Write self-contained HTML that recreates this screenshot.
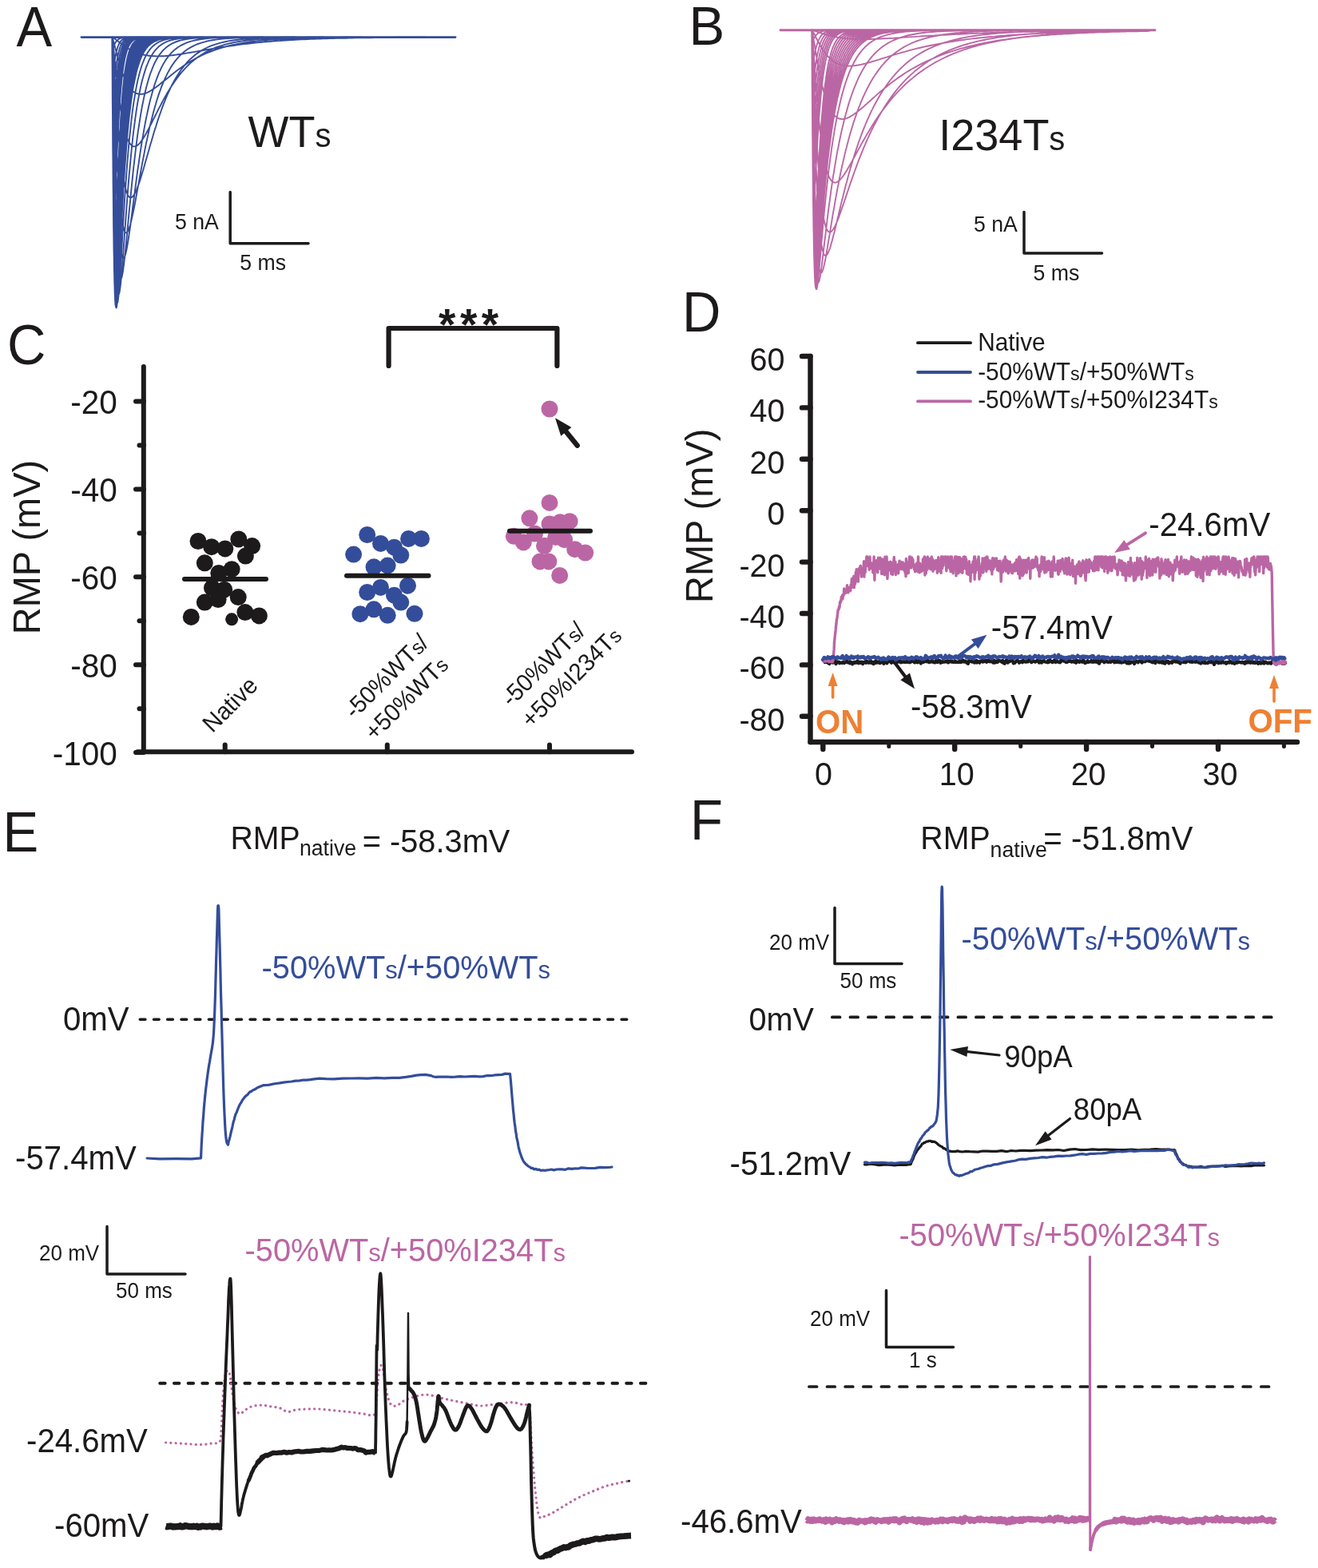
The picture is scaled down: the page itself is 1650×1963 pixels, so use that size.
<!DOCTYPE html>
<html lang="en"><head><meta charset="utf-8"><title>Figure</title>
<style>
html,body{margin:0;padding:0;background:#fff;}
body{width:1650px;height:1963px;overflow:hidden;}
svg{display:block;font-family:"Liberation Sans", Arial, Helvetica, sans-serif;}
text{white-space:pre;}
</style></head><body>
<svg width="1650" height="1963" viewBox="0 0 1650 1963">
<rect width="1650" height="1963" fill="#ffffff"/>
<text font-size="67" fill="#1c1a1a" text-anchor="start" font-weight="normal" transform="translate(20.4 58.3) scale(1 1.04)" >A</text>
<text font-size="67" fill="#1c1a1a" text-anchor="start" font-weight="normal" transform="translate(862.6 55.5) scale(1 1.02)" >B</text>
<text font-size="67" fill="#1c1a1a" text-anchor="start" font-weight="normal" transform="translate(9 455.5) scale(1 1.04)" >C</text>
<text font-size="67" fill="#1c1a1a" text-anchor="start" font-weight="normal" transform="translate(854 414.7) scale(1 1.04)" >D</text>
<text font-size="67" fill="#1c1a1a" text-anchor="start" font-weight="normal" transform="translate(3.5 1066) scale(1 1.04)" >E</text>
<text font-size="67" fill="#1c1a1a" text-anchor="start" font-weight="normal" transform="translate(864 1051) scale(1 1.04)" >F</text>
<line x1="102" y1="46.6" x2="570" y2="46.6" stroke="#344d9a" stroke-width="2.9" stroke-linecap="round" />
<path d="M140.3 46.4 L140.4 46.4 L140.6 46.5 L140.7 46.5 L140.8 46.6 L141 46.7 L141.1 46.7 L141.2 46.8 L141.4 46.9 L141.5 47 L141.6 47 L141.8 47.1 L141.9 47.2 L142 47.3 L142.1 47.4 L142.3 47.5 L142.4 47.6 L142.5 47.7 L142.7 47.7 L142.8 47.8 L142.9 47.9 L143.1 48 L143.2 48.1 L143.3 48.2 L143.5 48.3 L143.6 48.4 L143.7 48.5 L143.9 48.6 L144 48.7 L144.1 48.8 L144.3 48.9 L144.4 49 L144.5 49.1 L144.7 49.2 L144.8 49.3 L144.9 49.4 L145.1 49.5 L145.2 49.6 L145.3 49.7 L145.5 49.8 L145.6 49.9 L145.7 50.1 L145.8 50.2 L146 50.3 L146.1 50.4 L146.2 50.5 L146.4 50.6 L146.5 50.7 L146.6 50.8 L146.8 50.9 L146.9 51 L147 51.1 L147.2 51.2 L147.3 51.3 L147.4 51.4 L147.6 51.5 L147.7 51.6 L147.8 51.7 L148 51.8 L148.1 51.9 L148.2 52.1 L148.4 52.2 L148.5 52.3 L148.6 52.4 L148.8 52.5 L148.9 52.6 L149 52.7 L149.2 52.8 L149.3 52.9 L149.4 53 L149.5 53.1 L149.7 53.2 L149.8 53.3 L149.9 53.4 L150.1 53.5 L150.2 53.6 L150.3 53.7 L150.5 53.8 L150.6 53.9 L150.7 54 L150.9 54.1 L151 54.2 L151.1 54.3 L151.3 54.4 L151.4 54.5 L151.5 54.6 L151.7 54.7 L151.8 54.8 L151.9 54.9 L152.1 55 L152.7 55.5 L153.3 56 L153.9 56.4 L154.5 56.8 L155.1 57.3 L155.7 57.7 L156.3 58.1 L157 58.5 L157.6 58.9 L158.2 59.3 L158.8 59.7 L159.4 60.1 L160 60.5 L160.6 60.9 L161.2 61.2 L161.8 61.6 L162.5 61.9 L163.1 62.2 L163.7 62.6 L164.3 62.9 L164.9 63.2 L165.5 63.5 L166.1 63.8 L166.7 64.1 L167.3 64.4 L168 64.6 L168.6 64.9 L169.2 65.2 L169.8 65.4 L170.4 65.7 L171 65.9 L171.6 66.1 L172.2 66.4 L172.8 66.6 L173.5 66.8 L174.1 67 L174.7 67.2 L175.3 67.4 L175.9 67.5 L176.5 67.7 L177.1 67.9 L177.7 68 L178.3 68.2 L179 68.3 L179.6 68.5 L180.2 68.6 L180.8 68.8 L181.4 68.9 L182 69 L182.6 69.1 L183.2 69.2 L183.9 69.3 L184.5 69.4 L185.1 69.5 L185.7 69.6 L186.3 69.7 L186.9 69.8 L187.5 69.8 L188.1 69.9 L188.7 70 L189.4 70 L190 70.1 L190.6 70.1 L191.2 70.2 L191.8 70.2 L192.4 70.3 L193 70.3 L193.6 70.3 L194.2 70.3 L194.9 70.4 L195.5 70.4 L196.1 70.4 L196.7 70.4 L197.3 70.4 L197.9 70.4 L198.5 70.4 L199.1 70.4 L199.7 70.4 L200.4 70.4 L201 70.4 L201.6 70.3 L202.2 70.3 L202.8 70.3 L203.4 70.3 L204 70.2 L204.6 70.2 L205.2 70.2 L205.9 70.1 L206.5 70.1 L207.1 70.1 L207.7 70 L208.3 70 L208.9 69.9 L209.5 69.9 L210.1 69.8 L210.8 69.8 L211.4 69.7 L212 69.6 L212.6 69.6 L213.2 69.5 L213.8 69.4 L214.4 69.4 L215 69.3 L215.6 69.2 L216.3 69.2 L216.9 69.1 L217.5 69 L218.1 68.9 L218.7 68.9 L222.7 68.3 L226.6 67.7 L230.6 67.1 L234.6 66.4 L238.5 65.8 L242.5 65.1 L246.4 64.4 L250.4 63.7 L254.4 63 L258.3 62.3 L262.3 61.6 L266.3 60.9 L270.2 60.2 L274.2 59.6 L278.2 59 L282.1 58.4 L286.1 57.8 L290.1 57.2 L294 56.7 L298 56.1 L301.9 55.6 L305.9 55.1 L309.9 54.7 L313.8 54.2 L317.8 53.8 L321.8 53.4 L325.7 53 L329.7 52.6 L333.7 52.3 L337.6 52 L341.6 51.6 L345.5 51.3 L349.5 51.1 L353.5 50.8 L357.4 50.5 L361.4 50.3 L365.4 50.1 L369.3 49.8 L373.3 49.6 L377.3 49.4 L381.2 49.3 L385.2 49.1 L389.2 48.9 L393.1 48.8 L397.1 48.6 L401 48.5 L405 48.4 L409 48.2 L412.9 48.1 L416.9 48 L420.9 47.9 L424.8 47.8 L428.8 47.7 L432.8 47.7 L436.7 47.6 L440.7 47.5 L444.7 47.4 L448.6 47.4 L452.6 47.3 L456.5 47.3 L460.5 47.2 L464.5 47.2 L468.4 47.1 L472.4 47.1 L476.4 47 L480.3 47 L484.3 46.9 L488.3 46.9 L492.2 46.9 L496.2 46.8 L500.1 46.8 L504.1 46.8 L508.1 46.8 L512 46.7 L516 46.7 L520 46.7 L523.9 46.7 L527.9 46.7 L531.9 46.4 M140.3 46.4 L140.4 46.6 L140.6 46.9 L140.7 47.2 L140.8 47.5 L141 47.9 L141.1 48.3 L141.2 48.7 L141.4 49.1 L141.5 49.5 L141.6 50 L141.8 50.4 L141.9 50.9 L142 51.3 L142.1 51.8 L142.3 52.3 L142.4 52.8 L142.5 53.3 L142.7 53.8 L142.8 54.3 L142.9 54.8 L143.1 55.3 L143.2 55.8 L143.3 56.3 L143.5 56.8 L143.6 57.3 L143.7 57.8 L143.9 58.3 L144 58.8 L144.1 59.3 L144.3 59.8 L144.4 60.4 L144.5 60.9 L144.7 61.4 L144.8 61.9 L144.9 62.4 L145.1 62.9 L145.2 63.5 L145.3 64 L145.5 64.5 L145.6 65 L145.7 65.5 L145.8 66 L146 66.5 L146.1 67 L146.2 67.5 L146.4 68 L146.5 68.5 L146.6 69 L146.8 69.5 L146.9 70 L147 70.5 L147.2 71 L147.3 71.5 L147.4 72 L147.6 72.5 L147.7 72.9 L147.8 73.4 L148 73.9 L148.1 74.4 L148.2 74.9 L148.4 75.3 L148.5 75.8 L148.6 76.3 L148.8 76.7 L148.9 77.2 L149 77.7 L149.2 78.1 L149.3 78.6 L149.4 79 L149.5 79.5 L149.7 79.9 L149.8 80.4 L149.9 80.8 L150.1 81.2 L150.2 81.7 L150.3 82.1 L150.5 82.5 L150.6 83 L150.7 83.4 L150.9 83.8 L151 84.2 L151.1 84.6 L151.3 85.1 L151.4 85.5 L151.5 85.9 L151.7 86.3 L151.8 86.7 L151.9 87.1 L152.1 87.5 L152.7 89.3 L153.3 91 L153.9 92.7 L154.5 94.3 L155.1 95.8 L155.7 97.3 L156.3 98.7 L157 100.1 L157.6 101.4 L158.2 102.6 L158.8 103.8 L159.4 104.9 L160 106 L160.6 107 L161.2 108 L161.8 108.9 L162.5 109.7 L163.1 110.5 L163.7 111.3 L164.3 112 L164.9 112.7 L165.5 113.3 L166.1 113.9 L166.7 114.4 L167.3 114.9 L168 115.3 L168.6 115.7 L169.2 116.1 L169.8 116.4 L170.4 116.7 L171 117 L171.6 117.2 L172.2 117.4 L172.8 117.5 L173.5 117.7 L174.1 117.8 L174.7 117.8 L175.3 117.9 L175.9 117.9 L176.5 117.9 L177.1 117.9 L177.7 117.8 L178.3 117.7 L179 117.6 L179.6 117.5 L180.2 117.3 L180.8 117.2 L181.4 117 L182 116.8 L182.6 116.6 L183.2 116.3 L183.9 116.1 L184.5 115.8 L185.1 115.5 L185.7 115.2 L186.3 114.9 L186.9 114.6 L187.5 114.3 L188.1 113.9 L188.7 113.5 L189.4 113.2 L190 112.8 L190.6 112.4 L191.2 112 L191.8 111.6 L192.4 111.2 L193 110.8 L193.6 110.3 L194.2 109.9 L194.9 109.5 L195.5 109 L196.1 108.6 L196.7 108.1 L197.3 107.6 L197.9 107.2 L198.5 106.7 L199.1 106.2 L199.7 105.8 L200.4 105.3 L201 104.8 L201.6 104.3 L202.2 103.8 L202.8 103.3 L203.4 102.8 L204 102.3 L204.6 101.8 L205.2 101.3 L205.9 100.8 L206.5 100.4 L207.1 99.9 L207.7 99.4 L208.3 98.9 L208.9 98.4 L209.5 97.9 L210.1 97.4 L210.8 96.9 L211.4 96.4 L212 95.9 L212.6 95.4 L213.2 94.9 L213.8 94.4 L214.4 93.9 L215 93.4 L215.6 93 L216.3 92.5 L216.9 92 L217.5 91.5 L218.1 91 L218.7 90.6 L222.7 87.6 L226.6 84.7 L230.6 81.9 L234.6 79.3 L238.5 76.8 L242.5 74.5 L246.4 72.3 L250.4 70.3 L254.4 68.4 L258.3 66.6 L262.3 65 L266.3 63.5 L270.2 62.1 L274.2 60.8 L278.2 59.6 L282.1 58.5 L286.1 57.5 L290.1 56.5 L294 55.7 L298 54.9 L301.9 54.2 L305.9 53.5 L309.9 52.9 L313.8 52.3 L317.8 51.8 L321.8 51.4 L325.7 50.9 L329.7 50.5 L333.7 50.2 L337.6 49.9 L341.6 49.6 L345.5 49.3 L349.5 49 L353.5 48.8 L357.4 48.6 L361.4 48.4 L365.4 48.2 L369.3 48.1 L373.3 47.9 L377.3 47.8 L381.2 47.7 L385.2 47.6 L389.2 47.5 L393.1 47.4 L397.1 47.3 L401 47.2 L405 47.1 L409 47.1 L412.9 47 L416.9 47 L420.9 46.9 L424.8 46.9 L428.8 46.8 L432.8 46.8 L436.7 46.8 L440.7 46.7 L444.7 46.7 L448.6 46.7 L452.6 46.4 M140.3 46.4 L140.4 46.9 L140.6 47.6 L140.7 48.4 L140.8 49.3 L141 50.3 L141.1 51.3 L141.2 52.4 L141.4 53.4 L141.5 54.6 L141.6 55.7 L141.8 56.9 L141.9 58 L142 59.2 L142.1 60.4 L142.3 61.6 L142.4 62.9 L142.5 64.1 L142.7 65.3 L142.8 66.6 L142.9 67.9 L143.1 69.1 L143.2 70.4 L143.3 71.6 L143.5 72.9 L143.6 74.2 L143.7 75.4 L143.9 76.7 L144 77.9 L144.1 79.2 L144.3 80.5 L144.4 81.7 L144.5 83 L144.7 84.2 L144.8 85.5 L144.9 86.7 L145.1 87.9 L145.2 89.2 L145.3 90.4 L145.5 91.6 L145.6 92.8 L145.7 94 L145.8 95.2 L146 96.4 L146.1 97.6 L146.2 98.8 L146.4 99.9 L146.5 101.1 L146.6 102.3 L146.8 103.4 L146.9 104.6 L147 105.7 L147.2 106.8 L147.3 107.9 L147.4 109 L147.6 110.1 L147.7 111.2 L147.8 112.3 L148 113.4 L148.1 114.5 L148.2 115.5 L148.4 116.6 L148.5 117.6 L148.6 118.6 L148.8 119.7 L148.9 120.7 L149 121.7 L149.2 122.7 L149.3 123.7 L149.4 124.6 L149.5 125.6 L149.7 126.6 L149.8 127.5 L149.9 128.5 L150.1 129.4 L150.2 130.3 L150.3 131.2 L150.5 132.1 L150.6 133 L150.7 133.9 L150.9 134.8 L151 135.7 L151.1 136.5 L151.3 137.4 L151.4 138.2 L151.5 139 L151.7 139.9 L151.8 140.7 L151.9 141.5 L152.1 142.3 L152.7 145.8 L153.3 149.2 L153.9 152.4 L154.5 155.3 L155.1 158.2 L155.7 160.8 L156.3 163.2 L157 165.5 L157.6 167.7 L158.2 169.6 L158.8 171.4 L159.4 173.1 L160 174.6 L160.6 176 L161.2 177.3 L161.8 178.4 L162.5 179.4 L163.1 180.2 L163.7 181 L164.3 181.6 L164.9 182.2 L165.5 182.6 L166.1 182.9 L166.7 183.2 L167.3 183.3 L168 183.4 L168.6 183.4 L169.2 183.3 L169.8 183.1 L170.4 182.9 L171 182.6 L171.6 182.2 L172.2 181.8 L172.8 181.3 L173.5 180.7 L174.1 180.1 L174.7 179.5 L175.3 178.8 L175.9 178 L176.5 177.2 L177.1 176.4 L177.7 175.6 L178.3 174.7 L179 173.7 L179.6 172.8 L180.2 171.8 L180.8 170.8 L181.4 169.7 L182 168.7 L182.6 167.6 L183.2 166.5 L183.9 165.4 L184.5 164.3 L185.1 163.1 L185.7 162 L186.3 160.8 L186.9 159.6 L187.5 158.4 L188.1 157.2 L188.7 156 L189.4 154.8 L190 153.6 L190.6 152.4 L191.2 151.2 L191.8 149.9 L192.4 148.7 L193 147.5 L193.6 146.3 L194.2 145 L194.9 143.8 L195.5 142.6 L196.1 141.4 L196.7 140.2 L197.3 139 L197.9 137.7 L198.5 136.5 L199.1 135.4 L199.7 134.2 L200.4 133 L201 131.8 L201.6 130.7 L202.2 129.5 L202.8 128.3 L203.4 127.2 L204 126.1 L204.6 124.9 L205.2 123.8 L205.9 122.7 L206.5 121.6 L207.1 120.5 L207.7 119.5 L208.3 118.4 L208.9 117.3 L209.5 116.3 L210.1 115.3 L210.8 114.2 L211.4 113.2 L212 112.2 L212.6 111.2 L213.2 110.2 L213.8 109.3 L214.4 108.3 L215 107.4 L215.6 106.4 L216.3 105.5 L216.9 104.6 L217.5 103.7 L218.1 102.8 L218.7 101.9 L222.7 96.4 L226.6 91.4 L230.6 86.9 L234.6 82.7 L238.5 78.9 L242.5 75.5 L246.4 72.4 L250.4 69.7 L254.4 67.2 L258.3 64.9 L262.3 62.9 L266.3 61.1 L270.2 59.5 L274.2 58.1 L278.2 56.8 L282.1 55.7 L286.1 54.6 L290.1 53.7 L294 52.9 L298 52.2 L301.9 51.6 L305.9 51 L309.9 50.5 L313.8 50 L317.8 49.6 L321.8 49.3 L325.7 48.9 L329.7 48.7 L333.7 48.4 L337.6 48.2 L341.6 48 L345.5 47.8 L349.5 47.6 L353.5 47.5 L357.4 47.4 L361.4 47.3 L365.4 47.2 L369.3 47.1 L373.3 47 L377.3 46.9 L381.2 46.9 L385.2 46.8 L389.2 46.8 L393.1 46.7 L397.1 46.7 L401 46.7 L405 46.4 M140.3 46.4 L140.4 47.3 L140.6 48.6 L140.7 50.1 L140.8 51.8 L141 53.5 L141.1 55.4 L141.2 57.3 L141.4 59.2 L141.5 61.3 L141.6 63.3 L141.8 65.4 L141.9 67.5 L142 69.6 L142.1 71.8 L142.3 74 L142.4 76.1 L142.5 78.3 L142.7 80.5 L142.8 82.7 L142.9 84.9 L143.1 87.1 L143.2 89.4 L143.3 91.6 L143.5 93.8 L143.6 96 L143.7 98.2 L143.9 100.3 L144 102.5 L144.1 104.7 L144.3 106.8 L144.4 109 L144.5 111.1 L144.7 113.3 L144.8 115.4 L144.9 117.5 L145.1 119.6 L145.2 121.6 L145.3 123.7 L145.5 125.7 L145.6 127.8 L145.7 129.8 L145.8 131.8 L146 133.8 L146.1 135.7 L146.2 137.7 L146.4 139.6 L146.5 141.5 L146.6 143.4 L146.8 145.3 L146.9 147.1 L147 149 L147.2 150.8 L147.3 152.6 L147.4 154.4 L147.6 156.2 L147.7 157.9 L147.8 159.6 L148 161.4 L148.1 163 L148.2 164.7 L148.4 166.4 L148.5 168 L148.6 169.6 L148.8 171.2 L148.9 172.8 L149 174.3 L149.2 175.9 L149.3 177.4 L149.4 178.9 L149.5 180.4 L149.7 181.8 L149.8 183.3 L149.9 184.7 L150.1 186.1 L150.2 187.5 L150.3 188.9 L150.5 190.2 L150.6 191.5 L150.7 192.8 L150.9 194.1 L151 195.4 L151.1 196.7 L151.3 197.9 L151.4 199.1 L151.5 200.3 L151.7 201.5 L151.8 202.7 L151.9 203.8 L152.1 204.9 L152.7 209.9 L153.3 214.5 L153.9 218.8 L154.5 222.7 L155.1 226.2 L155.7 229.5 L156.3 232.4 L157 235 L157.6 237.4 L158.2 239.4 L158.8 241.2 L159.4 242.8 L160 244.1 L160.6 245.2 L161.2 246 L161.8 246.6 L162.5 247.1 L163.1 247.3 L163.7 247.4 L164.3 247.3 L164.9 247 L165.5 246.6 L166.1 246.1 L166.7 245.4 L167.3 244.6 L168 243.7 L168.6 242.6 L169.2 241.5 L169.8 240.2 L170.4 238.9 L171 237.5 L171.6 236 L172.2 234.4 L172.8 232.7 L173.5 231 L174.1 229.3 L174.7 227.5 L175.3 225.6 L175.9 223.7 L176.5 221.8 L177.1 219.8 L177.7 217.8 L178.3 215.7 L179 213.7 L179.6 211.6 L180.2 209.5 L180.8 207.4 L181.4 205.2 L182 203.1 L182.6 201 L183.2 198.8 L183.9 196.6 L184.5 194.5 L185.1 192.3 L185.7 190.2 L186.3 188 L186.9 185.9 L187.5 183.7 L188.1 181.6 L188.7 179.5 L189.4 177.4 L190 175.3 L190.6 173.2 L191.2 171.2 L191.8 169.1 L192.4 167.1 L193 165.1 L193.6 163.1 L194.2 161.1 L194.9 159.1 L195.5 157.2 L196.1 155.3 L196.7 153.4 L197.3 151.5 L197.9 149.6 L198.5 147.8 L199.1 146 L199.7 144.2 L200.4 142.4 L201 140.7 L201.6 139 L202.2 137.3 L202.8 135.6 L203.4 133.9 L204 132.3 L204.6 130.7 L205.2 129.1 L205.9 127.6 L206.5 126 L207.1 124.5 L207.7 123 L208.3 121.6 L208.9 120.1 L209.5 118.7 L210.1 117.3 L210.8 115.9 L211.4 114.6 L212 113.3 L212.6 112 L213.2 110.7 L213.8 109.4 L214.4 108.2 L215 106.9 L215.6 105.7 L216.3 104.6 L216.9 103.4 L217.5 102.3 L218.1 101.1 L218.7 100 L222.7 93.4 L226.6 87.5 L230.6 82.3 L234.6 77.7 L238.5 73.7 L242.5 70.2 L246.4 67.1 L250.4 64.4 L254.4 62 L258.3 60 L262.3 58.2 L266.3 56.6 L270.2 55.3 L274.2 54.1 L278.2 53.1 L282.1 52.2 L286.1 51.4 L290.1 50.7 L294 50.2 L298 49.7 L301.9 49.2 L305.9 48.8 L309.9 48.5 L313.8 48.2 L317.8 48 L321.8 47.8 L325.7 47.6 L329.7 47.4 L333.7 47.3 L337.6 47.2 L341.6 47.1 L345.5 47 L349.5 46.9 L353.5 46.8 L357.4 46.8 L361.4 46.7 L365.4 46.7 L369.3 46.4 M140.3 46.4 L140.4 48 L140.6 50.3 L140.7 53 L140.8 55.9 L141 58.9 L141.1 62.1 L141.2 65.4 L141.4 68.7 L141.5 72.2 L141.6 75.6 L141.8 79.1 L141.9 82.7 L142 86.2 L142.1 89.8 L142.3 93.4 L142.4 97 L142.5 100.6 L142.7 104.2 L142.8 107.7 L142.9 111.3 L143.1 114.8 L143.2 118.3 L143.3 121.8 L143.5 125.3 L143.6 128.8 L143.7 132.2 L143.9 135.6 L144 138.9 L144.1 142.3 L144.3 145.5 L144.4 148.8 L144.5 152 L144.7 155.2 L144.8 158.4 L144.9 161.5 L145.1 164.6 L145.2 167.6 L145.3 170.6 L145.5 173.5 L145.6 176.5 L145.7 179.3 L145.8 182.2 L146 185 L146.1 187.7 L146.2 190.4 L146.4 193.1 L146.5 195.7 L146.6 198.3 L146.8 200.9 L146.9 203.4 L147 205.8 L147.2 208.3 L147.3 210.6 L147.4 213 L147.6 215.3 L147.7 217.5 L147.8 219.7 L148 221.9 L148.1 224.1 L148.2 226.1 L148.4 228.2 L148.5 230.2 L148.6 232.2 L148.8 234.1 L148.9 236 L149 237.9 L149.2 239.7 L149.3 241.5 L149.4 243.2 L149.5 244.9 L149.7 246.6 L149.8 248.2 L149.9 249.8 L150.1 251.4 L150.2 252.9 L150.3 254.4 L150.5 255.9 L150.6 257.3 L150.7 258.7 L150.9 260 L151 261.3 L151.1 262.6 L151.3 263.8 L151.4 265.1 L151.5 266.2 L151.7 267.4 L151.8 268.5 L151.9 269.6 L152.1 270.6 L152.7 275.1 L153.3 279 L153.9 282.3 L154.5 285 L155.1 287.2 L155.7 288.9 L156.3 290.1 L157 290.9 L157.6 291.4 L158.2 291.4 L158.8 291.1 L159.4 290.5 L160 289.6 L160.6 288.4 L161.2 286.9 L161.8 285.2 L162.5 283.4 L163.1 281.3 L163.7 279 L164.3 276.6 L164.9 274.1 L165.5 271.4 L166.1 268.6 L166.7 265.7 L167.3 262.7 L168 259.6 L168.6 256.5 L169.2 253.3 L169.8 250 L170.4 246.8 L171 243.4 L171.6 240.1 L172.2 236.7 L172.8 233.4 L173.5 230 L174.1 226.6 L174.7 223.2 L175.3 219.9 L175.9 216.5 L176.5 213.2 L177.1 209.9 L177.7 206.6 L178.3 203.3 L179 200.1 L179.6 196.9 L180.2 193.7 L180.8 190.6 L181.4 187.5 L182 184.4 L182.6 181.4 L183.2 178.4 L183.9 175.5 L184.5 172.6 L185.1 169.8 L185.7 167 L186.3 164.2 L186.9 161.5 L187.5 158.9 L188.1 156.3 L188.7 153.7 L189.4 151.2 L190 148.7 L190.6 146.3 L191.2 143.9 L191.8 141.6 L192.4 139.3 L193 137.1 L193.6 134.9 L194.2 132.7 L194.9 130.6 L195.5 128.6 L196.1 126.6 L196.7 124.6 L197.3 122.7 L197.9 120.8 L198.5 118.9 L199.1 117.1 L199.7 115.4 L200.4 113.6 L201 112 L201.6 110.3 L202.2 108.7 L202.8 107.1 L203.4 105.6 L204 104.1 L204.6 102.6 L205.2 101.2 L205.9 99.8 L206.5 98.4 L207.1 97.1 L207.7 95.8 L208.3 94.6 L208.9 93.3 L209.5 92.1 L210.1 90.9 L210.8 89.8 L211.4 88.7 L212 87.6 L212.6 86.5 L213.2 85.5 L213.8 84.5 L214.4 83.5 L215 82.5 L215.6 81.6 L216.3 80.7 L216.9 79.8 L217.5 78.9 L218.1 78.1 L218.7 77.2 L222.7 72.4 L226.6 68.2 L230.6 64.8 L234.6 61.8 L238.5 59.4 L242.5 57.3 L246.4 55.5 L250.4 54.1 L254.4 52.8 L258.3 51.8 L262.3 50.9 L266.3 50.2 L270.2 49.6 L274.2 49.1 L278.2 48.6 L282.1 48.3 L286.1 48 L290.1 47.7 L294 47.5 L298 47.3 L301.9 47.2 L305.9 47.1 L309.9 47 L313.8 46.9 L317.8 46.8 L321.8 46.7 L325.7 46.7 L329.7 46.4 M140.3 46.4 L140.4 48.8 L140.6 52.3 L140.7 56.3 L140.8 60.6 L141 65.1 L141.1 69.8 L141.2 74.7 L141.4 79.6 L141.5 84.6 L141.6 89.6 L141.8 94.7 L141.9 99.8 L142 104.9 L142.1 109.9 L142.3 115 L142.4 120 L142.5 125.1 L142.7 130 L142.8 135 L142.9 139.8 L143.1 144.7 L143.2 149.5 L143.3 154.2 L143.5 158.9 L143.6 163.5 L143.7 168 L143.9 172.5 L144 176.9 L144.1 181.2 L144.3 185.5 L144.4 189.7 L144.5 193.8 L144.7 197.9 L144.8 201.9 L144.9 205.8 L145.1 209.6 L145.2 213.4 L145.3 217.1 L145.5 220.7 L145.6 224.2 L145.7 227.7 L145.8 231.1 L146 234.4 L146.1 237.7 L146.2 240.8 L146.4 243.9 L146.5 247 L146.6 249.9 L146.8 252.8 L146.9 255.7 L147 258.4 L147.2 261.1 L147.3 263.7 L147.4 266.2 L147.6 268.7 L147.7 271.1 L147.8 273.5 L148 275.7 L148.1 278 L148.2 280.1 L148.4 282.2 L148.5 284.2 L148.6 286.2 L148.8 288.1 L148.9 289.9 L149 291.7 L149.2 293.4 L149.3 295.1 L149.4 296.7 L149.5 298.3 L149.7 299.8 L149.8 301.2 L149.9 302.6 L150.1 304 L150.2 305.2 L150.3 306.5 L150.5 307.7 L150.6 308.8 L150.7 309.9 L150.9 310.9 L151 311.9 L151.1 312.9 L151.3 313.7 L151.4 314.6 L151.5 315.4 L151.7 316.2 L151.8 316.9 L151.9 317.6 L152.1 318.2 L152.7 320.7 L153.3 322.3 L153.9 323.2 L154.5 323.4 L155.1 323 L155.7 322.1 L156.3 320.6 L157 318.7 L157.6 316.4 L158.2 313.7 L158.8 310.7 L159.4 307.4 L160 303.8 L160.6 300 L161.2 296.1 L161.8 291.9 L162.5 287.6 L163.1 283.3 L163.7 278.8 L164.3 274.2 L164.9 269.6 L165.5 264.9 L166.1 260.2 L166.7 255.5 L167.3 250.8 L168 246 L168.6 241.4 L169.2 236.7 L169.8 232.1 L170.4 227.5 L171 222.9 L171.6 218.4 L172.2 214 L172.8 209.6 L173.5 205.3 L174.1 201.1 L174.7 196.9 L175.3 192.8 L175.9 188.8 L176.5 184.9 L177.1 181 L177.7 177.3 L178.3 173.6 L179 170 L179.6 166.4 L180.2 163 L180.8 159.6 L181.4 156.3 L182 153.1 L182.6 150 L183.2 146.9 L183.9 143.9 L184.5 141 L185.1 138.2 L185.7 135.5 L186.3 132.8 L186.9 130.2 L187.5 127.6 L188.1 125.2 L188.7 122.8 L189.4 120.5 L190 118.2 L190.6 116 L191.2 113.8 L191.8 111.8 L192.4 109.8 L193 107.8 L193.6 105.9 L194.2 104 L194.9 102.3 L195.5 100.5 L196.1 98.8 L196.7 97.2 L197.3 95.6 L197.9 94.1 L198.5 92.6 L199.1 91.1 L199.7 89.7 L200.4 88.3 L201 87 L201.6 85.7 L202.2 84.5 L202.8 83.3 L203.4 82.1 L204 81 L204.6 79.9 L205.2 78.8 L205.9 77.8 L206.5 76.8 L207.1 75.8 L207.7 74.9 L208.3 74 L208.9 73.1 L209.5 72.3 L210.1 71.4 L210.8 70.6 L211.4 69.9 L212 69.1 L212.6 68.4 L213.2 67.7 L213.8 67 L214.4 66.3 L215 65.7 L215.6 65.1 L216.3 64.5 L216.9 63.9 L217.5 63.3 L218.1 62.8 L218.7 62.3 L222.7 59.2 L226.6 56.8 L230.6 54.8 L234.6 53.2 L238.5 51.9 L242.5 50.8 L246.4 50 L250.4 49.3 L254.4 48.7 L258.3 48.3 L262.3 47.9 L266.3 47.6 L270.2 47.4 L274.2 47.2 L278.2 47.1 L282.1 46.9 L286.1 46.8 L290.1 46.7 L294 46.7 L298 46.4 M140.3 46.4 L140.4 50.2 L140.6 55.7 L140.7 61.9 L140.8 68.5 L141 75.4 L141.1 82.5 L141.2 89.7 L141.4 97 L141.5 104.4 L141.6 111.8 L141.8 119.1 L141.9 126.4 L142 133.7 L142.1 140.8 L142.3 147.9 L142.4 154.9 L142.5 161.8 L142.7 168.5 L142.8 175.2 L142.9 181.7 L143.1 188.1 L143.2 194.4 L143.3 200.5 L143.5 206.5 L143.6 212.3 L143.7 218.1 L143.9 223.6 L144 229.1 L144.1 234.3 L144.3 239.5 L144.4 244.5 L144.5 249.4 L144.7 254.1 L144.8 258.7 L144.9 263.1 L145.1 267.5 L145.2 271.6 L145.3 275.7 L145.5 279.6 L145.6 283.4 L145.7 287 L145.8 290.6 L146 294 L146.1 297.2 L146.2 300.4 L146.4 303.4 L146.5 306.3 L146.6 309.1 L146.8 311.8 L146.9 314.4 L147 316.9 L147.2 319.2 L147.3 321.5 L147.4 323.6 L147.6 325.7 L147.7 327.6 L147.8 329.5 L148 331.2 L148.1 332.9 L148.2 334.4 L148.4 335.9 L148.5 337.3 L148.6 338.6 L148.8 339.8 L148.9 340.9 L149 342 L149.2 343 L149.3 343.9 L149.4 344.7 L149.5 345.5 L149.7 346.1 L149.8 346.8 L149.9 347.3 L150.1 347.8 L150.2 348.2 L150.3 348.5 L150.5 348.8 L150.6 349.1 L150.7 349.2 L150.9 349.3 L151 349.4 L151.1 349.4 L151.3 349.4 L151.4 349.3 L151.5 349.1 L151.7 348.9 L151.8 348.7 L151.9 348.4 L152.1 348 L152.7 346 L153.3 343.1 L153.9 339.5 L154.5 335.3 L155.1 330.7 L155.7 325.5 L156.3 320.1 L157 314.3 L157.6 308.4 L158.2 302.2 L158.8 295.9 L159.4 289.5 L160 283 L160.6 276.5 L161.2 270.1 L161.8 263.6 L162.5 257.2 L163.1 250.8 L163.7 244.5 L164.3 238.3 L164.9 232.2 L165.5 226.3 L166.1 220.4 L166.7 214.7 L167.3 209 L168 203.6 L168.6 198.2 L169.2 193 L169.8 188 L170.4 183 L171 178.3 L171.6 173.6 L172.2 169.1 L172.8 164.7 L173.5 160.5 L174.1 156.4 L174.7 152.4 L175.3 148.6 L175.9 144.9 L176.5 141.3 L177.1 137.8 L177.7 134.4 L178.3 131.2 L179 128.1 L179.6 125.1 L180.2 122.1 L180.8 119.3 L181.4 116.6 L182 114 L182.6 111.5 L183.2 109 L183.9 106.7 L184.5 104.4 L185.1 102.3 L185.7 100.2 L186.3 98.1 L186.9 96.2 L187.5 94.3 L188.1 92.5 L188.7 90.8 L189.4 89.1 L190 87.5 L190.6 85.9 L191.2 84.4 L191.8 83 L192.4 81.6 L193 80.2 L193.6 79 L194.2 77.7 L194.9 76.5 L195.5 75.4 L196.1 74.3 L196.7 73.2 L197.3 72.2 L197.9 71.2 L198.5 70.3 L199.1 69.4 L199.7 68.5 L200.4 67.6 L201 66.8 L201.6 66.1 L202.2 65.3 L202.8 64.6 L203.4 63.9 L204 63.2 L204.6 62.6 L205.2 62 L205.9 61.4 L206.5 60.8 L207.1 60.3 L207.7 59.7 L208.3 59.2 L208.9 58.7 L209.5 58.3 L210.1 57.8 L210.8 57.4 L211.4 56.9 L212 56.5 L212.6 56.2 L213.2 55.8 L213.8 55.4 L214.4 55.1 L215 54.7 L215.6 54.4 L216.3 54.1 L216.9 53.8 L217.5 53.5 L218.1 53.3 L218.7 53 L222.7 51.5 L226.6 50.4 L230.6 49.5 L234.6 48.8 L238.5 48.3 L242.5 47.9 L246.4 47.5 L250.4 47.3 L254.4 47.1 L258.3 46.9 L262.3 46.8 L266.3 46.7 L270.2 46.4 M140.3 46.4 L140.4 52.3 L140.6 60.6 L140.7 69.9 L140.8 79.8 L141 90 L141.1 100.4 L141.2 110.8 L141.4 121.2 L141.5 131.5 L141.6 141.7 L141.8 151.8 L141.9 161.7 L142 171.4 L142.1 180.8 L142.3 190.1 L142.4 199 L142.5 207.8 L142.7 216.2 L142.8 224.4 L142.9 232.4 L143.1 240 L143.2 247.4 L143.3 254.6 L143.5 261.4 L143.6 268 L143.7 274.4 L143.9 280.5 L144 286.3 L144.1 291.9 L144.3 297.2 L144.4 302.3 L144.5 307.2 L144.7 311.9 L144.8 316.3 L144.9 320.5 L145.1 324.4 L145.2 328.2 L145.3 331.8 L145.5 335.1 L145.6 338.3 L145.7 341.2 L145.8 344 L146 346.6 L146.1 349.1 L146.2 351.3 L146.4 353.4 L146.5 355.4 L146.6 357.2 L146.8 358.8 L146.9 360.3 L147 361.6 L147.2 362.9 L147.3 363.9 L147.4 364.9 L147.6 365.7 L147.7 366.4 L147.8 367 L148 367.5 L148.1 367.9 L148.2 368.2 L148.4 368.3 L148.5 368.4 L148.6 368.4 L148.8 368.3 L148.9 368.1 L149 367.8 L149.2 367.4 L149.3 367 L149.4 366.5 L149.5 365.9 L149.7 365.3 L149.8 364.6 L149.9 363.8 L150.1 362.9 L150.2 362.1 L150.3 361.1 L150.5 360.1 L150.6 359 L150.7 357.9 L150.9 356.8 L151 355.6 L151.1 354.4 L151.3 353.1 L151.4 351.8 L151.5 350.4 L151.7 349 L151.8 347.6 L151.9 346.2 L152.1 344.7 L152.7 337.5 L153.3 329.9 L153.9 321.9 L154.5 313.6 L155.1 305.3 L155.7 296.8 L156.3 288.3 L157 279.9 L157.6 271.6 L158.2 263.3 L158.8 255.2 L159.4 247.3 L160 239.6 L160.6 232 L161.2 224.7 L161.8 217.6 L162.5 210.7 L163.1 204 L163.7 197.6 L164.3 191.3 L164.9 185.3 L165.5 179.6 L166.1 174 L166.7 168.6 L167.3 163.5 L168 158.5 L168.6 153.8 L169.2 149.2 L169.8 144.8 L170.4 140.6 L171 136.6 L171.6 132.7 L172.2 129 L172.8 125.5 L173.5 122 L174.1 118.8 L174.7 115.7 L175.3 112.7 L175.9 109.8 L176.5 107.1 L177.1 104.4 L177.7 101.9 L178.3 99.5 L179 97.2 L179.6 95 L180.2 92.9 L180.8 90.9 L181.4 88.9 L182 87.1 L182.6 85.3 L183.2 83.6 L183.9 82 L184.5 80.5 L185.1 79 L185.7 77.6 L186.3 76.2 L186.9 74.9 L187.5 73.7 L188.1 72.5 L188.7 71.3 L189.4 70.3 L190 69.2 L190.6 68.2 L191.2 67.3 L191.8 66.4 L192.4 65.5 L193 64.7 L193.6 63.9 L194.2 63.1 L194.9 62.4 L195.5 61.7 L196.1 61 L196.7 60.4 L197.3 59.8 L197.9 59.2 L198.5 58.6 L199.1 58.1 L199.7 57.6 L200.4 57.1 L201 56.6 L201.6 56.2 L202.2 55.8 L202.8 55.4 L203.4 55 L204 54.6 L204.6 54.2 L205.2 53.9 L205.9 53.6 L206.5 53.3 L207.1 53 L207.7 52.7 L208.3 52.4 L208.9 52.1 L209.5 51.9 L210.1 51.6 L210.8 51.4 L211.4 51.2 L212 51 L212.6 50.8 L213.2 50.6 L213.8 50.4 L214.4 50.2 L215 50.1 L215.6 49.9 L216.3 49.8 L216.9 49.6 L217.5 49.5 L218.1 49.3 L218.7 49.2 L222.7 48.5 L226.6 48 L230.6 47.6 L234.6 47.3 L238.5 47.1 L242.5 46.9 L246.4 46.8 L250.4 46.7 L254.4 46.4 M140.3 46.4 L140.4 54.9 L140.6 66.8 L140.7 79.9 L140.8 93.5 L141 107.5 L141.1 121.4 L141.2 135.3 L141.4 148.9 L141.5 162.2 L141.6 175.2 L141.8 187.7 L141.9 199.9 L142 211.6 L142.1 222.9 L142.3 233.7 L142.4 244 L142.5 253.9 L142.7 263.3 L142.8 272.3 L142.9 280.8 L143.1 288.9 L143.2 296.5 L143.3 303.7 L143.5 310.5 L143.6 316.9 L143.7 323 L143.9 328.6 L144 333.8 L144.1 338.7 L144.3 343.3 L144.4 347.5 L144.5 351.5 L144.7 355.1 L144.8 358.4 L144.9 361.4 L145.1 364.1 L145.2 366.6 L145.3 368.8 L145.5 370.8 L145.6 372.6 L145.7 374.1 L145.8 375.4 L146 376.5 L146.1 377.4 L146.2 378.2 L146.4 378.7 L146.5 379.1 L146.6 379.3 L146.8 379.4 L146.9 379.3 L147 379.1 L147.2 378.7 L147.3 378.3 L147.4 377.7 L147.6 377 L147.7 376.1 L147.8 375.2 L148 374.2 L148.1 373.1 L148.2 371.9 L148.4 370.6 L148.5 369.2 L148.6 367.8 L148.8 366.3 L148.9 364.7 L149 363.1 L149.2 361.4 L149.3 359.7 L149.4 357.9 L149.5 356.1 L149.7 354.2 L149.8 352.3 L149.9 350.3 L150.1 348.3 L150.2 346.3 L150.3 344.3 L150.5 342.2 L150.6 340.1 L150.7 338 L150.9 335.8 L151 333.7 L151.1 331.5 L151.3 329.3 L151.4 327.1 L151.5 324.8 L151.7 322.6 L151.8 320.4 L151.9 318.1 L152.1 315.9 L152.7 305.4 L153.3 295 L153.9 284.7 L154.5 274.5 L155.1 264.6 L155.7 254.9 L156.3 245.5 L157 236.4 L157.6 227.7 L158.2 219.2 L158.8 211.1 L159.4 203.4 L160 195.9 L160.6 188.8 L161.2 182 L161.8 175.5 L162.5 169.2 L163.1 163.3 L163.7 157.6 L164.3 152.2 L164.9 147.1 L165.5 142.2 L166.1 137.5 L166.7 133.1 L167.3 128.9 L168 124.8 L168.6 121 L169.2 117.4 L169.8 113.9 L170.4 110.6 L171 107.4 L171.6 104.5 L172.2 101.6 L172.8 98.9 L173.5 96.3 L174.1 93.9 L174.7 91.6 L175.3 89.3 L175.9 87.2 L176.5 85.2 L177.1 83.3 L177.7 81.5 L178.3 79.8 L179 78.2 L179.6 76.6 L180.2 75.1 L180.8 73.7 L181.4 72.4 L182 71.1 L182.6 69.9 L183.2 68.7 L183.9 67.6 L184.5 66.6 L185.1 65.6 L185.7 64.7 L186.3 63.8 L186.9 62.9 L187.5 62.1 L188.1 61.3 L188.7 60.6 L189.4 59.9 L190 59.2 L190.6 58.6 L191.2 58 L191.8 57.4 L192.4 56.9 L193 56.4 L193.6 55.9 L194.2 55.4 L194.9 55 L195.5 54.6 L196.1 54.2 L196.7 53.8 L197.3 53.4 L197.9 53.1 L198.5 52.7 L199.1 52.4 L199.7 52.1 L200.4 51.9 L201 51.6 L201.6 51.3 L202.2 51.1 L202.8 50.9 L203.4 50.6 L204 50.4 L204.6 50.2 L205.2 50.1 L205.9 49.9 L206.5 49.7 L207.1 49.5 L207.7 49.4 L208.3 49.2 L208.9 49.1 L209.5 49 L210.1 48.8 L210.8 48.7 L211.4 48.6 L212 48.5 L212.6 48.4 L213.2 48.3 L213.8 48.2 L214.4 48.1 L215 48 L215.6 48 L216.3 47.9 L216.9 47.8 L217.5 47.7 L218.1 47.7 L218.7 47.6 L222.7 47.3 L226.6 47 L230.6 46.9 L234.6 46.7 L238.5 46.4 M140.3 46.4 L140.4 57.9 L140.6 73.6 L140.7 90.6 L140.8 108.2 L141 125.8 L141.1 143.2 L141.2 160.1 L141.4 176.6 L141.5 192.4 L141.6 207.5 L141.8 221.9 L141.9 235.7 L142 248.6 L142.1 260.9 L142.3 272.4 L142.4 283.3 L142.5 293.4 L142.7 302.9 L142.8 311.7 L142.9 319.8 L143.1 327.4 L143.2 334.4 L143.3 340.8 L143.5 346.7 L143.6 352.1 L143.7 357 L143.9 361.4 L144 365.3 L144.1 368.9 L144.3 372 L144.4 374.8 L144.5 377.2 L144.7 379.2 L144.8 380.9 L144.9 382.4 L145.1 383.5 L145.2 384.3 L145.3 384.9 L145.5 385.3 L145.6 385.4 L145.7 385.3 L145.8 385 L146 384.5 L146.1 383.9 L146.2 383 L146.4 382 L146.5 380.9 L146.6 379.6 L146.8 378.2 L146.9 376.7 L147 375.1 L147.2 373.3 L147.3 371.5 L147.4 369.6 L147.6 367.6 L147.7 365.5 L147.8 363.4 L148 361.2 L148.1 359 L148.2 356.6 L148.4 354.3 L148.5 351.9 L148.6 349.4 L148.8 347 L148.9 344.4 L149 341.9 L149.2 339.4 L149.3 336.8 L149.4 334.2 L149.5 331.6 L149.7 328.9 L149.8 326.3 L149.9 323.6 L150.1 321 L150.2 318.3 L150.3 315.7 L150.5 313 L150.6 310.4 L150.7 307.7 L150.9 305.1 L151 302.4 L151.1 299.8 L151.3 297.1 L151.4 294.5 L151.5 291.9 L151.7 289.3 L151.8 286.7 L151.9 284.2 L152.1 281.6 L152.7 270 L153.3 258.8 L153.9 247.9 L154.5 237.5 L155.1 227.6 L155.7 218.1 L156.3 209 L157 200.4 L157.6 192.2 L158.2 184.4 L158.8 177 L159.4 170 L160 163.4 L160.6 157.1 L161.2 151.1 L161.8 145.5 L162.5 140.1 L163.1 135.1 L163.7 130.3 L164.3 125.7 L164.9 121.4 L165.5 117.4 L166.1 113.5 L166.7 109.9 L167.3 106.5 L168 103.2 L168.6 100.1 L169.2 97.2 L169.8 94.5 L170.4 91.9 L171 89.4 L171.6 87.1 L172.2 84.9 L172.8 82.8 L173.5 80.8 L174.1 79 L174.7 77.2 L175.3 75.5 L175.9 73.9 L176.5 72.5 L177.1 71 L177.7 69.7 L178.3 68.4 L179 67.2 L179.6 66.1 L180.2 65.1 L180.8 64 L181.4 63.1 L182 62.2 L182.6 61.3 L183.2 60.5 L183.9 59.8 L184.5 59 L185.1 58.3 L185.7 57.7 L186.3 57.1 L186.9 56.5 L187.5 56 L188.1 55.4 L188.7 55 L189.4 54.5 L190 54 L190.6 53.6 L191.2 53.2 L191.8 52.9 L192.4 52.5 L193 52.2 L193.6 51.9 L194.2 51.6 L194.9 51.3 L195.5 51 L196.1 50.8 L196.7 50.5 L197.3 50.3 L197.9 50.1 L198.5 49.9 L199.1 49.7 L199.7 49.5 L200.4 49.4 L201 49.2 L201.6 49.1 L202.2 48.9 L202.8 48.8 L203.4 48.6 L204 48.5 L204.6 48.4 L205.2 48.3 L205.9 48.2 L206.5 48.1 L207.1 48 L207.7 47.9 L208.3 47.8 L208.9 47.8 L209.5 47.7 L210.1 47.6 L210.8 47.6 L211.4 47.5 L212 47.4 L212.6 47.4 L213.2 47.3 L213.8 47.3 L214.4 47.2 L215 47.2 L215.6 47.1 L216.3 47.1 L216.9 47.1 L217.5 47 L218.1 47 L218.7 47 L222.7 46.8 L226.6 46.7 L230.6 46.4 M140.3 46.4 L140.4 59.6 L140.6 77.6 L140.7 96.9 L140.8 116.6 L141 136.1 L141.1 155.2 L141.2 173.6 L141.4 191.3 L141.5 208.1 L141.6 224 L141.8 239.1 L141.9 253.2 L142 266.4 L142.1 278.7 L142.3 290.1 L142.4 300.7 L142.5 310.5 L142.7 319.5 L142.8 327.8 L142.9 335.3 L143.1 342.2 L143.2 348.4 L143.3 353.9 L143.5 359 L143.6 363.4 L143.7 367.3 L143.9 370.8 L144 373.7 L144.1 376.3 L144.3 378.4 L144.4 380.2 L144.5 381.5 L144.7 382.6 L144.8 383.3 L144.9 383.7 L145.1 383.9 L145.2 383.8 L145.3 383.5 L145.5 382.9 L145.6 382.1 L145.7 381.2 L145.8 380 L146 378.7 L146.1 377.2 L146.2 375.6 L146.4 373.9 L146.5 372 L146.6 370.1 L146.8 368 L146.9 365.9 L147 363.6 L147.2 361.3 L147.3 358.9 L147.4 356.5 L147.6 354 L147.7 351.4 L147.8 348.8 L148 346.2 L148.1 343.5 L148.2 340.8 L148.4 338 L148.5 335.3 L148.6 332.5 L148.8 329.7 L148.9 326.9 L149 324.1 L149.2 321.3 L149.3 318.5 L149.4 315.6 L149.5 312.8 L149.7 310 L149.8 307.2 L149.9 304.4 L150.1 301.6 L150.2 298.8 L150.3 296 L150.5 293.3 L150.6 290.5 L150.7 287.8 L150.9 285.1 L151 282.3 L151.1 279.7 L151.3 277 L151.4 274.3 L151.5 271.7 L151.7 269.1 L151.8 266.5 L151.9 264 L152.1 261.4 L152.7 249.9 L153.3 238.9 L153.9 228.4 L154.5 218.5 L155.1 209 L155.7 200 L156.3 191.4 L157 183.4 L157.6 175.7 L158.2 168.5 L158.8 161.7 L159.4 155.2 L160 149.1 L160.6 143.3 L161.2 137.9 L161.8 132.8 L162.5 127.9 L163.1 123.3 L163.7 119 L164.3 114.9 L164.9 111.1 L165.5 107.5 L166.1 104 L166.7 100.8 L167.3 97.7 L168 94.8 L168.6 92.1 L169.2 89.6 L169.8 87.1 L170.4 84.8 L171 82.7 L171.6 80.6 L172.2 78.7 L172.8 76.9 L173.5 75.2 L174.1 73.6 L174.7 72 L175.3 70.6 L175.9 69.2 L176.5 68 L177.1 66.7 L177.7 65.6 L178.3 64.5 L179 63.5 L179.6 62.5 L180.2 61.6 L180.8 60.8 L181.4 60 L182 59.2 L182.6 58.5 L183.2 57.8 L183.9 57.2 L184.5 56.6 L185.1 56 L185.7 55.4 L186.3 54.9 L186.9 54.5 L187.5 54 L188.1 53.6 L188.7 53.2 L189.4 52.8 L190 52.4 L190.6 52.1 L191.2 51.8 L191.8 51.5 L192.4 51.2 L193 50.9 L193.6 50.7 L194.2 50.4 L194.9 50.2 L195.5 50 L196.1 49.8 L196.7 49.6 L197.3 49.4 L197.9 49.2 L198.5 49.1 L199.1 48.9 L199.7 48.8 L200.4 48.7 L201 48.5 L201.6 48.4 L202.2 48.3 L202.8 48.2 L203.4 48.1 L204 48 L204.6 47.9 L205.2 47.8 L205.9 47.7 L206.5 47.7 L207.1 47.6 L207.7 47.5 L208.3 47.5 L208.9 47.4 L209.5 47.3 L210.1 47.3 L210.8 47.2 L211.4 47.2 L212 47.2 L212.6 47.1 L213.2 47.1 L213.8 47 L214.4 47 L215 47 L215.6 46.9 L216.3 46.9 L216.9 46.9 L217.5 46.8 L218.1 46.8 L218.7 46.8 L222.7 46.7 L226.6 46.4 M140.3 46.4 L140.4 59.9 L140.6 78.3 L140.7 97.9 L140.8 117.9 L141 137.8 L141.1 157.1 L141.2 175.7 L141.4 193.5 L141.5 210.5 L141.6 226.4 L141.8 241.5 L141.9 255.6 L142 268.7 L142.1 280.9 L142.3 292.2 L142.4 302.7 L142.5 312.3 L142.7 321.1 L142.8 329.1 L142.9 336.4 L143.1 343.1 L143.2 349 L143.3 354.3 L143.5 359.1 L143.6 363.3 L143.7 366.9 L143.9 370.1 L144 372.8 L144.1 375 L144.3 376.9 L144.4 378.3 L144.5 379.5 L144.7 380.2 L144.8 380.7 L144.9 380.8 L145.1 380.7 L145.2 380.4 L145.3 379.8 L145.5 379 L145.6 378 L145.7 376.8 L145.8 375.4 L146 373.9 L146.1 372.2 L146.2 370.4 L146.4 368.5 L146.5 366.4 L146.6 364.3 L146.8 362 L146.9 359.7 L147 357.3 L147.2 354.8 L147.3 352.3 L147.4 349.7 L147.6 347 L147.7 344.3 L147.8 341.6 L148 338.8 L148.1 336 L148.2 333.2 L148.4 330.4 L148.5 327.5 L148.6 324.6 L148.8 321.7 L148.9 318.9 L149 316 L149.2 313.1 L149.3 310.2 L149.4 307.3 L149.5 304.4 L149.7 301.5 L149.8 298.6 L149.9 295.8 L150.1 292.9 L150.2 290.1 L150.3 287.3 L150.5 284.5 L150.6 281.7 L150.7 278.9 L150.9 276.2 L151 273.4 L151.1 270.7 L151.3 268 L151.4 265.4 L151.5 262.7 L151.7 260.1 L151.8 257.5 L151.9 254.9 L152.1 252.4 L152.7 240.9 L153.3 229.9 L153.9 219.5 L154.5 209.6 L155.1 200.2 L155.7 191.4 L156.3 183 L157 175.1 L157.6 167.6 L158.2 160.6 L158.8 153.9 L159.4 147.7 L160 141.8 L160.6 136.2 L161.2 131 L161.8 126 L162.5 121.4 L163.1 117 L163.7 112.9 L164.3 109 L164.9 105.4 L165.5 101.9 L166.1 98.7 L166.7 95.6 L167.3 92.7 L168 90 L168.6 87.5 L169.2 85.1 L169.8 82.8 L170.4 80.7 L171 78.7 L171.6 76.8 L172.2 75 L172.8 73.4 L173.5 71.8 L174.1 70.3 L174.7 68.9 L175.3 67.6 L175.9 66.4 L176.5 65.2 L177.1 64.1 L177.7 63.1 L178.3 62.1 L179 61.2 L179.6 60.3 L180.2 59.5 L180.8 58.7 L181.4 58 L182 57.3 L182.6 56.7 L183.2 56.1 L183.9 55.5 L184.5 55 L185.1 54.5 L185.7 54 L186.3 53.6 L186.9 53.2 L187.5 52.8 L188.1 52.4 L188.7 52 L189.4 51.7 L190 51.4 L190.6 51.1 L191.2 50.8 L191.8 50.6 L192.4 50.3 L193 50.1 L193.6 49.9 L194.2 49.7 L194.9 49.5 L195.5 49.3 L196.1 49.1 L196.7 49 L197.3 48.8 L197.9 48.7 L198.5 48.6 L199.1 48.4 L199.7 48.3 L200.4 48.2 L201 48.1 L201.6 48 L202.2 47.9 L202.8 47.8 L203.4 47.7 L204 47.7 L204.6 47.6 L205.2 47.5 L205.9 47.4 L206.5 47.4 L207.1 47.3 L207.7 47.3 L208.3 47.2 L208.9 47.2 L209.5 47.1 L210.1 47.1 L210.8 47 L211.4 47 L212 47 L212.6 46.9 L213.2 46.9 L213.8 46.9 L214.4 46.9 L215 46.8 L215.6 46.8 L216.3 46.8 L216.9 46.8 L217.5 46.7 L218.1 46.7 L218.7 46.7 L222.7 46.4 M140.3 46.4 L140.4 60.2 L140.6 78.9 L140.7 98.9 L140.8 119.2 L141 139.2 L141.1 158.7 L141.2 177.5 L141.4 195.4 L141.5 212.4 L141.6 228.3 L141.8 243.3 L141.9 257.3 L142 270.3 L142.1 282.4 L142.3 293.5 L142.4 303.8 L142.5 313.2 L142.7 321.7 L142.8 329.5 L142.9 336.6 L143.1 342.9 L143.2 348.6 L143.3 353.6 L143.5 358 L143.6 361.9 L143.7 365.3 L143.9 368.1 L144 370.5 L144.1 372.5 L144.3 374 L144.4 375.2 L144.5 376 L144.7 376.5 L144.8 376.7 L144.9 376.6 L145.1 376.2 L145.2 375.6 L145.3 374.8 L145.5 373.7 L145.6 372.4 L145.7 371 L145.8 369.4 L146 367.7 L146.1 365.8 L146.2 363.8 L146.4 361.6 L146.5 359.4 L146.6 357.1 L146.8 354.7 L146.9 352.2 L147 349.6 L147.2 347 L147.3 344.3 L147.4 341.5 L147.6 338.8 L147.7 335.9 L147.8 333.1 L148 330.2 L148.1 327.3 L148.2 324.4 L148.4 321.4 L148.5 318.5 L148.6 315.5 L148.8 312.6 L148.9 309.6 L149 306.6 L149.2 303.7 L149.3 300.7 L149.4 297.8 L149.5 294.8 L149.7 291.9 L149.8 289 L149.9 286.1 L150.1 283.2 L150.2 280.3 L150.3 277.5 L150.5 274.7 L150.6 271.8 L150.7 269.1 L150.9 266.3 L151 263.5 L151.1 260.8 L151.3 258.1 L151.4 255.4 L151.5 252.8 L151.7 250.2 L151.8 247.6 L151.9 245 L152.1 242.5 L152.7 231 L153.3 220.1 L153.9 209.8 L154.5 200.1 L155.1 190.9 L155.7 182.2 L156.3 174 L157 166.3 L157.6 159.1 L158.2 152.3 L158.8 145.9 L159.4 139.8 L160 134.2 L160.6 128.8 L161.2 123.8 L161.8 119.1 L162.5 114.7 L163.1 110.6 L163.7 106.7 L164.3 103 L164.9 99.6 L165.5 96.3 L166.1 93.3 L166.7 90.5 L167.3 87.8 L168 85.3 L168.6 82.9 L169.2 80.7 L169.8 78.6 L170.4 76.6 L171 74.8 L171.6 73.1 L172.2 71.5 L172.8 69.9 L173.5 68.5 L174.1 67.2 L174.7 65.9 L175.3 64.7 L175.9 63.6 L176.5 62.6 L177.1 61.6 L177.7 60.7 L178.3 59.8 L179 59 L179.6 58.2 L180.2 57.5 L180.8 56.8 L181.4 56.2 L182 55.6 L182.6 55 L183.2 54.5 L183.9 54 L184.5 53.6 L185.1 53.1 L185.7 52.7 L186.3 52.3 L186.9 52 L187.5 51.6 L188.1 51.3 L188.7 51 L189.4 50.7 L190 50.5 L190.6 50.2 L191.2 50 L191.8 49.8 L192.4 49.6 L193 49.4 L193.6 49.2 L194.2 49 L194.9 48.9 L195.5 48.7 L196.1 48.6 L196.7 48.4 L197.3 48.3 L197.9 48.2 L198.5 48.1 L199.1 48 L199.7 47.9 L200.4 47.8 L201 47.7 L201.6 47.6 L202.2 47.6 L202.8 47.5 L203.4 47.4 L204 47.4 L204.6 47.3 L205.2 47.2 L205.9 47.2 L206.5 47.1 L207.1 47.1 L207.7 47.1 L208.3 47 L208.9 47 L209.5 46.9 L210.1 46.9 L210.8 46.9 L211.4 46.9 L212 46.8 L212.6 46.8 L213.2 46.8 L213.8 46.8 L214.4 46.7 L215 46.7 L215.6 46.7 L216.3 46.7 L216.9 46.7 L217.5 46.4 M140.3 46.4 L140.4 60.5 L140.6 79.4 L140.7 99.7 L140.8 120.2 L141 140.5 L141.1 160.1 L141.2 179 L141.4 196.9 L141.5 213.8 L141.6 229.7 L141.8 244.6 L141.9 258.5 L142 271.3 L142.1 283.2 L142.3 294.1 L142.4 304.1 L142.5 313.2 L142.7 321.5 L142.8 329 L142.9 335.8 L143.1 341.8 L143.2 347.1 L143.3 351.8 L143.5 356 L143.6 359.5 L143.7 362.5 L143.9 365.1 L144 367.2 L144.1 368.8 L144.3 370 L144.4 370.9 L144.5 371.4 L144.7 371.6 L144.8 371.5 L144.9 371.1 L145.1 370.5 L145.2 369.6 L145.3 368.5 L145.5 367.2 L145.6 365.7 L145.7 364 L145.8 362.2 L146 360.2 L146.1 358.1 L146.2 355.9 L146.4 353.6 L146.5 351.2 L146.6 348.7 L146.8 346.1 L146.9 343.4 L147 340.7 L147.2 338 L147.3 335.1 L147.4 332.3 L147.6 329.4 L147.7 326.4 L147.8 323.5 L148 320.5 L148.1 317.5 L148.2 314.5 L148.4 311.4 L148.5 308.4 L148.6 305.4 L148.8 302.4 L148.9 299.3 L149 296.3 L149.2 293.3 L149.3 290.3 L149.4 287.3 L149.5 284.3 L149.7 281.4 L149.8 278.4 L149.9 275.5 L150.1 272.6 L150.2 269.7 L150.3 266.8 L150.5 264 L150.6 261.2 L150.7 258.4 L150.9 255.6 L151 252.8 L151.1 250.1 L151.3 247.4 L151.4 244.8 L151.5 242.1 L151.7 239.5 L151.8 236.9 L151.9 234.4 L152.1 231.8 L152.7 220.5 L153.3 209.8 L153.9 199.7 L154.5 190.1 L155.1 181.1 L155.7 172.7 L156.3 164.7 L157 157.3 L157.6 150.3 L158.2 143.8 L158.8 137.6 L159.4 131.8 L160 126.4 L160.6 121.4 L161.2 116.6 L161.8 112.2 L162.5 108 L163.1 104.1 L163.7 100.5 L164.3 97 L164.9 93.8 L165.5 90.8 L166.1 88 L166.7 85.4 L167.3 82.9 L168 80.6 L168.6 78.4 L169.2 76.4 L169.8 74.5 L170.4 72.7 L171 71.1 L171.6 69.5 L172.2 68 L172.8 66.7 L173.5 65.4 L174.1 64.2 L174.7 63 L175.3 62 L175.9 61 L176.5 60.1 L177.1 59.2 L177.7 58.4 L178.3 57.6 L179 56.9 L179.6 56.3 L180.2 55.6 L180.8 55.1 L181.4 54.5 L182 54 L182.6 53.5 L183.2 53.1 L183.9 52.6 L184.5 52.2 L185.1 51.9 L185.7 51.5 L186.3 51.2 L186.9 50.9 L187.5 50.6 L188.1 50.3 L188.7 50.1 L189.4 49.9 L190 49.6 L190.6 49.4 L191.2 49.2 L191.8 49.1 L192.4 48.9 L193 48.7 L193.6 48.6 L194.2 48.5 L194.9 48.3 L195.5 48.2 L196.1 48.1 L196.7 48 L197.3 47.9 L197.9 47.8 L198.5 47.7 L199.1 47.6 L199.7 47.5 L200.4 47.5 L201 47.4 L201.6 47.3 L202.2 47.3 L202.8 47.2 L203.4 47.2 L204 47.1 L204.6 47.1 L205.2 47 L205.9 47 L206.5 47 L207.1 46.9 L207.7 46.9 L208.3 46.9 L208.9 46.8 L209.5 46.8 L210.1 46.8 L210.8 46.8 L211.4 46.7 L212 46.7 L212.6 46.7 L213.2 46.7 L213.8 46.7 L214.4 46.4 M140.3 46.4 L140.4 60.7 L140.6 79.9 L140.7 100.4 L140.8 121.1 L141 141.5 L141.1 161.3 L141.2 180.1 L141.4 198 L141.5 214.9 L141.6 230.7 L141.8 245.4 L141.9 259.1 L142 271.7 L142.1 283.3 L142.3 294 L142.4 303.7 L142.5 312.5 L142.7 320.5 L142.8 327.7 L142.9 334.1 L143.1 339.8 L143.2 344.8 L143.3 349.1 L143.5 352.9 L143.6 356.1 L143.7 358.8 L143.9 361 L144 362.7 L144.1 364 L144.3 364.9 L144.4 365.5 L144.5 365.7 L144.7 365.6 L144.8 365.2 L144.9 364.5 L145.1 363.6 L145.2 362.4 L145.3 361.1 L145.5 359.5 L145.6 357.8 L145.7 355.9 L145.8 353.9 L146 351.7 L146.1 349.4 L146.2 347 L146.4 344.5 L146.5 341.9 L146.6 339.2 L146.8 336.5 L146.9 333.7 L147 330.8 L147.2 327.9 L147.3 324.9 L147.4 322 L147.6 318.9 L147.7 315.9 L147.8 312.8 L148 309.8 L148.1 306.7 L148.2 303.6 L148.4 300.5 L148.5 297.4 L148.6 294.3 L148.8 291.2 L148.9 288.2 L149 285.1 L149.2 282 L149.3 279 L149.4 276 L149.5 273 L149.7 270 L149.8 267 L149.9 264.1 L150.1 261.2 L150.2 258.3 L150.3 255.4 L150.5 252.6 L150.6 249.7 L150.7 247 L150.9 244.2 L151 241.5 L151.1 238.8 L151.3 236.1 L151.4 233.4 L151.5 230.8 L151.7 228.2 L151.8 225.7 L151.9 223.2 L152.1 220.7 L152.7 209.5 L153.3 199 L153.9 189.1 L154.5 179.8 L155.1 171.1 L155.7 162.9 L156.3 155.2 L157 148.1 L157.6 141.4 L158.2 135.1 L158.8 129.3 L159.4 123.8 L160 118.7 L160.6 113.9 L161.2 109.4 L161.8 105.3 L162.5 101.4 L163.1 97.7 L163.7 94.4 L164.3 91.2 L164.9 88.2 L165.5 85.5 L166.1 82.9 L166.7 80.5 L167.3 78.2 L168 76.1 L168.6 74.1 L169.2 72.3 L169.8 70.6 L170.4 69 L171 67.5 L171.6 66.1 L172.2 64.8 L172.8 63.6 L173.5 62.4 L174.1 61.4 L174.7 60.4 L175.3 59.5 L175.9 58.6 L176.5 57.8 L177.1 57 L177.7 56.3 L178.3 55.7 L179 55.1 L179.6 54.5 L180.2 54 L180.8 53.5 L181.4 53 L182 52.6 L182.6 52.1 L183.2 51.8 L183.9 51.4 L184.5 51.1 L185.1 50.8 L185.7 50.5 L186.3 50.2 L186.9 50 L187.5 49.7 L188.1 49.5 L188.7 49.3 L189.4 49.1 L190 48.9 L190.6 48.8 L191.2 48.6 L191.8 48.5 L192.4 48.3 L193 48.2 L193.6 48.1 L194.2 48 L194.9 47.9 L195.5 47.8 L196.1 47.7 L196.7 47.6 L197.3 47.5 L197.9 47.4 L198.5 47.4 L199.1 47.3 L199.7 47.2 L200.4 47.2 L201 47.1 L201.6 47.1 L202.2 47 L202.8 47 L203.4 47 L204 46.9 L204.6 46.9 L205.2 46.9 L205.9 46.8 L206.5 46.8 L207.1 46.8 L207.7 46.7 L208.3 46.7 L208.9 46.7 L209.5 46.7 L210.1 46.7 L210.8 46.4 M140.3 46.4 L140.4 60.9 L140.6 80.3 L140.7 101 L140.8 121.9 L141 142.4 L141.1 162.1 L141.2 181 L141.4 198.8 L141.5 215.6 L141.6 231.2 L141.8 245.7 L141.9 259.2 L142 271.5 L142.1 282.9 L142.3 293.2 L142.4 302.6 L142.5 311.1 L142.7 318.7 L142.8 325.5 L142.9 331.5 L143.1 336.8 L143.2 341.5 L143.3 345.5 L143.5 348.9 L143.6 351.7 L143.7 354 L143.9 355.9 L144 357.2 L144.1 358.2 L144.3 358.8 L144.4 359 L144.5 358.9 L144.7 358.5 L144.8 357.8 L144.9 356.8 L145.1 355.6 L145.2 354.2 L145.3 352.6 L145.5 350.8 L145.6 348.8 L145.7 346.7 L145.8 344.4 L146 342.1 L146.1 339.6 L146.2 337 L146.4 334.3 L146.5 331.5 L146.6 328.7 L146.8 325.8 L146.9 322.9 L147 319.9 L147.2 316.9 L147.3 313.8 L147.4 310.7 L147.6 307.6 L147.7 304.5 L147.8 301.3 L148 298.2 L148.1 295 L148.2 291.9 L148.4 288.7 L148.5 285.6 L148.6 282.4 L148.8 279.3 L148.9 276.2 L149 273.1 L149.2 270 L149.3 267 L149.4 263.9 L149.5 260.9 L149.7 257.9 L149.8 254.9 L149.9 252 L150.1 249.1 L150.2 246.2 L150.3 243.3 L150.5 240.5 L150.6 237.7 L150.7 235 L150.9 232.2 L151 229.5 L151.1 226.8 L151.3 224.2 L151.4 221.6 L151.5 219 L151.7 216.4 L151.8 213.9 L151.9 211.4 L152.1 209 L152.7 198.1 L153.3 187.8 L153.9 178.2 L154.5 169.2 L155.1 160.8 L155.7 152.9 L156.3 145.6 L157 138.8 L157.6 132.4 L158.2 126.4 L158.8 120.9 L159.4 115.8 L160 111 L160.6 106.5 L161.2 102.4 L161.8 98.5 L162.5 94.9 L163.1 91.5 L163.7 88.4 L164.3 85.5 L164.9 82.8 L165.5 80.3 L166.1 77.9 L166.7 75.8 L167.3 73.7 L168 71.8 L168.6 70.1 L169.2 68.4 L169.8 66.9 L170.4 65.5 L171 64.2 L171.6 62.9 L172.2 61.8 L172.8 60.7 L173.5 59.7 L174.1 58.8 L174.7 58 L175.3 57.2 L175.9 56.4 L176.5 55.7 L177.1 55.1 L177.7 54.5 L178.3 53.9 L179 53.4 L179.6 52.9 L180.2 52.5 L180.8 52 L181.4 51.7 L182 51.3 L182.6 50.9 L183.2 50.6 L183.9 50.3 L184.5 50.1 L185.1 49.8 L185.7 49.6 L186.3 49.4 L186.9 49.2 L187.5 49 L188.1 48.8 L188.7 48.6 L189.4 48.5 L190 48.3 L190.6 48.2 L191.2 48.1 L191.8 48 L192.4 47.8 L193 47.7 L193.6 47.7 L194.2 47.6 L194.9 47.5 L195.5 47.4 L196.1 47.3 L196.7 47.3 L197.3 47.2 L197.9 47.2 L198.5 47.1 L199.1 47.1 L199.7 47 L200.4 47 L201 46.9 L201.6 46.9 L202.2 46.9 L202.8 46.8 L203.4 46.8 L204 46.8 L204.6 46.7 L205.2 46.7 L205.9 46.7 L206.5 46.7 L207.1 46.7 L207.7 46.4 M140.3 46.4 L140.4 61.1 L140.6 80.7 L140.7 101.6 L140.8 122.5 L141 143.1 L141.1 162.8 L141.2 181.6 L141.4 199.3 L141.5 215.8 L141.6 231.3 L141.8 245.5 L141.9 258.7 L142 270.8 L142.1 281.8 L142.3 291.8 L142.4 300.8 L142.5 308.9 L142.7 316.1 L142.8 322.5 L142.9 328.2 L143.1 333.1 L143.2 337.3 L143.3 340.9 L143.5 343.9 L143.6 346.4 L143.7 348.3 L143.9 349.8 L144 350.8 L144.1 351.4 L144.3 351.6 L144.4 351.5 L144.5 351.1 L144.7 350.3 L144.8 349.3 L144.9 348.1 L145.1 346.6 L145.2 344.9 L145.3 343.1 L145.5 341 L145.6 338.8 L145.7 336.5 L145.8 334 L146 331.5 L146.1 328.8 L146.2 326 L146.4 323.2 L146.5 320.2 L146.6 317.3 L146.8 314.2 L146.9 311.2 L147 308.1 L147.2 304.9 L147.3 301.8 L147.4 298.6 L147.6 295.4 L147.7 292.2 L147.8 289 L148 285.7 L148.1 282.5 L148.2 279.3 L148.4 276.1 L148.5 273 L148.6 269.8 L148.8 266.6 L148.9 263.5 L149 260.4 L149.2 257.3 L149.3 254.2 L149.4 251.2 L149.5 248.2 L149.7 245.2 L149.8 242.3 L149.9 239.3 L150.1 236.4 L150.2 233.6 L150.3 230.7 L150.5 227.9 L150.6 225.2 L150.7 222.4 L150.9 219.7 L151 217.1 L151.1 214.4 L151.3 211.8 L151.4 209.3 L151.5 206.7 L151.7 204.3 L151.8 201.8 L151.9 199.4 L152.1 197 L152.7 186.3 L153.3 176.4 L153.9 167.1 L154.5 158.4 L155.1 150.4 L155.7 142.9 L156.3 135.9 L157 129.4 L157.6 123.4 L158.2 117.9 L158.8 112.7 L159.4 107.9 L160 103.4 L160.6 99.3 L161.2 95.5 L161.8 91.9 L162.5 88.6 L163.1 85.5 L163.7 82.7 L164.3 80.1 L164.9 77.6 L165.5 75.4 L166.1 73.3 L166.7 71.3 L167.3 69.5 L168 67.8 L168.6 66.3 L169.2 64.8 L169.8 63.5 L170.4 62.3 L171 61.1 L171.6 60 L172.2 59 L172.8 58.1 L173.5 57.3 L174.1 56.5 L174.7 55.8 L175.3 55.1 L175.9 54.4 L176.5 53.9 L177.1 53.3 L177.7 52.8 L178.3 52.4 L179 51.9 L179.6 51.5 L180.2 51.2 L180.8 50.8 L181.4 50.5 L182 50.2 L182.6 49.9 L183.2 49.7 L183.9 49.4 L184.5 49.2 L185.1 49 L185.7 48.8 L186.3 48.6 L186.9 48.5 L187.5 48.3 L188.1 48.2 L188.7 48.1 L189.4 47.9 L190 47.8 L190.6 47.7 L191.2 47.6 L191.8 47.5 L192.4 47.5 L193 47.4 L193.6 47.3 L194.2 47.2 L194.9 47.2 L195.5 47.1 L196.1 47.1 L196.7 47 L197.3 47 L197.9 46.9 L198.5 46.9 L199.1 46.9 L199.7 46.8 L200.4 46.8 L201 46.8 L201.6 46.7 L202.2 46.7 L202.8 46.7 L203.4 46.7 L204 46.7 L204.6 46.4 M140.3 46.4 L140.4 61.2 L140.6 81 L140.7 102 L140.8 123 L141 143.5 L141.1 163.2 L141.2 181.8 L141.4 199.4 L141.5 215.7 L141.6 230.9 L141.8 244.9 L141.9 257.7 L142 269.4 L142.1 280 L142.3 289.6 L142.4 298.2 L142.5 305.9 L142.7 312.7 L142.8 318.7 L142.9 323.9 L143.1 328.4 L143.2 332.2 L143.3 335.4 L143.5 338 L143.6 340.1 L143.7 341.6 L143.9 342.7 L144 343.3 L144.1 343.6 L144.3 343.5 L144.4 343 L144.5 342.3 L144.7 341.2 L144.8 339.9 L144.9 338.4 L145.1 336.6 L145.2 334.7 L145.3 332.6 L145.5 330.3 L145.6 327.9 L145.7 325.3 L145.8 322.7 L146 319.9 L146.1 317 L146.2 314.1 L146.4 311.1 L146.5 308 L146.6 304.9 L146.8 301.8 L146.9 298.6 L147 295.4 L147.2 292.2 L147.3 288.9 L147.4 285.6 L147.6 282.4 L147.7 279.1 L147.8 275.8 L148 272.6 L148.1 269.3 L148.2 266.1 L148.4 262.9 L148.5 259.7 L148.6 256.5 L148.8 253.3 L148.9 250.2 L149 247.1 L149.2 244 L149.3 240.9 L149.4 237.9 L149.5 234.9 L149.7 232 L149.8 229 L149.9 226.1 L150.1 223.3 L150.2 220.5 L150.3 217.7 L150.5 214.9 L150.6 212.2 L150.7 209.5 L150.9 206.9 L151 204.3 L151.1 201.7 L151.3 199.1 L151.4 196.6 L151.5 194.2 L151.7 191.7 L151.8 189.3 L151.9 187 L152.1 184.7 L152.7 174.3 L153.3 164.8 L153.9 155.8 L154.5 147.6 L155.1 139.9 L155.7 132.8 L156.3 126.3 L157 120.2 L157.6 114.6 L158.2 109.4 L158.8 104.6 L159.4 100.2 L160 96.1 L160.6 92.3 L161.2 88.8 L161.8 85.6 L162.5 82.6 L163.1 79.8 L163.7 77.3 L164.3 74.9 L164.9 72.7 L165.5 70.7 L166.1 68.9 L166.7 67.2 L167.3 65.6 L168 64.1 L168.6 62.8 L169.2 61.5 L169.8 60.4 L170.4 59.3 L171 58.3 L171.6 57.4 L172.2 56.6 L172.8 55.8 L173.5 55.1 L174.1 54.4 L174.7 53.8 L175.3 53.2 L175.9 52.7 L176.5 52.2 L177.1 51.8 L177.7 51.4 L178.3 51 L179 50.7 L179.6 50.3 L180.2 50 L180.8 49.8 L181.4 49.5 L182 49.3 L182.6 49 L183.2 48.8 L183.9 48.7 L184.5 48.5 L185.1 48.3 L185.7 48.2 L186.3 48 L186.9 47.9 L187.5 47.8 L188.1 47.7 L188.7 47.6 L189.4 47.5 L190 47.4 L190.6 47.3 L191.2 47.3 L191.8 47.2 L192.4 47.1 L193 47.1 L193.6 47 L194.2 47 L194.9 46.9 L195.5 46.9 L196.1 46.9 L196.7 46.8 L197.3 46.8 L197.9 46.8 L198.5 46.7 L199.1 46.7 L199.7 46.7 L200.4 46.7 L201 46.4 M140.3 46.4 L140.4 61.4 L140.6 81.3 L140.7 102.3 L140.8 123.3 L141 143.8 L141.1 163.3 L141.2 181.8 L141.4 199.1 L141.5 215.2 L141.6 230 L141.8 243.7 L141.9 256.1 L142 267.4 L142.1 277.6 L142.3 286.8 L142.4 295 L142.5 302.2 L142.7 308.6 L142.8 314.1 L142.9 318.9 L143.1 322.9 L143.2 326.3 L143.3 329 L143.5 331.2 L143.6 332.8 L143.7 334 L143.9 334.6 L144 334.9 L144.1 334.8 L144.3 334.3 L144.4 333.5 L144.5 332.4 L144.7 331.1 L144.8 329.5 L144.9 327.7 L145.1 325.7 L145.2 323.5 L145.3 321.1 L145.5 318.6 L145.6 316 L145.7 313.2 L145.8 310.4 L146 307.4 L146.1 304.4 L146.2 301.3 L146.4 298.2 L146.5 295 L146.6 291.8 L146.8 288.5 L146.9 285.2 L147 281.9 L147.2 278.6 L147.3 275.3 L147.4 272 L147.6 268.6 L147.7 265.3 L147.8 262 L148 258.7 L148.1 255.5 L148.2 252.2 L148.4 249 L148.5 245.8 L148.6 242.6 L148.8 239.4 L148.9 236.3 L149 233.2 L149.2 230.2 L149.3 227.1 L149.4 224.1 L149.5 221.2 L149.7 218.3 L149.8 215.4 L149.9 212.5 L150.1 209.7 L150.2 207 L150.3 204.2 L150.5 201.5 L150.6 198.9 L150.7 196.3 L150.9 193.7 L151 191.1 L151.1 188.6 L151.3 186.2 L151.4 183.7 L151.5 181.3 L151.7 179 L151.8 176.7 L151.9 174.4 L152.1 172.2 L152.7 162.3 L153.3 153.1 L153.9 144.6 L154.5 136.8 L155.1 129.6 L155.7 122.9 L156.3 116.8 L157 111.2 L157.6 106 L158.2 101.2 L158.8 96.8 L159.4 92.8 L160 89 L160.6 85.6 L161.2 82.5 L161.8 79.6 L162.5 76.9 L163.1 74.5 L163.7 72.2 L164.3 70.1 L164.9 68.2 L165.5 66.5 L166.1 64.9 L166.7 63.4 L167.3 62 L168 60.8 L168.6 59.6 L169.2 58.5 L169.8 57.6 L170.4 56.7 L171 55.8 L171.6 55.1 L172.2 54.4 L172.8 53.7 L173.5 53.2 L174.1 52.6 L174.7 52.1 L175.3 51.7 L175.9 51.2 L176.5 50.8 L177.1 50.5 L177.7 50.2 L178.3 49.9 L179 49.6 L179.6 49.3 L180.2 49.1 L180.8 48.9 L181.4 48.7 L182 48.5 L182.6 48.3 L183.2 48.2 L183.9 48 L184.5 47.9 L185.1 47.8 L185.7 47.7 L186.3 47.6 L186.9 47.5 L187.5 47.4 L188.1 47.3 L188.7 47.2 L189.4 47.2 L190 47.1 L190.6 47 L191.2 47 L191.8 46.9 L192.4 46.9 L193 46.9 L193.6 46.8 L194.2 46.8 L194.9 46.8 L195.5 46.7 L196.1 46.7 L196.7 46.7 L197.3 46.7 L197.9 46.4 M140.3 46.4 L140.4 61.5 L140.6 81.5 L140.7 102.5 L140.8 123.5 L141 143.8 L141.1 163.2 L141.2 181.4 L141.4 198.4 L141.5 214.2 L141.6 228.7 L141.8 241.9 L141.9 254 L142 264.8 L142.1 274.6 L142.3 283.3 L142.4 291 L142.5 297.7 L142.7 303.6 L142.8 308.6 L142.9 312.9 L143.1 316.5 L143.2 319.4 L143.3 321.7 L143.5 323.4 L143.6 324.6 L143.7 325.4 L143.9 325.6 L144 325.5 L144.1 325 L144.3 324.2 L144.4 323.1 L144.5 321.7 L144.7 320 L144.8 318.1 L144.9 316 L145.1 313.7 L145.2 311.3 L145.3 308.7 L145.5 306 L145.6 303.1 L145.7 300.2 L145.8 297.2 L146 294.1 L146.1 290.9 L146.2 287.7 L146.4 284.4 L146.5 281.1 L146.6 277.8 L146.8 274.5 L146.9 271.1 L147 267.7 L147.2 264.3 L147.3 261 L147.4 257.6 L147.6 254.3 L147.7 250.9 L147.8 247.6 L148 244.3 L148.1 241 L148.2 237.8 L148.4 234.5 L148.5 231.3 L148.6 228.2 L148.8 225.1 L148.9 222 L149 218.9 L149.2 215.9 L149.3 212.9 L149.4 210 L149.5 207.1 L149.7 204.2 L149.8 201.4 L149.9 198.6 L150.1 195.9 L150.2 193.2 L150.3 190.5 L150.5 187.9 L150.6 185.3 L150.7 182.8 L150.9 180.3 L151 177.8 L151.1 175.4 L151.3 173 L151.4 170.7 L151.5 168.4 L151.7 166.1 L151.8 163.9 L151.9 161.7 L152.1 159.6 L152.7 150.1 L153.3 141.5 L153.9 133.5 L154.5 126.1 L155.1 119.4 L155.7 113.2 L156.3 107.6 L157 102.4 L157.6 97.7 L158.2 93.3 L158.8 89.3 L159.4 85.7 L160 82.4 L160.6 79.3 L161.2 76.5 L161.8 74 L162.5 71.6 L163.1 69.5 L163.7 67.5 L164.3 65.7 L164.9 64.1 L165.5 62.6 L166.1 61.2 L166.7 60 L167.3 58.8 L168 57.8 L168.6 56.8 L169.2 55.9 L169.8 55.1 L170.4 54.4 L171 53.7 L171.6 53.1 L172.2 52.5 L172.8 52 L173.5 51.5 L174.1 51.1 L174.7 50.7 L175.3 50.3 L175.9 50 L176.5 49.7 L177.1 49.4 L177.7 49.1 L178.3 48.9 L179 48.7 L179.6 48.5 L180.2 48.3 L180.8 48.2 L181.4 48 L182 47.9 L182.6 47.8 L183.2 47.6 L183.9 47.5 L184.5 47.4 L185.1 47.3 L185.7 47.3 L186.3 47.2 L186.9 47.1 L187.5 47.1 L188.1 47 L188.7 47 L189.4 46.9 L190 46.9 L190.6 46.8 L191.2 46.8 L191.8 46.8 L192.4 46.7 L193 46.7 L193.6 46.7 L194.2 46.7 L194.9 46.4 M140.3 46.4 L140.4 61.5 L140.6 81.6 L140.7 102.6 L140.8 123.5 L141 143.6 L141.1 162.8 L141.2 180.7 L141.4 197.4 L141.5 212.8 L141.6 226.8 L141.8 239.6 L141.9 251.2 L142 261.6 L142.1 270.8 L142.3 279 L142.4 286.2 L142.5 292.4 L142.7 297.8 L142.8 302.3 L142.9 306.1 L143.1 309.2 L143.2 311.6 L143.3 313.4 L143.5 314.7 L143.6 315.5 L143.7 315.8 L143.9 315.7 L144 315.2 L144.1 314.3 L144.3 313.1 L144.4 311.7 L144.5 309.9 L144.7 308 L144.8 305.8 L144.9 303.4 L145.1 300.9 L145.2 298.2 L145.3 295.4 L145.5 292.5 L145.6 289.5 L145.7 286.4 L145.8 283.2 L146 279.9 L146.1 276.6 L146.2 273.3 L146.4 269.9 L146.5 266.5 L146.6 263.1 L146.8 259.7 L146.9 256.3 L147 252.9 L147.2 249.4 L147.3 246 L147.4 242.6 L147.6 239.3 L147.7 235.9 L147.8 232.6 L148 229.3 L148.1 226.1 L148.2 222.8 L148.4 219.6 L148.5 216.5 L148.6 213.4 L148.8 210.3 L148.9 207.2 L149 204.2 L149.2 201.3 L149.3 198.4 L149.4 195.5 L149.5 192.7 L149.7 189.9 L149.8 187.1 L149.9 184.4 L150.1 181.8 L150.2 179.2 L150.3 176.6 L150.5 174.1 L150.6 171.6 L150.7 169.2 L150.9 166.8 L151 164.4 L151.1 162.1 L151.3 159.8 L151.4 157.6 L151.5 155.4 L151.7 153.2 L151.8 151.1 L151.9 149.1 L152.1 147 L152.7 138.1 L153.3 130 L153.9 122.5 L154.5 115.7 L155.1 109.5 L155.7 103.8 L156.3 98.7 L157 94 L157.6 89.7 L158.2 85.8 L158.8 82.3 L159.4 79.1 L160 76.1 L160.6 73.4 L161.2 71 L161.8 68.8 L162.5 66.8 L163.1 65 L163.7 63.3 L164.3 61.8 L164.9 60.4 L165.5 59.1 L166.1 58 L166.7 56.9 L167.3 56 L168 55.1 L168.6 54.3 L169.2 53.6 L169.8 53 L170.4 52.4 L171 51.8 L171.6 51.4 L172.2 50.9 L172.8 50.5 L173.5 50.1 L174.1 49.8 L174.7 49.5 L175.3 49.2 L175.9 49 L176.5 48.7 L177.1 48.5 L177.7 48.3 L178.3 48.2 L179 48 L179.6 47.9 L180.2 47.7 L180.8 47.6 L181.4 47.5 L182 47.4 L182.6 47.3 L183.2 47.2 L183.9 47.2 L184.5 47.1 L185.1 47 L185.7 47 L186.3 46.9 L186.9 46.9 L187.5 46.8 L188.1 46.8 L188.7 46.8 L189.4 46.7 L190 46.7 L190.6 46.7 L191.2 46.4 M140.3 46.4 L140.4 61.6 L140.6 81.6 L140.7 102.5 L140.8 123.2 L141 143.2 L141.1 162 L141.2 179.6 L141.4 195.9 L141.5 210.8 L141.6 224.4 L141.8 236.7 L141.9 247.8 L142 257.6 L142.1 266.3 L142.3 274 L142.4 280.6 L142.5 286.3 L142.7 291.1 L142.8 295.1 L142.9 298.4 L143.1 301 L143.2 302.9 L143.3 304.3 L143.5 305.1 L143.6 305.4 L143.7 305.3 L143.9 304.8 L144 303.9 L144.1 302.6 L144.3 301.1 L144.4 299.3 L144.5 297.3 L144.7 295 L144.8 292.6 L144.9 289.9 L145.1 287.2 L145.2 284.3 L145.3 281.3 L145.5 278.2 L145.6 275 L145.7 271.7 L145.8 268.4 L146 265 L146.1 261.6 L146.2 258.2 L146.4 254.7 L146.5 251.2 L146.6 247.8 L146.8 244.3 L146.9 240.8 L147 237.4 L147.2 234 L147.3 230.5 L147.4 227.2 L147.6 223.8 L147.7 220.5 L147.8 217.2 L148 213.9 L148.1 210.7 L148.2 207.5 L148.4 204.4 L148.5 201.3 L148.6 198.2 L148.8 195.2 L148.9 192.2 L149 189.3 L149.2 186.4 L149.3 183.6 L149.4 180.8 L149.5 178.1 L149.7 175.4 L149.8 172.7 L149.9 170.1 L150.1 167.6 L150.2 165.1 L150.3 162.6 L150.5 160.2 L150.6 157.8 L150.7 155.5 L150.9 153.2 L151 151 L151.1 148.8 L151.3 146.7 L151.4 144.5 L151.5 142.5 L151.7 140.5 L151.8 138.5 L151.9 136.5 L152.1 134.6 L152.7 126.3 L153.3 118.7 L153.9 111.8 L154.5 105.6 L155.1 100 L155.7 94.9 L156.3 90.2 L157 86 L157.6 82.3 L158.2 78.8 L158.8 75.7 L159.4 72.9 L160 70.4 L160.6 68.1 L161.2 66 L161.8 64.1 L162.5 62.4 L163.1 60.9 L163.7 59.5 L164.3 58.3 L164.9 57.1 L165.5 56.1 L166.1 55.2 L166.7 54.3 L167.3 53.6 L168 52.9 L168.6 52.3 L169.2 51.7 L169.8 51.2 L170.4 50.7 L171 50.3 L171.6 49.9 L172.2 49.6 L172.8 49.3 L173.5 49 L174.1 48.8 L174.7 48.5 L175.3 48.3 L175.9 48.2 L176.5 48 L177.1 47.8 L177.7 47.7 L178.3 47.6 L179 47.5 L179.6 47.4 L180.2 47.3 L180.8 47.2 L181.4 47.1 L182 47 L182.6 47 L183.2 46.9 L183.9 46.9 L184.5 46.8 L185.1 46.8 L185.7 46.8 L186.3 46.7 L186.9 46.7 L187.5 46.7 L188.1 46.4 M140.3 46.4 L140.4 60.8 L140.6 79.4 L140.7 98.5 L140.8 117 L141 134.5 L141.1 150.7 L141.2 165.5 L141.4 178.9 L141.5 190.9 L141.6 201.5 L141.8 210.9 L141.9 219 L142 226.1 L142.1 232 L142.3 237.1 L142.4 241.2 L142.5 244.5 L142.7 247.1 L142.8 249 L142.9 250.3 L143.1 251.1 L143.2 251.3 L143.3 251.1 L143.5 250.5 L143.6 249.6 L143.7 248.4 L143.9 246.8 L144 245.1 L144.1 243.1 L144.3 240.9 L144.4 238.5 L144.5 236.1 L144.7 233.5 L144.8 230.8 L144.9 228 L145.1 225.1 L145.2 222.2 L145.3 219.3 L145.5 216.3 L145.6 213.3 L145.7 210.2 L145.8 207.2 L146 204.2 L146.1 201.1 L146.2 198.1 L146.4 195.1 L146.5 192.2 L146.6 189.2 L146.8 186.3 L146.9 183.4 L147 180.6 L147.2 177.8 L147.3 175 L147.4 172.3 L147.6 169.6 L147.7 166.9 L147.8 164.3 L148 161.8 L148.1 159.2 L148.2 156.8 L148.4 154.3 L148.5 152 L148.6 149.6 L148.8 147.3 L148.9 145.1 L149 142.9 L149.2 140.7 L149.3 138.6 L149.4 136.5 L149.5 134.5 L149.7 132.5 L149.8 130.6 L149.9 128.7 L150.1 126.8 L150.2 125 L150.3 123.2 L150.5 121.4 L150.6 119.7 L150.7 118.1 L150.9 116.4 L151 114.8 L151.1 113.3 L151.3 111.7 L151.4 110.2 L151.5 108.8 L151.7 107.3 L151.8 105.9 L151.9 104.6 L152.1 103.2 L152.7 97.5 L153.3 92.2 L153.9 87.6 L154.5 83.4 L155.1 79.6 L155.7 76.2 L156.3 73.1 L157 70.4 L157.6 67.9 L158.2 65.7 L158.8 63.8 L159.4 62 L160 60.4 L160.6 59 L161.2 57.7 L161.8 56.5 L162.5 55.5 L163.1 54.5 L163.7 53.7 L164.3 53 L164.9 52.3 L165.5 51.7 L166.1 51.1 L166.7 50.7 L167.3 50.2 L168 49.8 L168.6 49.5 L169.2 49.2 L169.8 48.9 L170.4 48.6 L171 48.4 L171.6 48.2 L172.2 48 L172.8 47.8 L173.5 47.7 L174.1 47.6 L174.7 47.4 L175.3 47.3 L175.9 47.2 L176.5 47.2 L177.1 47.1 L177.7 47 L178.3 46.9 L179 46.9 L179.6 46.8 L180.2 46.8 L180.8 46.8 L181.4 46.7 L182 46.7 L182.6 46.7 L183.2 46.4 M140.3 46.4 L140.4 60 L140.6 77.4 L140.7 95 L140.8 111.9 L141 127.7 L141.1 142 L141.2 155 L141.4 166.5 L141.5 176.6 L141.6 185.5 L141.8 193.1 L141.9 199.6 L142 205 L142.1 209.5 L142.3 213.1 L142.4 216 L142.5 218.1 L142.7 219.6 L142.8 220.5 L142.9 220.9 L143.1 220.9 L143.2 220.4 L143.3 219.6 L143.5 218.5 L143.6 217.1 L143.7 215.5 L143.9 213.7 L144 211.7 L144.1 209.5 L144.3 207.3 L144.4 204.9 L144.5 202.4 L144.7 199.8 L144.8 197.2 L144.9 194.6 L145.1 191.9 L145.2 189.1 L145.3 186.4 L145.5 183.7 L145.6 181 L145.7 178.2 L145.8 175.5 L146 172.8 L146.1 170.2 L146.2 167.5 L146.4 164.9 L146.5 162.4 L146.6 159.8 L146.8 157.3 L146.9 154.8 L147 152.4 L147.2 150 L147.3 147.7 L147.4 145.4 L147.6 143.1 L147.7 140.9 L147.8 138.7 L148 136.6 L148.1 134.5 L148.2 132.4 L148.4 130.4 L148.5 128.5 L148.6 126.6 L148.8 124.7 L148.9 122.8 L149 121 L149.2 119.3 L149.3 117.6 L149.4 115.9 L149.5 114.2 L149.7 112.6 L149.8 111 L149.9 109.5 L150.1 108 L150.2 106.5 L150.3 105.1 L150.5 103.7 L150.6 102.4 L150.7 101 L150.9 99.7 L151 98.4 L151.1 97.2 L151.3 96 L151.4 94.8 L151.5 93.6 L151.7 92.5 L151.8 91.4 L151.9 90.3 L152.1 89.3 L152.7 84.7 L153.3 80.7 L153.9 77 L154.5 73.8 L155.1 70.9 L155.7 68.3 L156.3 65.9 L157 63.9 L157.6 62 L158.2 60.3 L158.8 58.9 L159.4 57.5 L160 56.4 L160.6 55.3 L161.2 54.3 L161.8 53.5 L162.5 52.7 L163.1 52.1 L163.7 51.5 L164.3 50.9 L164.9 50.5 L165.5 50 L166.1 49.6 L166.7 49.3 L167.3 49 L168 48.7 L168.6 48.5 L169.2 48.2 L169.8 48 L170.4 47.9 L171 47.7 L171.6 47.6 L172.2 47.5 L172.8 47.3 L173.5 47.2 L174.1 47.2 L174.7 47.1 L175.3 47 L175.9 46.9 L176.5 46.9 L177.1 46.8 L177.7 46.8 L178.3 46.7 L179 46.7 L179.6 46.7 L180.2 46.4 M140.3 46.4 L140.4 59.1 L140.6 75.2 L140.7 91.2 L140.8 106.3 L141 120.1 L141.1 132.6 L141.2 143.6 L141.4 153.2 L141.5 161.4 L141.6 168.5 L141.8 174.4 L141.9 179.3 L142 183.2 L142.1 186.3 L142.3 188.7 L142.4 190.3 L142.5 191.4 L142.7 192 L142.8 192.1 L142.9 191.8 L143.1 191.1 L143.2 190.2 L143.3 188.9 L143.5 187.5 L143.6 185.8 L143.7 184 L143.9 182 L144 180 L144.1 177.8 L144.3 175.6 L144.4 173.3 L144.5 170.9 L144.7 168.5 L144.8 166.1 L144.9 163.7 L145.1 161.3 L145.2 158.9 L145.3 156.5 L145.5 154.1 L145.6 151.7 L145.7 149.4 L145.8 147 L146 144.7 L146.1 142.5 L146.2 140.3 L146.4 138.1 L146.5 135.9 L146.6 133.8 L146.8 131.7 L146.9 129.7 L147 127.7 L147.2 125.7 L147.3 123.8 L147.4 121.9 L147.6 120.1 L147.7 118.3 L147.8 116.6 L148 114.8 L148.1 113.2 L148.2 111.5 L148.4 109.9 L148.5 108.4 L148.6 106.8 L148.8 105.3 L148.9 103.9 L149 102.5 L149.2 101.1 L149.3 99.7 L149.4 98.4 L149.5 97.1 L149.7 95.8 L149.8 94.6 L149.9 93.4 L150.1 92.2 L150.2 91.1 L150.3 90 L150.5 88.9 L150.6 87.8 L150.7 86.8 L150.9 85.8 L151 84.8 L151.1 83.9 L151.3 82.9 L151.4 82 L151.5 81.1 L151.7 80.3 L151.8 79.4 L151.9 78.6 L152.1 77.8 L152.7 74.3 L153.3 71.2 L153.9 68.5 L154.5 66 L155.1 63.9 L155.7 61.9 L156.3 60.2 L157 58.7 L157.6 57.3 L158.2 56.1 L158.8 55.1 L159.4 54.1 L160 53.2 L160.6 52.5 L161.2 51.8 L161.8 51.2 L162.5 50.7 L163.1 50.2 L163.7 49.8 L164.3 49.4 L164.9 49.1 L165.5 48.8 L166.1 48.5 L166.7 48.3 L167.3 48.1 L168 47.9 L168.6 47.7 L169.2 47.6 L169.8 47.5 L170.4 47.3 L171 47.2 L171.6 47.1 L172.2 47.1 L172.8 47 L173.5 46.9 L174.1 46.9 L174.7 46.8 L175.3 46.8 L175.9 46.7 L176.5 46.7 L177.1 46.7 L177.7 46.4 M140.3 46.4 L140.4 58 L140.6 72.5 L140.7 86.6 L140.8 99.7 L141 111.5 L141.1 121.8 L141.2 130.8 L141.4 138.4 L141.5 144.7 L141.6 150 L141.8 154.3 L141.9 157.6 L142 160.2 L142.1 162 L142.3 163.3 L142.4 164 L142.5 164.2 L142.7 164 L142.8 163.5 L142.9 162.7 L143.1 161.7 L143.2 160.4 L143.3 158.9 L143.5 157.3 L143.6 155.6 L143.7 153.8 L143.9 151.8 L144 149.9 L144.1 147.9 L144.3 145.8 L144.4 143.8 L144.5 141.7 L144.7 139.6 L144.8 137.5 L144.9 135.4 L145.1 133.4 L145.2 131.4 L145.3 129.3 L145.5 127.4 L145.6 125.4 L145.7 123.5 L145.8 121.6 L146 119.7 L146.1 117.9 L146.2 116.1 L146.4 114.4 L146.5 112.7 L146.6 111 L146.8 109.4 L146.9 107.8 L147 106.2 L147.2 104.7 L147.3 103.2 L147.4 101.7 L147.6 100.3 L147.7 98.9 L147.8 97.5 L148 96.2 L148.1 94.9 L148.2 93.7 L148.4 92.5 L148.5 91.3 L148.6 90.1 L148.8 89 L148.9 87.9 L149 86.8 L149.2 85.7 L149.3 84.7 L149.4 83.7 L149.5 82.7 L149.7 81.8 L149.8 80.9 L149.9 80 L150.1 79.1 L150.2 78.3 L150.3 77.4 L150.5 76.6 L150.6 75.8 L150.7 75.1 L150.9 74.3 L151 73.6 L151.1 72.9 L151.3 72.2 L151.4 71.5 L151.5 70.9 L151.7 70.2 L151.8 69.6 L151.9 69 L152.1 68.4 L152.7 65.9 L153.3 63.6 L153.9 61.6 L154.5 59.9 L155.1 58.3 L155.7 57 L156.3 55.7 L157 54.7 L157.6 53.7 L158.2 52.9 L158.8 52.1 L159.4 51.5 L160 50.9 L160.6 50.4 L161.2 49.9 L161.8 49.5 L162.5 49.2 L163.1 48.8 L163.7 48.6 L164.3 48.3 L164.9 48.1 L165.5 47.9 L166.1 47.7 L166.7 47.6 L167.3 47.4 L168 47.3 L168.6 47.2 L169.2 47.1 L169.8 47 L170.4 47 L171 46.9 L171.6 46.8 L172.2 46.8 L172.8 46.7 L173.5 46.7 L174.1 46.7 L174.7 46.4 M140.3 46.4 L140.4 56.7 L140.6 69.1 L140.7 81.1 L140.8 91.9 L141 101.3 L141.1 109.4 L141.2 116.2 L141.4 121.7 L141.5 126.2 L141.6 129.8 L141.8 132.5 L141.9 134.5 L142 135.9 L142.1 136.7 L142.3 137 L142.4 137 L142.5 136.6 L142.7 136 L142.8 135.1 L142.9 134 L143.1 132.8 L143.2 131.4 L143.3 130 L143.5 128.4 L143.6 126.8 L143.7 125.2 L143.9 123.5 L144 121.8 L144.1 120.1 L144.3 118.4 L144.4 116.7 L144.5 115 L144.7 113.3 L144.8 111.6 L144.9 110 L145.1 108.4 L145.2 106.8 L145.3 105.2 L145.5 103.7 L145.6 102.2 L145.7 100.7 L145.8 99.3 L146 97.9 L146.1 96.5 L146.2 95.2 L146.4 93.9 L146.5 92.6 L146.6 91.4 L146.8 90.1 L146.9 89 L147 87.8 L147.2 86.7 L147.3 85.6 L147.4 84.5 L147.6 83.5 L147.7 82.5 L147.8 81.5 L148 80.6 L148.1 79.6 L148.2 78.7 L148.4 77.9 L148.5 77 L148.6 76.2 L148.8 75.4 L148.9 74.6 L149 73.8 L149.2 73.1 L149.3 72.3 L149.4 71.6 L149.5 70.9 L149.7 70.3 L149.8 69.6 L149.9 69 L150.1 68.4 L150.2 67.8 L150.3 67.2 L150.5 66.6 L150.6 66.1 L150.7 65.5 L150.9 65 L151 64.5 L151.1 64 L151.3 63.5 L151.4 63.1 L151.5 62.6 L151.7 62.2 L151.8 61.7 L151.9 61.3 L152.1 60.9 L152.7 59.2 L153.3 57.6 L153.9 56.3 L154.5 55.1 L155.1 54.1 L155.7 53.1 L156.3 52.3 L157 51.6 L157.6 51 L158.2 50.4 L158.8 50 L159.4 49.5 L160 49.1 L160.6 48.8 L161.2 48.5 L161.8 48.3 L162.5 48 L163.1 47.8 L163.7 47.7 L164.3 47.5 L164.9 47.4 L165.5 47.3 L166.1 47.2 L166.7 47.1 L167.3 47 L168 46.9 L168.6 46.9 L169.2 46.8 L169.8 46.8 L170.4 46.7 L171 46.7 L171.6 46.4 M140.3 46.4 L140.4 54.8 L140.6 64.8 L140.7 74.1 L140.8 82.2 L141 89 L141.1 94.7 L141.2 99.3 L141.4 102.9 L141.5 105.6 L141.6 107.6 L141.8 109 L141.9 109.9 L142 110.3 L142.1 110.4 L142.3 110.2 L142.4 109.7 L142.5 109 L142.7 108.2 L142.8 107.2 L142.9 106.2 L143.1 105 L143.2 103.8 L143.3 102.6 L143.5 101.3 L143.6 100 L143.7 98.7 L143.9 97.4 L144 96.1 L144.1 94.9 L144.3 93.6 L144.4 92.3 L144.5 91.1 L144.7 89.9 L144.8 88.7 L144.9 87.5 L145.1 86.4 L145.2 85.3 L145.3 84.2 L145.5 83.2 L145.6 82.1 L145.7 81.1 L145.8 80.1 L146 79.2 L146.1 78.3 L146.2 77.4 L146.4 76.5 L146.5 75.6 L146.6 74.8 L146.8 74 L146.9 73.2 L147 72.4 L147.2 71.7 L147.3 71 L147.4 70.3 L147.6 69.6 L147.7 68.9 L147.8 68.3 L148 67.7 L148.1 67.1 L148.2 66.5 L148.4 65.9 L148.5 65.3 L148.6 64.8 L148.8 64.3 L148.9 63.8 L149 63.3 L149.2 62.8 L149.3 62.3 L149.4 61.9 L149.5 61.4 L149.7 61 L149.8 60.6 L149.9 60.2 L150.1 59.8 L150.2 59.4 L150.3 59 L150.5 58.7 L150.6 58.3 L150.7 58 L150.9 57.6 L151 57.3 L151.1 57 L151.3 56.7 L151.4 56.4 L151.5 56.1 L151.7 55.8 L151.8 55.6 L151.9 55.3 L152.1 55.1 L152.7 54 L153.3 53 L153.9 52.2 L154.5 51.5 L155.1 50.8 L155.7 50.3 L156.3 49.8 L157 49.4 L157.6 49 L158.2 48.7 L158.8 48.4 L159.4 48.1 L160 47.9 L160.6 47.7 L161.2 47.6 L161.8 47.4 L162.5 47.3 L163.1 47.2 L163.7 47.1 L164.3 47 L164.9 46.9 L165.5 46.9 L166.1 46.8 L166.7 46.7 L167.3 46.7 L168 46.7 L168.6 46.4 M140.3 46.4 L140.4 52.3 L140.6 59 L140.7 65.1 L140.8 70.1 L141 74.2 L141.1 77.4 L141.2 79.8 L141.4 81.6 L141.5 82.8 L141.6 83.6 L141.8 84.1 L141.9 84.2 L142 84.1 L142.1 83.8 L142.3 83.4 L142.4 82.9 L142.5 82.2 L142.7 81.5 L142.8 80.8 L142.9 80 L143.1 79.2 L143.2 78.3 L143.3 77.5 L143.5 76.7 L143.6 75.9 L143.7 75.1 L143.9 74.3 L144 73.5 L144.1 72.7 L144.3 71.9 L144.4 71.2 L144.5 70.5 L144.7 69.8 L144.8 69.1 L144.9 68.4 L145.1 67.8 L145.2 67.1 L145.3 66.5 L145.5 65.9 L145.6 65.3 L145.7 64.8 L145.8 64.2 L146 63.7 L146.1 63.2 L146.2 62.7 L146.4 62.2 L146.5 61.7 L146.6 61.2 L146.8 60.8 L146.9 60.4 L147 59.9 L147.2 59.5 L147.3 59.1 L147.4 58.8 L147.6 58.4 L147.7 58 L147.8 57.7 L148 57.3 L148.1 57 L148.2 56.7 L148.4 56.4 L148.5 56.1 L148.6 55.8 L148.8 55.5 L148.9 55.2 L149 55 L149.2 54.7 L149.3 54.5 L149.4 54.2 L149.5 54 L149.7 53.8 L149.8 53.5 L149.9 53.3 L150.1 53.1 L150.2 52.9 L150.3 52.7 L150.5 52.5 L150.6 52.4 L150.7 52.2 L150.9 52 L151 51.8 L151.1 51.7 L151.3 51.5 L151.4 51.4 L151.5 51.2 L151.7 51.1 L151.8 50.9 L151.9 50.8 L152.1 50.7 L152.7 50.1 L153.3 49.6 L153.9 49.2 L154.5 48.8 L155.1 48.5 L155.7 48.2 L156.3 48 L157 47.8 L157.6 47.6 L158.2 47.4 L158.8 47.3 L159.4 47.2 L160 47.1 L160.6 47 L161.2 46.9 L161.8 46.8 L162.5 46.8 L163.1 46.7 L163.7 46.7 L164.3 46.7 L164.9 46.4 M140.3 46.4 L140.4 48.7 L140.6 51.1 L140.7 53.2 L140.8 54.9 L141 56.1 L141.1 57 L141.2 57.7 L141.4 58.1 L141.5 58.3 L141.6 58.4 L141.8 58.4 L141.9 58.3 L142 58.1 L142.1 58 L142.3 57.7 L142.4 57.5 L142.5 57.2 L142.7 56.9 L142.8 56.6 L142.9 56.4 L143.1 56.1 L143.2 55.8 L143.3 55.5 L143.5 55.2 L143.6 55 L143.7 54.7 L143.9 54.5 L144 54.2 L144.1 54 L144.3 53.7 L144.4 53.5 L144.5 53.3 L144.7 53.1 L144.8 52.9 L144.9 52.6 L145.1 52.5 L145.2 52.3 L145.3 52.1 L145.5 51.9 L145.6 51.7 L145.7 51.6 L145.8 51.4 L146 51.2 L146.1 51.1 L146.2 50.9 L146.4 50.8 L146.5 50.7 L146.6 50.5 L146.8 50.4 L146.9 50.3 L147 50.1 L147.2 50 L147.3 49.9 L147.4 49.8 L147.6 49.7 L147.7 49.6 L147.8 49.5 L148 49.4 L148.1 49.3 L148.2 49.2 L148.4 49.1 L148.5 49 L148.6 48.9 L148.8 48.9 L148.9 48.8 L149 48.7 L149.2 48.6 L149.3 48.6 L149.4 48.5 L149.5 48.4 L149.7 48.4 L149.8 48.3 L149.9 48.2 L150.1 48.2 L150.2 48.1 L150.3 48.1 L150.5 48 L150.6 48 L150.7 47.9 L150.9 47.9 L151 47.8 L151.1 47.8 L151.3 47.7 L151.4 47.7 L151.5 47.7 L151.7 47.6 L151.8 47.6 L151.9 47.5 L152.1 47.5 L152.7 47.4 L153.3 47.2 L153.9 47.1 L154.5 47 L155.1 46.9 L155.7 46.9 L156.3 46.8 L157 46.7 L157.6 46.7 L158.2 46.7 L158.8 46.4" fill="none" stroke="#344d9a" stroke-width="1.9" stroke-linejoin="round"/>
<text font-size="54" fill="#1c1a1a" text-anchor="start" font-weight="normal" transform="translate(310.5 184.3) scale(1 1.04)" >WT<tspan font-size="40">s</tspan></text>
<path d="M288.2 240.5 V304.8 H386" fill="none" stroke="#1c1a1a" stroke-width="3.5" stroke-linecap="round" stroke-linejoin="round"/>
<text font-size="26.7" fill="#1c1a1a" text-anchor="start" font-weight="normal" transform="translate(219 286.6) scale(1 1.04)" >5 nA</text>
<text font-size="26.7" fill="#1c1a1a" text-anchor="start" font-weight="normal" transform="translate(300.3 338) scale(1 1.04)" >5 ms</text>
<line x1="977" y1="37.8" x2="1446" y2="37.8" stroke="#bb66a4" stroke-width="2.9" stroke-linecap="round" />
<path d="M1016.2 37.6 L1016.3 37.6 L1016.5 37.6 L1016.6 37.7 L1016.7 37.7 L1016.9 37.7 L1017 37.7 L1017.1 37.8 L1017.3 37.8 L1017.4 37.8 L1017.5 37.9 L1017.7 37.9 L1017.8 38 L1017.9 38 L1018 38 L1018.2 38.1 L1018.3 38.1 L1018.4 38.2 L1018.6 38.2 L1018.7 38.2 L1018.8 38.3 L1019 38.3 L1019.1 38.4 L1019.2 38.4 L1019.4 38.4 L1019.5 38.5 L1019.6 38.5 L1019.8 38.6 L1019.9 38.6 L1020 38.7 L1020.2 38.7 L1020.3 38.8 L1020.4 38.8 L1020.6 38.8 L1020.7 38.9 L1020.8 38.9 L1021 39 L1021.1 39 L1021.2 39.1 L1021.4 39.1 L1021.5 39.2 L1021.6 39.2 L1021.7 39.3 L1021.9 39.3 L1022 39.3 L1022.1 39.4 L1022.3 39.4 L1022.4 39.5 L1022.5 39.5 L1022.7 39.6 L1022.8 39.6 L1022.9 39.7 L1023.1 39.7 L1023.2 39.8 L1023.3 39.8 L1023.5 39.9 L1023.6 39.9 L1023.7 40 L1023.9 40 L1024 40 L1024.1 40.1 L1024.3 40.1 L1024.4 40.2 L1024.5 40.2 L1024.7 40.3 L1024.8 40.3 L1024.9 40.4 L1025.1 40.4 L1025.2 40.5 L1025.3 40.5 L1025.4 40.6 L1025.6 40.6 L1025.7 40.7 L1025.8 40.7 L1026 40.7 L1026.1 40.8 L1026.2 40.8 L1026.4 40.9 L1026.5 40.9 L1026.6 41 L1026.8 41 L1026.9 41.1 L1027 41.1 L1027.2 41.2 L1027.3 41.2 L1027.4 41.2 L1027.6 41.3 L1027.7 41.3 L1027.8 41.4 L1028 41.4 L1028.6 41.6 L1029.2 41.8 L1029.8 42 L1030.4 42.2 L1031 42.4 L1031.6 42.6 L1032.2 42.8 L1032.9 43 L1033.5 43.2 L1034.1 43.4 L1034.7 43.5 L1035.3 43.7 L1035.9 43.9 L1036.5 44.1 L1037.1 44.2 L1037.7 44.4 L1038.4 44.5 L1039 44.7 L1039.6 44.9 L1040.2 45 L1040.8 45.1 L1041.4 45.3 L1042 45.4 L1042.6 45.6 L1043.2 45.7 L1043.9 45.8 L1044.5 46 L1045.1 46.1 L1045.7 46.2 L1046.3 46.3 L1046.9 46.4 L1047.5 46.5 L1048.1 46.7 L1048.7 46.8 L1049.4 46.9 L1050 47 L1050.6 47.1 L1051.2 47.2 L1051.8 47.2 L1052.4 47.3 L1053 47.4 L1053.6 47.5 L1054.2 47.6 L1054.9 47.7 L1055.5 47.7 L1056.1 47.8 L1056.7 47.9 L1057.3 48 L1057.9 48 L1058.5 48.1 L1059.1 48.1 L1059.8 48.2 L1060.4 48.3 L1061 48.3 L1061.6 48.4 L1062.2 48.4 L1062.8 48.5 L1063.4 48.5 L1064 48.6 L1064.6 48.6 L1065.3 48.6 L1065.9 48.7 L1066.5 48.7 L1067.1 48.7 L1067.7 48.8 L1068.3 48.8 L1068.9 48.8 L1069.5 48.9 L1070.1 48.9 L1070.8 48.9 L1071.4 48.9 L1072 49 L1072.6 49 L1073.2 49 L1073.8 49 L1074.4 49 L1075 49 L1075.6 49.1 L1076.3 49.1 L1076.9 49.1 L1077.5 49.1 L1078.1 49.1 L1078.7 49.1 L1079.3 49.1 L1079.9 49.1 L1080.5 49.1 L1081.1 49.1 L1081.8 49.1 L1082.4 49.1 L1083 49.1 L1083.6 49.1 L1084.2 49.1 L1084.8 49.1 L1085.4 49.1 L1086 49.1 L1086.7 49.1 L1087.3 49 L1087.9 49 L1088.5 49 L1089.1 49 L1089.7 49 L1090.3 49 L1090.9 49 L1091.5 48.9 L1092.2 48.9 L1092.8 48.9 L1093.4 48.9 L1094 48.9 L1094.6 48.8 L1098.6 48.7 L1102.5 48.5 L1106.5 48.3 L1110.5 48.1 L1114.4 47.9 L1118.4 47.7 L1122.3 47.4 L1126.3 47.2 L1130.3 46.9 L1134.2 46.6 L1138.2 46.4 L1142.2 46.1 L1146.1 45.9 L1150.1 45.6 L1154.1 45.3 L1158 45.1 L1162 44.8 L1166 44.6 L1169.9 44.4 L1173.9 44.1 L1177.8 43.9 L1181.8 43.7 L1185.8 43.5 L1189.7 43.3 L1193.7 43 L1197.7 42.8 L1201.6 42.7 L1205.6 42.5 L1209.6 42.3 L1213.5 42.1 L1217.5 41.9 L1221.4 41.8 L1225.4 41.6 L1229.4 41.5 L1233.3 41.3 L1237.3 41.2 L1241.3 41 L1245.2 40.9 L1249.2 40.8 L1253.2 40.7 L1257.1 40.5 L1261.1 40.4 L1265.1 40.3 L1269 40.2 L1273 40.1 L1276.9 40 L1280.9 39.9 L1284.9 39.8 L1288.8 39.7 L1292.8 39.7 L1296.8 39.6 L1300.7 39.5 L1304.7 39.4 L1308.7 39.4 L1312.6 39.3 L1316.6 39.2 L1320.6 39.2 L1324.5 39.1 L1328.5 39 L1332.4 39 L1336.4 38.9 L1340.4 38.9 L1344.3 38.8 L1348.3 38.8 L1352.3 38.7 L1356.2 38.7 L1360.2 38.6 L1364.2 38.6 L1368.1 38.6 L1372.1 38.5 L1376 38.5 L1380 38.5 L1384 38.4 L1387.9 38.4 L1391.9 38.4 L1395.9 38.3 L1399.8 38.3 L1403.8 38.3 L1407.8 38.2 L1411.7 38.2 L1415.7 38.2 L1419.7 38.2 L1423.6 38.1 L1427.6 38.1 L1431.5 38.1 L1435.5 38.1 L1439.5 38.1 M1016.2 37.6 L1016.3 37.7 L1016.5 37.8 L1016.6 38 L1016.7 38.1 L1016.9 38.3 L1017 38.5 L1017.1 38.7 L1017.3 38.9 L1017.4 39.1 L1017.5 39.3 L1017.7 39.6 L1017.8 39.8 L1017.9 40 L1018 40.2 L1018.2 40.5 L1018.3 40.7 L1018.4 41 L1018.6 41.2 L1018.7 41.4 L1018.8 41.7 L1019 41.9 L1019.1 42.2 L1019.2 42.4 L1019.4 42.7 L1019.5 42.9 L1019.6 43.2 L1019.8 43.5 L1019.9 43.7 L1020 44 L1020.2 44.2 L1020.3 44.5 L1020.4 44.8 L1020.6 45 L1020.7 45.3 L1020.8 45.5 L1021 45.8 L1021.1 46.1 L1021.2 46.3 L1021.4 46.6 L1021.5 46.8 L1021.6 47.1 L1021.7 47.4 L1021.9 47.6 L1022 47.9 L1022.1 48.1 L1022.3 48.4 L1022.4 48.6 L1022.5 48.9 L1022.7 49.2 L1022.8 49.4 L1022.9 49.7 L1023.1 49.9 L1023.2 50.2 L1023.3 50.4 L1023.5 50.7 L1023.6 50.9 L1023.7 51.2 L1023.9 51.4 L1024 51.7 L1024.1 51.9 L1024.3 52.2 L1024.4 52.4 L1024.5 52.7 L1024.7 52.9 L1024.8 53.2 L1024.9 53.4 L1025.1 53.7 L1025.2 53.9 L1025.3 54.2 L1025.4 54.4 L1025.6 54.6 L1025.7 54.9 L1025.8 55.1 L1026 55.4 L1026.1 55.6 L1026.2 55.8 L1026.4 56.1 L1026.5 56.3 L1026.6 56.5 L1026.8 56.8 L1026.9 57 L1027 57.2 L1027.2 57.4 L1027.3 57.7 L1027.4 57.9 L1027.6 58.1 L1027.7 58.3 L1027.8 58.6 L1028 58.8 L1028.6 59.8 L1029.2 60.8 L1029.8 61.7 L1030.4 62.7 L1031 63.6 L1031.6 64.4 L1032.2 65.3 L1032.9 66.1 L1033.5 66.9 L1034.1 67.7 L1034.7 68.5 L1035.3 69.2 L1035.9 69.9 L1036.5 70.6 L1037.1 71.2 L1037.7 71.9 L1038.4 72.5 L1039 73.1 L1039.6 73.6 L1040.2 74.2 L1040.8 74.7 L1041.4 75.2 L1042 75.7 L1042.6 76.1 L1043.2 76.6 L1043.9 77 L1044.5 77.4 L1045.1 77.8 L1045.7 78.1 L1046.3 78.5 L1046.9 78.8 L1047.5 79.1 L1048.1 79.4 L1048.7 79.7 L1049.4 80 L1050 80.2 L1050.6 80.5 L1051.2 80.7 L1051.8 80.9 L1052.4 81.1 L1053 81.3 L1053.6 81.4 L1054.2 81.6 L1054.9 81.7 L1055.5 81.9 L1056.1 82 L1056.7 82.1 L1057.3 82.2 L1057.9 82.3 L1058.5 82.3 L1059.1 82.4 L1059.8 82.5 L1060.4 82.5 L1061 82.5 L1061.6 82.6 L1062.2 82.6 L1062.8 82.6 L1063.4 82.6 L1064 82.6 L1064.6 82.6 L1065.3 82.6 L1065.9 82.5 L1066.5 82.5 L1067.1 82.5 L1067.7 82.4 L1068.3 82.3 L1068.9 82.3 L1069.5 82.2 L1070.1 82.1 L1070.8 82.1 L1071.4 82 L1072 81.9 L1072.6 81.8 L1073.2 81.7 L1073.8 81.6 L1074.4 81.5 L1075 81.4 L1075.6 81.3 L1076.3 81.1 L1076.9 81 L1077.5 80.9 L1078.1 80.8 L1078.7 80.6 L1079.3 80.5 L1079.9 80.4 L1080.5 80.2 L1081.1 80.1 L1081.8 79.9 L1082.4 79.8 L1083 79.6 L1083.6 79.4 L1084.2 79.3 L1084.8 79.1 L1085.4 79 L1086 78.8 L1086.7 78.6 L1087.3 78.5 L1087.9 78.3 L1088.5 78.1 L1089.1 77.9 L1089.7 77.8 L1090.3 77.6 L1090.9 77.4 L1091.5 77.2 L1092.2 77 L1092.8 76.9 L1093.4 76.7 L1094 76.5 L1094.6 76.3 L1098.6 75.1 L1102.5 73.9 L1106.5 72.6 L1110.5 71.4 L1114.4 70.1 L1118.4 68.9 L1122.3 67.7 L1126.3 66.6 L1130.3 65.4 L1134.2 64.3 L1138.2 63.2 L1142.2 62.2 L1146.1 61.2 L1150.1 60.2 L1154.1 59.3 L1158 58.4 L1162 57.5 L1166 56.7 L1169.9 55.9 L1173.9 55.1 L1177.8 54.4 L1181.8 53.7 L1185.8 53 L1189.7 52.3 L1193.7 51.7 L1197.7 51.1 L1201.6 50.5 L1205.6 50 L1209.6 49.4 L1213.5 48.9 L1217.5 48.4 L1221.4 48 L1225.4 47.5 L1229.4 47.1 L1233.3 46.7 L1237.3 46.3 L1241.3 45.9 L1245.2 45.6 L1249.2 45.2 L1253.2 44.9 L1257.1 44.6 L1261.1 44.3 L1265.1 44 L1269 43.7 L1273 43.5 L1276.9 43.2 L1280.9 43 L1284.9 42.7 L1288.8 42.5 L1292.8 42.3 L1296.8 42.1 L1300.7 41.9 L1304.7 41.7 L1308.7 41.5 L1312.6 41.4 L1316.6 41.2 L1320.6 41.1 L1324.5 40.9 L1328.5 40.8 L1332.4 40.6 L1336.4 40.5 L1340.4 40.4 L1344.3 40.3 L1348.3 40.1 L1352.3 40 L1356.2 39.9 L1360.2 39.8 L1364.2 39.7 L1368.1 39.6 L1372.1 39.6 L1376 39.5 L1380 39.4 L1384 39.3 L1387.9 39.2 L1391.9 39.2 L1395.9 39.1 L1399.8 39 L1403.8 39 L1407.8 38.9 L1411.7 38.9 L1415.7 38.8 L1419.7 38.8 L1423.6 38.7 L1427.6 38.7 L1431.5 38.6 L1435.5 38.6 L1439.5 38.5 M1016.2 37.6 L1016.3 37.9 L1016.5 38.3 L1016.6 38.8 L1016.7 39.4 L1016.9 40 L1017 40.6 L1017.1 41.3 L1017.3 41.9 L1017.4 42.6 L1017.5 43.3 L1017.7 44 L1017.8 44.8 L1017.9 45.5 L1018 46.3 L1018.2 47 L1018.3 47.8 L1018.4 48.6 L1018.6 49.4 L1018.7 50.2 L1018.8 50.9 L1019 51.7 L1019.1 52.5 L1019.2 53.3 L1019.4 54.1 L1019.5 54.9 L1019.6 55.8 L1019.8 56.6 L1019.9 57.4 L1020 58.2 L1020.2 59 L1020.3 59.8 L1020.4 60.6 L1020.6 61.4 L1020.7 62.2 L1020.8 63 L1021 63.8 L1021.1 64.6 L1021.2 65.4 L1021.4 66.2 L1021.5 67 L1021.6 67.8 L1021.7 68.6 L1021.9 69.4 L1022 70.2 L1022.1 71 L1022.3 71.7 L1022.4 72.5 L1022.5 73.3 L1022.7 74.1 L1022.8 74.8 L1022.9 75.6 L1023.1 76.4 L1023.2 77.1 L1023.3 77.9 L1023.5 78.6 L1023.6 79.4 L1023.7 80.1 L1023.9 80.8 L1024 81.6 L1024.1 82.3 L1024.3 83 L1024.4 83.7 L1024.5 84.5 L1024.7 85.2 L1024.8 85.9 L1024.9 86.6 L1025.1 87.3 L1025.2 88 L1025.3 88.7 L1025.4 89.4 L1025.6 90 L1025.7 90.7 L1025.8 91.4 L1026 92.1 L1026.1 92.7 L1026.2 93.4 L1026.4 94 L1026.5 94.7 L1026.6 95.3 L1026.8 96 L1026.9 96.6 L1027 97.2 L1027.2 97.9 L1027.3 98.5 L1027.4 99.1 L1027.6 99.7 L1027.7 100.3 L1027.8 100.9 L1028 101.5 L1028.6 104.3 L1029.2 106.9 L1029.8 109.4 L1030.4 111.8 L1031 114.1 L1031.6 116.3 L1032.2 118.5 L1032.9 120.5 L1033.5 122.5 L1034.1 124.3 L1034.7 126.1 L1035.3 127.8 L1035.9 129.4 L1036.5 130.9 L1037.1 132.4 L1037.7 133.7 L1038.4 135 L1039 136.2 L1039.6 137.4 L1040.2 138.5 L1040.8 139.5 L1041.4 140.5 L1042 141.4 L1042.6 142.2 L1043.2 143 L1043.9 143.7 L1044.5 144.4 L1045.1 145 L1045.7 145.6 L1046.3 146.1 L1046.9 146.6 L1047.5 147 L1048.1 147.4 L1048.7 147.7 L1049.4 148 L1050 148.3 L1050.6 148.5 L1051.2 148.7 L1051.8 148.8 L1052.4 148.9 L1053 149 L1053.6 149.1 L1054.2 149.1 L1054.9 149.1 L1055.5 149.1 L1056.1 149 L1056.7 148.9 L1057.3 148.8 L1057.9 148.7 L1058.5 148.5 L1059.1 148.3 L1059.8 148.1 L1060.4 147.9 L1061 147.7 L1061.6 147.4 L1062.2 147.1 L1062.8 146.9 L1063.4 146.6 L1064 146.2 L1064.6 145.9 L1065.3 145.5 L1065.9 145.2 L1066.5 144.8 L1067.1 144.4 L1067.7 144 L1068.3 143.6 L1068.9 143.2 L1069.5 142.8 L1070.1 142.3 L1070.8 141.9 L1071.4 141.4 L1072 141 L1072.6 140.5 L1073.2 140 L1073.8 139.6 L1074.4 139.1 L1075 138.6 L1075.6 138.1 L1076.3 137.6 L1076.9 137.1 L1077.5 136.5 L1078.1 136 L1078.7 135.5 L1079.3 135 L1079.9 134.5 L1080.5 133.9 L1081.1 133.4 L1081.8 132.9 L1082.4 132.3 L1083 131.8 L1083.6 131.2 L1084.2 130.7 L1084.8 130.2 L1085.4 129.6 L1086 129.1 L1086.7 128.5 L1087.3 128 L1087.9 127.4 L1088.5 126.9 L1089.1 126.3 L1089.7 125.8 L1090.3 125.2 L1090.9 124.7 L1091.5 124.1 L1092.2 123.6 L1092.8 123 L1093.4 122.5 L1094 122 L1094.6 121.4 L1098.6 117.9 L1102.5 114.5 L1106.5 111.2 L1110.5 107.9 L1114.4 104.8 L1118.4 101.8 L1122.3 98.9 L1126.3 96.1 L1130.3 93.4 L1134.2 90.8 L1138.2 88.4 L1142.2 86 L1146.1 83.8 L1150.1 81.6 L1154.1 79.6 L1158 77.6 L1162 75.8 L1166 74 L1169.9 72.3 L1173.9 70.6 L1177.8 69.1 L1181.8 67.6 L1185.8 66.2 L1189.7 64.9 L1193.7 63.6 L1197.7 62.4 L1201.6 61.2 L1205.6 60.1 L1209.6 59 L1213.5 58 L1217.5 57.1 L1221.4 56.2 L1225.4 55.3 L1229.4 54.4 L1233.3 53.7 L1237.3 52.9 L1241.3 52.2 L1245.2 51.5 L1249.2 50.8 L1253.2 50.2 L1257.1 49.6 L1261.1 49.1 L1265.1 48.5 L1269 48 L1273 47.5 L1276.9 47.1 L1280.9 46.6 L1284.9 46.2 L1288.8 45.8 L1292.8 45.4 L1296.8 45 L1300.7 44.7 L1304.7 44.3 L1308.7 44 L1312.6 43.7 L1316.6 43.4 L1320.6 43.2 L1324.5 42.9 L1328.5 42.7 L1332.4 42.4 L1336.4 42.2 L1340.4 42 L1344.3 41.8 L1348.3 41.6 L1352.3 41.4 L1356.2 41.2 L1360.2 41 L1364.2 40.9 L1368.1 40.7 L1372.1 40.6 L1376 40.4 L1380 40.3 L1384 40.2 L1387.9 40.1 L1391.9 39.9 L1395.9 39.8 L1399.8 39.7 L1403.8 39.6 L1407.8 39.5 L1411.7 39.4 L1415.7 39.4 L1419.7 39.3 L1423.6 39.2 L1427.6 39.1 L1431.5 39 L1435.5 39 L1439.5 38.9 M1016.2 37.6 L1016.3 38.4 L1016.5 39.5 L1016.6 40.8 L1016.7 42.2 L1016.9 43.6 L1017 45.2 L1017.1 46.8 L1017.3 48.5 L1017.4 50.2 L1017.5 51.9 L1017.7 53.7 L1017.8 55.5 L1017.9 57.3 L1018 59.1 L1018.2 60.9 L1018.3 62.8 L1018.4 64.6 L1018.6 66.5 L1018.7 68.4 L1018.8 70.2 L1019 72.1 L1019.1 74 L1019.2 75.8 L1019.4 77.7 L1019.5 79.6 L1019.6 81.4 L1019.8 83.3 L1019.9 85.1 L1020 87 L1020.2 88.8 L1020.3 90.7 L1020.4 92.5 L1020.6 94.3 L1020.7 96.1 L1020.8 97.9 L1021 99.7 L1021.1 101.4 L1021.2 103.2 L1021.4 104.9 L1021.5 106.7 L1021.6 108.4 L1021.7 110.1 L1021.9 111.8 L1022 113.5 L1022.1 115.2 L1022.3 116.8 L1022.4 118.5 L1022.5 120.1 L1022.7 121.7 L1022.8 123.3 L1022.9 124.9 L1023.1 126.5 L1023.2 128.1 L1023.3 129.6 L1023.5 131.1 L1023.6 132.7 L1023.7 134.2 L1023.9 135.7 L1024 137.1 L1024.1 138.6 L1024.3 140 L1024.4 141.5 L1024.5 142.9 L1024.7 144.3 L1024.8 145.7 L1024.9 147.1 L1025.1 148.4 L1025.2 149.8 L1025.3 151.1 L1025.4 152.4 L1025.6 153.7 L1025.7 155 L1025.8 156.3 L1026 157.5 L1026.1 158.8 L1026.2 160 L1026.4 161.2 L1026.5 162.4 L1026.6 163.6 L1026.8 164.8 L1026.9 165.9 L1027 167.1 L1027.2 168.2 L1027.3 169.3 L1027.4 170.4 L1027.6 171.5 L1027.7 172.6 L1027.8 173.6 L1028 174.7 L1028.6 179.4 L1029.2 183.8 L1029.8 187.9 L1030.4 191.8 L1031 195.4 L1031.6 198.8 L1032.2 201.9 L1032.9 204.8 L1033.5 207.5 L1034.1 210 L1034.7 212.3 L1035.3 214.4 L1035.9 216.4 L1036.5 218.1 L1037.1 219.7 L1037.7 221.2 L1038.4 222.4 L1039 223.6 L1039.6 224.6 L1040.2 225.5 L1040.8 226.2 L1041.4 226.9 L1042 227.4 L1042.6 227.8 L1043.2 228.2 L1043.9 228.4 L1044.5 228.5 L1045.1 228.6 L1045.7 228.6 L1046.3 228.5 L1046.9 228.3 L1047.5 228.1 L1048.1 227.8 L1048.7 227.4 L1049.4 227 L1050 226.5 L1050.6 226 L1051.2 225.4 L1051.8 224.8 L1052.4 224.2 L1053 223.5 L1053.6 222.7 L1054.2 222 L1054.9 221.2 L1055.5 220.3 L1056.1 219.5 L1056.7 218.6 L1057.3 217.7 L1057.9 216.8 L1058.5 215.8 L1059.1 214.8 L1059.8 213.9 L1060.4 212.9 L1061 211.8 L1061.6 210.8 L1062.2 209.8 L1062.8 208.7 L1063.4 207.6 L1064 206.6 L1064.6 205.5 L1065.3 204.4 L1065.9 203.3 L1066.5 202.2 L1067.1 201.1 L1067.7 200 L1068.3 198.8 L1068.9 197.7 L1069.5 196.6 L1070.1 195.5 L1070.8 194.4 L1071.4 193.2 L1072 192.1 L1072.6 191 L1073.2 189.9 L1073.8 188.7 L1074.4 187.6 L1075 186.5 L1075.6 185.4 L1076.3 184.3 L1076.9 183.2 L1077.5 182 L1078.1 180.9 L1078.7 179.8 L1079.3 178.8 L1079.9 177.7 L1080.5 176.6 L1081.1 175.5 L1081.8 174.4 L1082.4 173.3 L1083 172.3 L1083.6 171.2 L1084.2 170.2 L1084.8 169.1 L1085.4 168.1 L1086 167 L1086.7 166 L1087.3 165 L1087.9 163.9 L1088.5 162.9 L1089.1 161.9 L1089.7 160.9 L1090.3 159.9 L1090.9 158.9 L1091.5 157.9 L1092.2 157 L1092.8 156 L1093.4 155 L1094 154.1 L1094.6 153.1 L1098.6 147.1 L1102.5 141.4 L1106.5 136 L1110.5 130.8 L1114.4 125.9 L1118.4 121.2 L1122.3 116.8 L1126.3 112.6 L1130.3 108.6 L1134.2 104.8 L1138.2 101.3 L1142.2 97.9 L1146.1 94.7 L1150.1 91.6 L1154.1 88.8 L1158 86 L1162 83.5 L1166 81 L1169.9 78.7 L1173.9 76.5 L1177.8 74.5 L1181.8 72.5 L1185.8 70.6 L1189.7 68.9 L1193.7 67.2 L1197.7 65.6 L1201.6 64.2 L1205.6 62.7 L1209.6 61.4 L1213.5 60.1 L1217.5 58.9 L1221.4 57.8 L1225.4 56.7 L1229.4 55.7 L1233.3 54.7 L1237.3 53.8 L1241.3 53 L1245.2 52.2 L1249.2 51.4 L1253.2 50.6 L1257.1 50 L1261.1 49.3 L1265.1 48.7 L1269 48.1 L1273 47.5 L1276.9 47 L1280.9 46.5 L1284.9 46 L1288.8 45.6 L1292.8 45.2 L1296.8 44.8 L1300.7 44.4 L1304.7 44 L1308.7 43.7 L1312.6 43.3 L1316.6 43 L1320.6 42.8 L1324.5 42.5 L1328.5 42.2 L1332.4 42 L1336.4 41.7 L1340.4 41.5 L1344.3 41.3 L1348.3 41.1 L1352.3 40.9 L1356.2 40.7 L1360.2 40.6 L1364.2 40.4 L1368.1 40.3 L1372.1 40.1 L1376 40 L1380 39.9 L1384 39.7 L1387.9 39.6 L1391.9 39.5 L1395.9 39.4 L1399.8 39.3 L1403.8 39.2 L1407.8 39.1 L1411.7 39.1 L1415.7 39 L1419.7 38.9 L1423.6 38.8 L1427.6 38.8 L1431.5 38.7 L1435.5 38.7 L1439.5 38.6 M1016.2 37.6 L1016.3 39 L1016.5 41.1 L1016.6 43.5 L1016.7 46.1 L1016.9 48.8 L1017 51.7 L1017.1 54.6 L1017.3 57.6 L1017.4 60.7 L1017.5 63.8 L1017.7 67 L1017.8 70.2 L1017.9 73.4 L1018 76.6 L1018.2 79.8 L1018.3 83 L1018.4 86.3 L1018.6 89.5 L1018.7 92.7 L1018.8 95.9 L1019 99.2 L1019.1 102.3 L1019.2 105.5 L1019.4 108.7 L1019.5 111.8 L1019.6 114.9 L1019.8 118 L1019.9 121.1 L1020 124.1 L1020.2 127.1 L1020.3 130.1 L1020.4 133.1 L1020.6 136 L1020.7 138.9 L1020.8 141.8 L1021 144.6 L1021.1 147.4 L1021.2 150.2 L1021.4 152.9 L1021.5 155.7 L1021.6 158.3 L1021.7 161 L1021.9 163.6 L1022 166.2 L1022.1 168.7 L1022.3 171.3 L1022.4 173.7 L1022.5 176.2 L1022.7 178.6 L1022.8 181 L1022.9 183.3 L1023.1 185.7 L1023.2 188 L1023.3 190.2 L1023.5 192.4 L1023.6 194.6 L1023.7 196.8 L1023.9 198.9 L1024 201 L1024.1 203 L1024.3 205.1 L1024.4 207.1 L1024.5 209 L1024.7 211 L1024.8 212.9 L1024.9 214.7 L1025.1 216.6 L1025.2 218.4 L1025.3 220.2 L1025.4 221.9 L1025.6 223.6 L1025.7 225.3 L1025.8 227 L1026 228.6 L1026.1 230.2 L1026.2 231.8 L1026.4 233.4 L1026.5 234.9 L1026.6 236.4 L1026.8 237.9 L1026.9 239.3 L1027 240.7 L1027.2 242.1 L1027.3 243.5 L1027.4 244.8 L1027.6 246.1 L1027.7 247.4 L1027.8 248.7 L1028 249.9 L1028.6 255.3 L1029.2 260.2 L1029.8 264.6 L1030.4 268.6 L1031 272.2 L1031.6 275.4 L1032.2 278.2 L1032.9 280.7 L1033.5 282.9 L1034.1 284.7 L1034.7 286.3 L1035.3 287.6 L1035.9 288.6 L1036.5 289.4 L1037.1 290 L1037.7 290.4 L1038.4 290.6 L1039 290.6 L1039.6 290.5 L1040.2 290.2 L1040.8 289.7 L1041.4 289.2 L1042 288.5 L1042.6 287.7 L1043.2 286.8 L1043.9 285.8 L1044.5 284.7 L1045.1 283.6 L1045.7 282.3 L1046.3 281 L1046.9 279.7 L1047.5 278.3 L1048.1 276.8 L1048.7 275.3 L1049.4 273.7 L1050 272.1 L1050.6 270.5 L1051.2 268.8 L1051.8 267.2 L1052.4 265.4 L1053 263.7 L1053.6 262 L1054.2 260.2 L1054.9 258.4 L1055.5 256.6 L1056.1 254.8 L1056.7 253 L1057.3 251.2 L1057.9 249.4 L1058.5 247.6 L1059.1 245.7 L1059.8 243.9 L1060.4 242.1 L1061 240.3 L1061.6 238.5 L1062.2 236.6 L1062.8 234.8 L1063.4 233 L1064 231.2 L1064.6 229.4 L1065.3 227.7 L1065.9 225.9 L1066.5 224.1 L1067.1 222.4 L1067.7 220.6 L1068.3 218.9 L1068.9 217.2 L1069.5 215.5 L1070.1 213.8 L1070.8 212.1 L1071.4 210.4 L1072 208.8 L1072.6 207.1 L1073.2 205.5 L1073.8 203.8 L1074.4 202.2 L1075 200.6 L1075.6 199 L1076.3 197.5 L1076.9 195.9 L1077.5 194.4 L1078.1 192.8 L1078.7 191.3 L1079.3 189.8 L1079.9 188.3 L1080.5 186.8 L1081.1 185.3 L1081.8 183.9 L1082.4 182.4 L1083 181 L1083.6 179.6 L1084.2 178.2 L1084.8 176.8 L1085.4 175.4 L1086 174.1 L1086.7 172.7 L1087.3 171.4 L1087.9 170 L1088.5 168.7 L1089.1 167.4 L1089.7 166.1 L1090.3 164.8 L1090.9 163.6 L1091.5 162.3 L1092.2 161.1 L1092.8 159.9 L1093.4 158.6 L1094 157.4 L1094.6 156.2 L1098.6 148.8 L1102.5 141.8 L1106.5 135.2 L1110.5 129 L1114.4 123.3 L1118.4 117.9 L1122.3 112.8 L1126.3 108 L1130.3 103.6 L1134.2 99.4 L1138.2 95.5 L1142.2 91.9 L1146.1 88.4 L1150.1 85.2 L1154.1 82.2 L1158 79.4 L1162 76.8 L1166 74.3 L1169.9 72 L1173.9 69.8 L1177.8 67.8 L1181.8 65.9 L1185.8 64.1 L1189.7 62.4 L1193.7 60.8 L1197.7 59.4 L1201.6 58 L1205.6 56.7 L1209.6 55.5 L1213.5 54.4 L1217.5 53.3 L1221.4 52.3 L1225.4 51.4 L1229.4 50.5 L1233.3 49.7 L1237.3 48.9 L1241.3 48.2 L1245.2 47.6 L1249.2 46.9 L1253.2 46.3 L1257.1 45.8 L1261.1 45.3 L1265.1 44.8 L1269 44.3 L1273 43.9 L1276.9 43.5 L1280.9 43.1 L1284.9 42.8 L1288.8 42.5 L1292.8 42.1 L1296.8 41.9 L1300.7 41.6 L1304.7 41.3 L1308.7 41.1 L1312.6 40.9 L1316.6 40.7 L1320.6 40.5 L1324.5 40.3 L1328.5 40.1 L1332.4 40 L1336.4 39.8 L1340.4 39.7 L1344.3 39.5 L1348.3 39.4 L1352.3 39.3 L1356.2 39.2 L1360.2 39.1 L1364.2 39 L1368.1 38.9 L1372.1 38.8 L1376 38.8 L1380 38.7 L1384 38.6 L1387.9 38.6 L1391.9 38.5 L1395.9 38.4 L1399.8 38.4 L1403.8 38.3 L1407.8 38.3 L1411.7 38.2 L1415.7 38.2 L1419.7 38.2 L1423.6 38.1 L1427.6 38.1 L1431.5 38.1 L1435.5 38 L1439.5 38 M1016.2 37.6 L1016.3 39.9 L1016.5 43.2 L1016.6 46.9 L1016.7 51 L1016.9 55.3 L1017 59.7 L1017.1 64.2 L1017.3 68.9 L1017.4 73.5 L1017.5 78.3 L1017.7 83 L1017.8 87.8 L1017.9 92.6 L1018 97.3 L1018.2 102.1 L1018.3 106.8 L1018.4 111.5 L1018.6 116.1 L1018.7 120.7 L1018.8 125.3 L1019 129.8 L1019.1 134.3 L1019.2 138.7 L1019.4 143.1 L1019.5 147.4 L1019.6 151.7 L1019.8 155.9 L1019.9 160 L1020 164.1 L1020.2 168.1 L1020.3 172.1 L1020.4 175.9 L1020.6 179.8 L1020.7 183.5 L1020.8 187.2 L1021 190.9 L1021.1 194.4 L1021.2 197.9 L1021.4 201.4 L1021.5 204.7 L1021.6 208.1 L1021.7 211.3 L1021.9 214.5 L1022 217.6 L1022.1 220.7 L1022.3 223.7 L1022.4 226.6 L1022.5 229.5 L1022.7 232.3 L1022.8 235 L1022.9 237.7 L1023.1 240.4 L1023.2 243 L1023.3 245.5 L1023.5 247.9 L1023.6 250.4 L1023.7 252.7 L1023.9 255 L1024 257.3 L1024.1 259.5 L1024.3 261.6 L1024.4 263.7 L1024.5 265.7 L1024.7 267.7 L1024.8 269.6 L1024.9 271.5 L1025.1 273.4 L1025.2 275.2 L1025.3 276.9 L1025.4 278.6 L1025.6 280.3 L1025.7 281.9 L1025.8 283.5 L1026 285 L1026.1 286.5 L1026.2 287.9 L1026.4 289.3 L1026.5 290.7 L1026.6 292 L1026.8 293.3 L1026.9 294.5 L1027 295.7 L1027.2 296.9 L1027.3 298 L1027.4 299.1 L1027.6 300.2 L1027.7 301.2 L1027.8 302.2 L1028 303.2 L1028.6 307.2 L1029.2 310.5 L1029.8 313.3 L1030.4 315.6 L1031 317.3 L1031.6 318.6 L1032.2 319.5 L1032.9 319.9 L1033.5 320.1 L1034.1 319.9 L1034.7 319.5 L1035.3 318.8 L1035.9 317.9 L1036.5 316.8 L1037.1 315.4 L1037.7 314 L1038.4 312.3 L1039 310.6 L1039.6 308.7 L1040.2 306.7 L1040.8 304.6 L1041.4 302.4 L1042 300.2 L1042.6 297.9 L1043.2 295.5 L1043.9 293.1 L1044.5 290.7 L1045.1 288.2 L1045.7 285.7 L1046.3 283.2 L1046.9 280.7 L1047.5 278.1 L1048.1 275.6 L1048.7 273 L1049.4 270.4 L1050 267.9 L1050.6 265.3 L1051.2 262.7 L1051.8 260.2 L1052.4 257.7 L1053 255.1 L1053.6 252.6 L1054.2 250.1 L1054.9 247.7 L1055.5 245.2 L1056.1 242.7 L1056.7 240.3 L1057.3 237.9 L1057.9 235.5 L1058.5 233.2 L1059.1 230.8 L1059.8 228.5 L1060.4 226.2 L1061 223.9 L1061.6 221.7 L1062.2 219.4 L1062.8 217.2 L1063.4 215.1 L1064 212.9 L1064.6 210.8 L1065.3 208.6 L1065.9 206.6 L1066.5 204.5 L1067.1 202.4 L1067.7 200.4 L1068.3 198.4 L1068.9 196.4 L1069.5 194.5 L1070.1 192.6 L1070.8 190.7 L1071.4 188.8 L1072 186.9 L1072.6 185.1 L1073.2 183.3 L1073.8 181.5 L1074.4 179.7 L1075 177.9 L1075.6 176.2 L1076.3 174.5 L1076.9 172.8 L1077.5 171.1 L1078.1 169.5 L1078.7 167.8 L1079.3 166.2 L1079.9 164.6 L1080.5 163.1 L1081.1 161.5 L1081.8 160 L1082.4 158.5 L1083 157 L1083.6 155.5 L1084.2 154 L1084.8 152.6 L1085.4 151.2 L1086 149.8 L1086.7 148.4 L1087.3 147 L1087.9 145.6 L1088.5 144.3 L1089.1 143 L1089.7 141.7 L1090.3 140.4 L1090.9 139.1 L1091.5 137.9 L1092.2 136.6 L1092.8 135.4 L1093.4 134.2 L1094 133 L1094.6 131.8 L1098.6 124.5 L1102.5 117.7 L1106.5 111.5 L1110.5 105.8 L1114.4 100.5 L1118.4 95.6 L1122.3 91.1 L1126.3 86.9 L1130.3 83.1 L1134.2 79.5 L1138.2 76.3 L1142.2 73.3 L1146.1 70.5 L1150.1 68 L1154.1 65.6 L1158 63.4 L1162 61.4 L1166 59.6 L1169.9 57.9 L1173.9 56.3 L1177.8 54.8 L1181.8 53.5 L1185.8 52.3 L1189.7 51.1 L1193.7 50.1 L1197.7 49.1 L1201.6 48.2 L1205.6 47.4 L1209.6 46.6 L1213.5 45.9 L1217.5 45.3 L1221.4 44.7 L1225.4 44.1 L1229.4 43.6 L1233.3 43.2 L1237.3 42.7 L1241.3 42.3 L1245.2 42 L1249.2 41.6 L1253.2 41.3 L1257.1 41 L1261.1 40.8 L1265.1 40.5 L1269 40.3 L1273 40.1 L1276.9 39.9 L1280.9 39.7 L1284.9 39.5 L1288.8 39.4 L1292.8 39.2 L1296.8 39.1 L1300.7 39 L1304.7 38.9 L1308.7 38.8 L1312.6 38.7 L1316.6 38.6 L1320.6 38.5 L1324.5 38.5 L1328.5 38.4 L1332.4 38.3 L1336.4 38.3 L1340.4 38.2 L1344.3 38.2 L1348.3 38.1 L1352.3 38.1 L1356.2 38.1 L1360.2 38 L1364.2 38 L1368.1 38 L1372.1 37.9 L1376 37.9 L1380 37.9 L1384 37.9 L1387.9 37.6 M1016.2 37.6 L1016.3 41.8 L1016.5 47.7 L1016.6 54.3 L1016.7 61.4 L1016.9 68.8 L1017 76.3 L1017.1 83.9 L1017.3 91.6 L1017.4 99.3 L1017.5 106.9 L1017.7 114.5 L1017.8 122 L1017.9 129.4 L1018 136.7 L1018.2 143.9 L1018.3 150.9 L1018.4 157.8 L1018.6 164.6 L1018.7 171.2 L1018.8 177.7 L1019 184 L1019.1 190.1 L1019.2 196.1 L1019.4 202 L1019.5 207.7 L1019.6 213.2 L1019.8 218.6 L1019.9 223.8 L1020 228.9 L1020.2 233.8 L1020.3 238.6 L1020.4 243.2 L1020.6 247.7 L1020.7 252 L1020.8 256.2 L1021 260.3 L1021.1 264.2 L1021.2 268 L1021.4 271.7 L1021.5 275.2 L1021.6 278.6 L1021.7 281.9 L1021.9 285.1 L1022 288.1 L1022.1 291.1 L1022.3 293.9 L1022.4 296.6 L1022.5 299.2 L1022.7 301.7 L1022.8 304.1 L1022.9 306.4 L1023.1 308.6 L1023.2 310.8 L1023.3 312.8 L1023.5 314.7 L1023.6 316.6 L1023.7 318.3 L1023.9 320 L1024 321.6 L1024.1 323.1 L1024.3 324.6 L1024.4 326 L1024.5 327.3 L1024.7 328.5 L1024.8 329.7 L1024.9 330.8 L1025.1 331.8 L1025.2 332.8 L1025.3 333.7 L1025.4 334.5 L1025.6 335.3 L1025.7 336.1 L1025.8 336.8 L1026 337.4 L1026.1 338 L1026.2 338.5 L1026.4 339 L1026.5 339.4 L1026.6 339.8 L1026.8 340.2 L1026.9 340.5 L1027 340.8 L1027.2 341 L1027.3 341.2 L1027.4 341.3 L1027.6 341.5 L1027.7 341.5 L1027.8 341.6 L1028 341.6 L1028.6 341.3 L1029.2 340.4 L1029.8 339 L1030.4 337.1 L1031 334.9 L1031.6 332.4 L1032.2 329.6 L1032.9 326.6 L1033.5 323.5 L1034.1 320.1 L1034.7 316.7 L1035.3 313.2 L1035.9 309.6 L1036.5 305.9 L1037.1 302.2 L1037.7 298.5 L1038.4 294.7 L1039 291 L1039.6 287.2 L1040.2 283.5 L1040.8 279.8 L1041.4 276.1 L1042 272.4 L1042.6 268.8 L1043.2 265.2 L1043.9 261.6 L1044.5 258.1 L1045.1 254.6 L1045.7 251.2 L1046.3 247.8 L1046.9 244.4 L1047.5 241.1 L1048.1 237.9 L1048.7 234.6 L1049.4 231.5 L1050 228.4 L1050.6 225.3 L1051.2 222.3 L1051.8 219.3 L1052.4 216.3 L1053 213.4 L1053.6 210.6 L1054.2 207.8 L1054.9 205 L1055.5 202.3 L1056.1 199.6 L1056.7 197 L1057.3 194.4 L1057.9 191.9 L1058.5 189.4 L1059.1 186.9 L1059.8 184.5 L1060.4 182.1 L1061 179.7 L1061.6 177.4 L1062.2 175.1 L1062.8 172.9 L1063.4 170.7 L1064 168.5 L1064.6 166.4 L1065.3 164.3 L1065.9 162.2 L1066.5 160.2 L1067.1 158.2 L1067.7 156.3 L1068.3 154.3 L1068.9 152.4 L1069.5 150.6 L1070.1 148.7 L1070.8 146.9 L1071.4 145.1 L1072 143.4 L1072.6 141.7 L1073.2 140 L1073.8 138.3 L1074.4 136.7 L1075 135 L1075.6 133.5 L1076.3 131.9 L1076.9 130.4 L1077.5 128.9 L1078.1 127.4 L1078.7 125.9 L1079.3 124.5 L1079.9 123.1 L1080.5 121.7 L1081.1 120.3 L1081.8 118.9 L1082.4 117.6 L1083 116.3 L1083.6 115 L1084.2 113.8 L1084.8 112.5 L1085.4 111.3 L1086 110.1 L1086.7 108.9 L1087.3 107.8 L1087.9 106.6 L1088.5 105.5 L1089.1 104.4 L1089.7 103.3 L1090.3 102.2 L1090.9 101.2 L1091.5 100.2 L1092.2 99.1 L1092.8 98.1 L1093.4 97.1 L1094 96.2 L1094.6 95.2 L1098.6 89.4 L1102.5 84.2 L1106.5 79.5 L1110.5 75.2 L1114.4 71.4 L1118.4 68 L1122.3 65 L1126.3 62.2 L1130.3 59.7 L1134.2 57.5 L1138.2 55.5 L1142.2 53.7 L1146.1 52 L1150.1 50.6 L1154.1 49.3 L1158 48.1 L1162 47 L1166 46.1 L1169.9 45.2 L1173.9 44.5 L1177.8 43.8 L1181.8 43.1 L1185.8 42.6 L1189.7 42.1 L1193.7 41.6 L1197.7 41.2 L1201.6 40.9 L1205.6 40.5 L1209.6 40.2 L1213.5 40 L1217.5 39.7 L1221.4 39.5 L1225.4 39.3 L1229.4 39.1 L1233.3 39 L1237.3 38.8 L1241.3 38.7 L1245.2 38.6 L1249.2 38.5 L1253.2 38.4 L1257.1 38.3 L1261.1 38.3 L1265.1 38.2 L1269 38.1 L1273 38.1 L1276.9 38 L1280.9 38 L1284.9 37.9 L1288.8 37.9 L1292.8 37.9 L1296.8 37.9 L1300.7 37.6 M1016.2 37.6 L1016.3 44.6 L1016.5 54.3 L1016.6 65.1 L1016.7 76.4 L1016.9 87.9 L1017 99.5 L1017.1 111.1 L1017.3 122.5 L1017.4 133.6 L1017.5 144.6 L1017.7 155.2 L1017.8 165.6 L1017.9 175.6 L1018 185.3 L1018.2 194.7 L1018.3 203.7 L1018.4 212.4 L1018.6 220.7 L1018.7 228.7 L1018.8 236.3 L1019 243.7 L1019.1 250.7 L1019.2 257.3 L1019.4 263.7 L1019.5 269.8 L1019.6 275.6 L1019.8 281.1 L1019.9 286.3 L1020 291.2 L1020.2 295.9 L1020.3 300.4 L1020.4 304.6 L1020.6 308.6 L1020.7 312.3 L1020.8 315.8 L1021 319.1 L1021.1 322.3 L1021.2 325.2 L1021.4 327.9 L1021.5 330.5 L1021.6 332.9 L1021.7 335.1 L1021.9 337.1 L1022 339.1 L1022.1 340.8 L1022.3 342.4 L1022.4 343.9 L1022.5 345.3 L1022.7 346.5 L1022.8 347.7 L1022.9 348.7 L1023.1 349.6 L1023.2 350.4 L1023.3 351.1 L1023.5 351.7 L1023.6 352.2 L1023.7 352.6 L1023.9 353 L1024 353.2 L1024.1 353.4 L1024.3 353.5 L1024.4 353.6 L1024.5 353.6 L1024.7 353.5 L1024.8 353.4 L1024.9 353.2 L1025.1 352.9 L1025.2 352.6 L1025.3 352.3 L1025.4 351.9 L1025.6 351.5 L1025.7 351 L1025.8 350.5 L1026 349.9 L1026.1 349.3 L1026.2 348.7 L1026.4 348 L1026.5 347.4 L1026.6 346.6 L1026.8 345.9 L1026.9 345.1 L1027 344.3 L1027.2 343.5 L1027.3 342.7 L1027.4 341.8 L1027.6 340.9 L1027.7 340 L1027.8 339.1 L1028 338.1 L1028.6 333.6 L1029.2 328.8 L1029.8 323.9 L1030.4 318.8 L1031 313.6 L1031.6 308.4 L1032.2 303.2 L1032.9 298 L1033.5 292.8 L1034.1 287.6 L1034.7 282.6 L1035.3 277.5 L1035.9 272.6 L1036.5 267.7 L1037.1 262.9 L1037.7 258.2 L1038.4 253.6 L1039 249 L1039.6 244.6 L1040.2 240.2 L1040.8 235.9 L1041.4 231.7 L1042 227.6 L1042.6 223.6 L1043.2 219.6 L1043.9 215.8 L1044.5 212 L1045.1 208.3 L1045.7 204.7 L1046.3 201.1 L1046.9 197.6 L1047.5 194.2 L1048.1 190.9 L1048.7 187.6 L1049.4 184.5 L1050 181.3 L1050.6 178.3 L1051.2 175.3 L1051.8 172.3 L1052.4 169.5 L1053 166.7 L1053.6 163.9 L1054.2 161.2 L1054.9 158.6 L1055.5 156 L1056.1 153.5 L1056.7 151 L1057.3 148.6 L1057.9 146.3 L1058.5 144 L1059.1 141.7 L1059.8 139.5 L1060.4 137.3 L1061 135.2 L1061.6 133.1 L1062.2 131.1 L1062.8 129.1 L1063.4 127.1 L1064 125.2 L1064.6 123.4 L1065.3 121.5 L1065.9 119.8 L1066.5 118 L1067.1 116.3 L1067.7 114.6 L1068.3 113 L1068.9 111.4 L1069.5 109.8 L1070.1 108.3 L1070.8 106.8 L1071.4 105.3 L1072 103.9 L1072.6 102.4 L1073.2 101.1 L1073.8 99.7 L1074.4 98.4 L1075 97.1 L1075.6 95.8 L1076.3 94.6 L1076.9 93.4 L1077.5 92.2 L1078.1 91 L1078.7 89.9 L1079.3 88.8 L1079.9 87.7 L1080.5 86.6 L1081.1 85.6 L1081.8 84.6 L1082.4 83.6 L1083 82.6 L1083.6 81.6 L1084.2 80.7 L1084.8 79.8 L1085.4 78.9 L1086 78 L1086.7 77.1 L1087.3 76.3 L1087.9 75.5 L1088.5 74.7 L1089.1 73.9 L1089.7 73.1 L1090.3 72.3 L1090.9 71.6 L1091.5 70.9 L1092.2 70.2 L1092.8 69.5 L1093.4 68.8 L1094 68.1 L1094.6 67.5 L1098.6 63.6 L1102.5 60.2 L1106.5 57.3 L1110.5 54.7 L1114.4 52.5 L1118.4 50.5 L1122.3 48.9 L1126.3 47.4 L1130.3 46.1 L1134.2 45 L1138.2 44 L1142.2 43.2 L1146.1 42.5 L1150.1 41.8 L1154.1 41.3 L1158 40.8 L1162 40.4 L1166 40 L1169.9 39.7 L1173.9 39.4 L1177.8 39.2 L1181.8 39 L1185.8 38.8 L1189.7 38.7 L1193.7 38.5 L1197.7 38.4 L1201.6 38.3 L1205.6 38.2 L1209.6 38.1 L1213.5 38.1 L1217.5 38 L1221.4 37.9 L1225.4 37.9 L1229.4 37.9 L1233.3 37.6 M1016.2 37.6 L1016.3 48.8 L1016.5 64 L1016.6 80.5 L1016.7 97.3 L1016.9 114.1 L1017 130.6 L1017.1 146.6 L1017.3 162 L1017.4 176.7 L1017.5 190.8 L1017.7 204.2 L1017.8 216.9 L1017.9 228.9 L1018 240.1 L1018.2 250.7 L1018.3 260.7 L1018.4 270 L1018.6 278.6 L1018.7 286.7 L1018.8 294.2 L1019 301.2 L1019.1 307.6 L1019.2 313.6 L1019.4 319.1 L1019.5 324.2 L1019.6 328.8 L1019.8 333 L1019.9 336.9 L1020 340.4 L1020.2 343.6 L1020.3 346.4 L1020.4 349 L1020.6 351.3 L1020.7 353.3 L1020.8 355.1 L1021 356.6 L1021.1 357.9 L1021.2 359 L1021.4 360 L1021.5 360.7 L1021.6 361.3 L1021.7 361.7 L1021.9 362 L1022 362.1 L1022.1 362.1 L1022.3 362 L1022.4 361.7 L1022.5 361.4 L1022.7 361 L1022.8 360.4 L1022.9 359.8 L1023.1 359.1 L1023.2 358.4 L1023.3 357.5 L1023.5 356.6 L1023.6 355.7 L1023.7 354.6 L1023.9 353.6 L1024 352.5 L1024.1 351.3 L1024.3 350.1 L1024.4 348.9 L1024.5 347.6 L1024.7 346.3 L1024.8 345 L1024.9 343.6 L1025.1 342.2 L1025.2 340.8 L1025.3 339.4 L1025.4 338 L1025.6 336.5 L1025.7 335 L1025.8 333.6 L1026 332.1 L1026.1 330.6 L1026.2 329 L1026.4 327.5 L1026.5 326 L1026.6 324.4 L1026.8 322.9 L1026.9 321.4 L1027 319.8 L1027.2 318.3 L1027.3 316.7 L1027.4 315.2 L1027.6 313.6 L1027.7 312.1 L1027.8 310.5 L1028 309 L1028.6 301.8 L1029.2 294.8 L1029.8 287.9 L1030.4 281 L1031 274.4 L1031.6 267.9 L1032.2 261.5 L1032.9 255.3 L1033.5 249.2 L1034.1 243.4 L1034.7 237.6 L1035.3 232.1 L1035.9 226.6 L1036.5 221.4 L1037.1 216.2 L1037.7 211.2 L1038.4 206.4 L1039 201.7 L1039.6 197.1 L1040.2 192.6 L1040.8 188.3 L1041.4 184.1 L1042 180 L1042.6 176 L1043.2 172.1 L1043.9 168.4 L1044.5 164.7 L1045.1 161.2 L1045.7 157.7 L1046.3 154.4 L1046.9 151.1 L1047.5 147.9 L1048.1 144.8 L1048.7 141.8 L1049.4 138.9 L1050 136.1 L1050.6 133.3 L1051.2 130.7 L1051.8 128.1 L1052.4 125.5 L1053 123.1 L1053.6 120.7 L1054.2 118.4 L1054.9 116.1 L1055.5 113.9 L1056.1 111.8 L1056.7 109.7 L1057.3 107.7 L1057.9 105.7 L1058.5 103.8 L1059.1 102 L1059.8 100.2 L1060.4 98.4 L1061 96.7 L1061.6 95.1 L1062.2 93.5 L1062.8 91.9 L1063.4 90.4 L1064 88.9 L1064.6 87.5 L1065.3 86.1 L1065.9 84.7 L1066.5 83.4 L1067.1 82.1 L1067.7 80.9 L1068.3 79.7 L1068.9 78.5 L1069.5 77.3 L1070.1 76.2 L1070.8 75.2 L1071.4 74.1 L1072 73.1 L1072.6 72.1 L1073.2 71.1 L1073.8 70.2 L1074.4 69.3 L1075 68.4 L1075.6 67.5 L1076.3 66.7 L1076.9 65.9 L1077.5 65.1 L1078.1 64.3 L1078.7 63.6 L1079.3 62.8 L1079.9 62.1 L1080.5 61.5 L1081.1 60.8 L1081.8 60.1 L1082.4 59.5 L1083 58.9 L1083.6 58.3 L1084.2 57.7 L1084.8 57.2 L1085.4 56.6 L1086 56.1 L1086.7 55.6 L1087.3 55.1 L1087.9 54.6 L1088.5 54.1 L1089.1 53.6 L1089.7 53.2 L1090.3 52.8 L1090.9 52.3 L1091.5 51.9 L1092.2 51.5 L1092.8 51.1 L1093.4 50.8 L1094 50.4 L1094.6 50 L1098.6 47.9 L1102.5 46.2 L1106.5 44.8 L1110.5 43.6 L1114.4 42.6 L1118.4 41.7 L1122.3 41 L1126.3 40.5 L1130.3 40 L1134.2 39.6 L1138.2 39.2 L1142.2 39 L1146.1 38.7 L1150.1 38.5 L1154.1 38.4 L1158 38.3 L1162 38.1 L1166 38.1 L1169.9 38 L1173.9 37.9 L1177.8 37.9 L1181.8 37.6 M1016.2 37.6 L1016.3 50 L1016.5 66.8 L1016.6 84.8 L1016.7 103.1 L1016.9 121.2 L1017 138.9 L1017.1 155.9 L1017.3 172.2 L1017.4 187.7 L1017.5 202.4 L1017.7 216.2 L1017.8 229.2 L1017.9 241.4 L1018 252.8 L1018.2 263.4 L1018.3 273.2 L1018.4 282.4 L1018.6 290.8 L1018.7 298.6 L1018.8 305.8 L1019 312.3 L1019.1 318.3 L1019.2 323.8 L1019.4 328.8 L1019.5 333.3 L1019.6 337.4 L1019.8 341 L1019.9 344.3 L1020 347.2 L1020.2 349.7 L1020.3 352 L1020.4 353.9 L1020.6 355.6 L1020.7 357 L1020.8 358.1 L1021 359 L1021.1 359.7 L1021.2 360.2 L1021.4 360.5 L1021.5 360.7 L1021.6 360.7 L1021.7 360.5 L1021.9 360.2 L1022 359.8 L1022.1 359.2 L1022.3 358.6 L1022.4 357.8 L1022.5 357 L1022.7 356 L1022.8 355 L1022.9 353.9 L1023.1 352.8 L1023.2 351.5 L1023.3 350.3 L1023.5 348.9 L1023.6 347.5 L1023.7 346.1 L1023.9 344.7 L1024 343.1 L1024.1 341.6 L1024.3 340 L1024.4 338.4 L1024.5 336.8 L1024.7 335.2 L1024.8 333.5 L1024.9 331.8 L1025.1 330.2 L1025.2 328.4 L1025.3 326.7 L1025.4 325 L1025.6 323.3 L1025.7 321.5 L1025.8 319.8 L1026 318 L1026.1 316.2 L1026.2 314.5 L1026.4 312.7 L1026.5 311 L1026.6 309.2 L1026.8 307.4 L1026.9 305.7 L1027 303.9 L1027.2 302.2 L1027.3 300.4 L1027.4 298.7 L1027.6 297 L1027.7 295.2 L1027.8 293.5 L1028 291.8 L1028.6 283.9 L1029.2 276.2 L1029.8 268.7 L1030.4 261.4 L1031 254.2 L1031.6 247.3 L1032.2 240.6 L1032.9 234.1 L1033.5 227.8 L1034.1 221.7 L1034.7 215.8 L1035.3 210.1 L1035.9 204.5 L1036.5 199.2 L1037.1 194 L1037.7 188.9 L1038.4 184.1 L1039 179.3 L1039.6 174.8 L1040.2 170.4 L1040.8 166.1 L1041.4 162 L1042 158 L1042.6 154.1 L1043.2 150.3 L1043.9 146.7 L1044.5 143.2 L1045.1 139.8 L1045.7 136.5 L1046.3 133.3 L1046.9 130.2 L1047.5 127.3 L1048.1 124.4 L1048.7 121.6 L1049.4 118.9 L1050 116.3 L1050.6 113.7 L1051.2 111.3 L1051.8 108.9 L1052.4 106.6 L1053 104.4 L1053.6 102.2 L1054.2 100.2 L1054.9 98.1 L1055.5 96.2 L1056.1 94.3 L1056.7 92.5 L1057.3 90.7 L1057.9 89 L1058.5 87.4 L1059.1 85.8 L1059.8 84.2 L1060.4 82.7 L1061 81.2 L1061.6 79.8 L1062.2 78.5 L1062.8 77.2 L1063.4 75.9 L1064 74.7 L1064.6 73.5 L1065.3 72.3 L1065.9 71.2 L1066.5 70.1 L1067.1 69.1 L1067.7 68.1 L1068.3 67.1 L1068.9 66.1 L1069.5 65.2 L1070.1 64.3 L1070.8 63.5 L1071.4 62.6 L1072 61.8 L1072.6 61 L1073.2 60.3 L1073.8 59.6 L1074.4 58.8 L1075 58.2 L1075.6 57.5 L1076.3 56.9 L1076.9 56.2 L1077.5 55.6 L1078.1 55.1 L1078.7 54.5 L1079.3 54 L1079.9 53.4 L1080.5 52.9 L1081.1 52.4 L1081.8 51.9 L1082.4 51.5 L1083 51 L1083.6 50.6 L1084.2 50.2 L1084.8 49.8 L1085.4 49.4 L1086 49 L1086.7 48.6 L1087.3 48.3 L1087.9 47.9 L1088.5 47.6 L1089.1 47.3 L1089.7 47 L1090.3 46.7 L1090.9 46.4 L1091.5 46.1 L1092.2 45.8 L1092.8 45.6 L1093.4 45.3 L1094 45.1 L1094.6 44.8 L1098.6 43.4 L1102.5 42.3 L1106.5 41.4 L1110.5 40.7 L1114.4 40.1 L1118.4 39.6 L1122.3 39.2 L1126.3 38.9 L1130.3 38.7 L1134.2 38.5 L1138.2 38.3 L1142.2 38.2 L1146.1 38.1 L1150.1 38 L1154.1 37.9 L1158 37.6 M1016.2 37.6 L1016.3 50.3 L1016.5 67.3 L1016.6 85.6 L1016.7 104.2 L1016.9 122.6 L1017 140.4 L1017.1 157.6 L1017.3 174 L1017.4 189.6 L1017.5 204.3 L1017.7 218.2 L1017.8 231.2 L1017.9 243.3 L1018 254.6 L1018.2 265.1 L1018.3 274.8 L1018.4 283.8 L1018.6 292.1 L1018.7 299.8 L1018.8 306.8 L1019 313.1 L1019.1 319 L1019.2 324.3 L1019.4 329 L1019.5 333.4 L1019.6 337.2 L1019.8 340.7 L1019.9 343.7 L1020 346.4 L1020.2 348.8 L1020.3 350.8 L1020.4 352.5 L1020.6 354 L1020.7 355.2 L1020.8 356.1 L1021 356.9 L1021.1 357.4 L1021.2 357.7 L1021.4 357.8 L1021.5 357.8 L1021.6 357.6 L1021.7 357.3 L1021.9 356.8 L1022 356.2 L1022.1 355.5 L1022.3 354.7 L1022.4 353.8 L1022.5 352.8 L1022.7 351.7 L1022.8 350.6 L1022.9 349.3 L1023.1 348 L1023.2 346.7 L1023.3 345.3 L1023.5 343.8 L1023.6 342.3 L1023.7 340.8 L1023.9 339.2 L1024 337.6 L1024.1 335.9 L1024.3 334.3 L1024.4 332.6 L1024.5 330.9 L1024.7 329.1 L1024.8 327.4 L1024.9 325.6 L1025.1 323.8 L1025.2 322 L1025.3 320.2 L1025.4 318.4 L1025.6 316.6 L1025.7 314.8 L1025.8 313 L1026 311.1 L1026.1 309.3 L1026.2 307.5 L1026.4 305.7 L1026.5 303.8 L1026.6 302 L1026.8 300.2 L1026.9 298.4 L1027 296.6 L1027.2 294.8 L1027.3 293 L1027.4 291.2 L1027.6 289.4 L1027.7 287.6 L1027.8 285.8 L1028 284.1 L1028.6 276 L1029.2 268.2 L1029.8 260.5 L1030.4 253.1 L1031 245.9 L1031.6 238.9 L1032.2 232.1 L1032.9 225.6 L1033.5 219.2 L1034.1 213.1 L1034.7 207.2 L1035.3 201.4 L1035.9 195.9 L1036.5 190.6 L1037.1 185.4 L1037.7 180.4 L1038.4 175.6 L1039 170.9 L1039.6 166.4 L1040.2 162 L1040.8 157.8 L1041.4 153.8 L1042 149.8 L1042.6 146 L1043.2 142.4 L1043.9 138.8 L1044.5 135.4 L1045.1 132.1 L1045.7 128.9 L1046.3 125.8 L1046.9 122.8 L1047.5 119.9 L1048.1 117.2 L1048.7 114.5 L1049.4 111.9 L1050 109.4 L1050.6 106.9 L1051.2 104.6 L1051.8 102.3 L1052.4 100.1 L1053 98 L1053.6 96 L1054.2 94 L1054.9 92.1 L1055.5 90.3 L1056.1 88.5 L1056.7 86.8 L1057.3 85.1 L1057.9 83.5 L1058.5 81.9 L1059.1 80.4 L1059.8 79 L1060.4 77.6 L1061 76.2 L1061.6 74.9 L1062.2 73.7 L1062.8 72.4 L1063.4 71.3 L1064 70.1 L1064.6 69 L1065.3 68 L1065.9 66.9 L1066.5 65.9 L1067.1 65 L1067.7 64.1 L1068.3 63.2 L1068.9 62.3 L1069.5 61.5 L1070.1 60.7 L1070.8 59.9 L1071.4 59.1 L1072 58.4 L1072.6 57.7 L1073.2 57 L1073.8 56.4 L1074.4 55.7 L1075 55.1 L1075.6 54.5 L1076.3 53.9 L1076.9 53.4 L1077.5 52.9 L1078.1 52.3 L1078.7 51.8 L1079.3 51.4 L1079.9 50.9 L1080.5 50.4 L1081.1 50 L1081.8 49.6 L1082.4 49.2 L1083 48.8 L1083.6 48.4 L1084.2 48.1 L1084.8 47.7 L1085.4 47.4 L1086 47 L1086.7 46.7 L1087.3 46.4 L1087.9 46.1 L1088.5 45.8 L1089.1 45.5 L1089.7 45.3 L1090.3 45 L1090.9 44.8 L1091.5 44.5 L1092.2 44.3 L1092.8 44.1 L1093.4 43.8 L1094 43.6 L1094.6 43.4 L1098.6 42.3 L1102.5 41.3 L1106.5 40.6 L1110.5 40 L1114.4 39.5 L1118.4 39.1 L1122.3 38.8 L1126.3 38.6 L1130.3 38.4 L1134.2 38.2 L1138.2 38.1 L1142.2 38 L1146.1 37.9 L1150.1 37.9 L1154.1 37.6 M1016.2 37.6 L1016.3 50.5 L1016.5 67.8 L1016.6 86.4 L1016.7 105.1 L1016.9 123.7 L1017 141.7 L1017.1 159 L1017.3 175.4 L1017.4 191 L1017.5 205.8 L1017.7 219.6 L1017.8 232.5 L1017.9 244.5 L1018 255.7 L1018.2 266.1 L1018.3 275.7 L1018.4 284.5 L1018.6 292.6 L1018.7 300.1 L1018.8 306.8 L1019 313 L1019.1 318.6 L1019.2 323.7 L1019.4 328.3 L1019.5 332.4 L1019.6 336 L1019.8 339.2 L1019.9 342.1 L1020 344.5 L1020.2 346.7 L1020.3 348.5 L1020.4 350 L1020.6 351.2 L1020.7 352.2 L1020.8 353 L1021 353.5 L1021.1 353.8 L1021.2 353.9 L1021.4 353.9 L1021.5 353.7 L1021.6 353.3 L1021.7 352.8 L1021.9 352.2 L1022 351.4 L1022.1 350.5 L1022.3 349.6 L1022.4 348.5 L1022.5 347.3 L1022.7 346.1 L1022.8 344.8 L1022.9 343.5 L1023.1 342 L1023.2 340.5 L1023.3 339 L1023.5 337.4 L1023.6 335.8 L1023.7 334.2 L1023.9 332.5 L1024 330.7 L1024.1 329 L1024.3 327.2 L1024.4 325.4 L1024.5 323.6 L1024.7 321.8 L1024.8 320 L1024.9 318.1 L1025.1 316.2 L1025.2 314.4 L1025.3 312.5 L1025.4 310.6 L1025.6 308.7 L1025.7 306.8 L1025.8 304.9 L1026 303.1 L1026.1 301.2 L1026.2 299.3 L1026.4 297.4 L1026.5 295.5 L1026.6 293.6 L1026.8 291.8 L1026.9 289.9 L1027 288.1 L1027.2 286.2 L1027.3 284.4 L1027.4 282.5 L1027.6 280.7 L1027.7 278.9 L1027.8 277.1 L1028 275.3 L1028.6 267 L1029.2 259 L1029.8 251.3 L1030.4 243.8 L1031 236.5 L1031.6 229.5 L1032.2 222.7 L1032.9 216.1 L1033.5 209.7 L1034.1 203.6 L1034.7 197.7 L1035.3 192 L1035.9 186.5 L1036.5 181.2 L1037.1 176.1 L1037.7 171.2 L1038.4 166.4 L1039 161.8 L1039.6 157.4 L1040.2 153.1 L1040.8 149 L1041.4 145.1 L1042 141.2 L1042.6 137.5 L1043.2 134 L1043.9 130.5 L1044.5 127.2 L1045.1 124 L1045.7 121 L1046.3 118 L1046.9 115.1 L1047.5 112.4 L1048.1 109.7 L1048.7 107.1 L1049.4 104.7 L1050 102.3 L1050.6 100 L1051.2 97.7 L1051.8 95.6 L1052.4 93.5 L1053 91.5 L1053.6 89.6 L1054.2 87.8 L1054.9 86 L1055.5 84.3 L1056.1 82.6 L1056.7 81 L1057.3 79.4 L1057.9 78 L1058.5 76.5 L1059.1 75.1 L1059.8 73.8 L1060.4 72.5 L1061 71.3 L1061.6 70.1 L1062.2 68.9 L1062.8 67.8 L1063.4 66.7 L1064 65.7 L1064.6 64.7 L1065.3 63.7 L1065.9 62.8 L1066.5 61.9 L1067.1 61 L1067.7 60.2 L1068.3 59.4 L1068.9 58.6 L1069.5 57.9 L1070.1 57.1 L1070.8 56.4 L1071.4 55.8 L1072 55.1 L1072.6 54.5 L1073.2 53.9 L1073.8 53.3 L1074.4 52.8 L1075 52.2 L1075.6 51.7 L1076.3 51.2 L1076.9 50.7 L1077.5 50.2 L1078.1 49.8 L1078.7 49.4 L1079.3 48.9 L1079.9 48.5 L1080.5 48.1 L1081.1 47.8 L1081.8 47.4 L1082.4 47.1 L1083 46.7 L1083.6 46.4 L1084.2 46.1 L1084.8 45.8 L1085.4 45.5 L1086 45.2 L1086.7 44.9 L1087.3 44.7 L1087.9 44.4 L1088.5 44.2 L1089.1 43.9 L1089.7 43.7 L1090.3 43.5 L1090.9 43.3 L1091.5 43.1 L1092.2 42.9 L1092.8 42.7 L1093.4 42.5 L1094 42.3 L1094.6 42.2 L1098.6 41.2 L1102.5 40.5 L1106.5 39.9 L1110.5 39.4 L1114.4 39 L1118.4 38.7 L1122.3 38.5 L1126.3 38.3 L1130.3 38.2 L1134.2 38 L1138.2 37.9 L1142.2 37.9 L1146.1 37.6 M1016.2 37.6 L1016.3 50.7 L1016.5 68.2 L1016.6 87 L1016.7 105.9 L1016.9 124.6 L1017 142.7 L1017.1 160 L1017.3 176.5 L1017.4 192.1 L1017.5 206.7 L1017.7 220.5 L1017.8 233.3 L1017.9 245.2 L1018 256.2 L1018.2 266.4 L1018.3 275.8 L1018.4 284.4 L1018.6 292.3 L1018.7 299.6 L1018.8 306.1 L1019 312.1 L1019.1 317.5 L1019.2 322.3 L1019.4 326.6 L1019.5 330.5 L1019.6 333.9 L1019.8 336.8 L1019.9 339.4 L1020 341.7 L1020.2 343.6 L1020.3 345.1 L1020.4 346.4 L1020.6 347.5 L1020.7 348.2 L1020.8 348.7 L1021 349.1 L1021.1 349.2 L1021.2 349.1 L1021.4 348.8 L1021.5 348.4 L1021.6 347.9 L1021.7 347.2 L1021.9 346.4 L1022 345.5 L1022.1 344.4 L1022.3 343.3 L1022.4 342.1 L1022.5 340.8 L1022.7 339.4 L1022.8 338 L1022.9 336.5 L1023.1 334.9 L1023.2 333.3 L1023.3 331.6 L1023.5 329.9 L1023.6 328.2 L1023.7 326.4 L1023.9 324.6 L1024 322.8 L1024.1 321 L1024.3 319.1 L1024.4 317.2 L1024.5 315.3 L1024.7 313.4 L1024.8 311.5 L1024.9 309.5 L1025.1 307.6 L1025.2 305.6 L1025.3 303.7 L1025.4 301.7 L1025.6 299.8 L1025.7 297.8 L1025.8 295.9 L1026 293.9 L1026.1 292 L1026.2 290 L1026.4 288.1 L1026.5 286.2 L1026.6 284.2 L1026.8 282.3 L1026.9 280.4 L1027 278.5 L1027.2 276.6 L1027.3 274.7 L1027.4 272.8 L1027.6 271 L1027.7 269.1 L1027.8 267.3 L1028 265.4 L1028.6 257.1 L1029.2 249 L1029.8 241.2 L1030.4 233.6 L1031 226.3 L1031.6 219.2 L1032.2 212.4 L1032.9 205.8 L1033.5 199.5 L1034.1 193.4 L1034.7 187.6 L1035.3 181.9 L1035.9 176.5 L1036.5 171.3 L1037.1 166.3 L1037.7 161.4 L1038.4 156.8 L1039 152.3 L1039.6 148 L1040.2 143.8 L1040.8 139.8 L1041.4 136 L1042 132.3 L1042.6 128.7 L1043.2 125.3 L1043.9 122 L1044.5 118.8 L1045.1 115.8 L1045.7 112.8 L1046.3 110 L1046.9 107.3 L1047.5 104.6 L1048.1 102.1 L1048.7 99.7 L1049.4 97.4 L1050 95.1 L1050.6 92.9 L1051.2 90.9 L1051.8 88.9 L1052.4 86.9 L1053 85.1 L1053.6 83.3 L1054.2 81.6 L1054.9 79.9 L1055.5 78.3 L1056.1 76.8 L1056.7 75.3 L1057.3 73.9 L1057.9 72.5 L1058.5 71.2 L1059.1 70 L1059.8 68.7 L1060.4 67.6 L1061 66.4 L1061.6 65.3 L1062.2 64.3 L1062.8 63.3 L1063.4 62.3 L1064 61.4 L1064.6 60.5 L1065.3 59.6 L1065.9 58.8 L1066.5 58 L1067.1 57.2 L1067.7 56.5 L1068.3 55.8 L1068.9 55.1 L1069.5 54.5 L1070.1 53.8 L1070.8 53.2 L1071.4 52.6 L1072 52.1 L1072.6 51.5 L1073.2 51 L1073.8 50.5 L1074.4 50 L1075 49.5 L1075.6 49.1 L1076.3 48.7 L1076.9 48.2 L1077.5 47.8 L1078.1 47.5 L1078.7 47.1 L1079.3 46.7 L1079.9 46.4 L1080.5 46.1 L1081.1 45.7 L1081.8 45.4 L1082.4 45.1 L1083 44.8 L1083.6 44.6 L1084.2 44.3 L1084.8 44.1 L1085.4 43.8 L1086 43.6 L1086.7 43.4 L1087.3 43.1 L1087.9 42.9 L1088.5 42.7 L1089.1 42.5 L1089.7 42.4 L1090.3 42.2 L1090.9 42 L1091.5 41.8 L1092.2 41.7 L1092.8 41.5 L1093.4 41.4 L1094 41.2 L1094.6 41.1 L1098.6 40.3 L1102.5 39.7 L1106.5 39.3 L1110.5 38.9 L1114.4 38.6 L1118.4 38.4 L1122.3 38.2 L1126.3 38.1 L1130.3 38 L1134.2 37.9 L1138.2 37.6 M1016.2 37.6 L1016.3 50.8 L1016.5 68.6 L1016.6 87.5 L1016.7 106.6 L1016.9 125.3 L1017 143.4 L1017.1 160.8 L1017.3 177.2 L1017.4 192.7 L1017.5 207.3 L1017.7 220.9 L1017.8 233.6 L1017.9 245.3 L1018 256.1 L1018.2 266.1 L1018.3 275.3 L1018.4 283.7 L1018.6 291.4 L1018.7 298.3 L1018.8 304.6 L1019 310.3 L1019.1 315.5 L1019.2 320 L1019.4 324.1 L1019.5 327.7 L1019.6 330.8 L1019.8 333.5 L1019.9 335.9 L1020 337.9 L1020.2 339.5 L1020.3 340.9 L1020.4 341.9 L1020.6 342.7 L1020.7 343.2 L1020.8 343.5 L1021 343.6 L1021.1 343.5 L1021.2 343.2 L1021.4 342.8 L1021.5 342.2 L1021.6 341.4 L1021.7 340.6 L1021.9 339.6 L1022 338.5 L1022.1 337.3 L1022.3 336 L1022.4 334.6 L1022.5 333.2 L1022.7 331.6 L1022.8 330.1 L1022.9 328.4 L1023.1 326.7 L1023.2 325 L1023.3 323.2 L1023.5 321.4 L1023.6 319.5 L1023.7 317.7 L1023.9 315.8 L1024 313.8 L1024.1 311.9 L1024.3 309.9 L1024.4 307.9 L1024.5 305.9 L1024.7 303.9 L1024.8 301.9 L1024.9 299.9 L1025.1 297.9 L1025.2 295.9 L1025.3 293.9 L1025.4 291.9 L1025.6 289.8 L1025.7 287.8 L1025.8 285.8 L1026 283.8 L1026.1 281.8 L1026.2 279.8 L1026.4 277.8 L1026.5 275.8 L1026.6 273.9 L1026.8 271.9 L1026.9 269.9 L1027 268 L1027.2 266.1 L1027.3 264.1 L1027.4 262.2 L1027.6 260.3 L1027.7 258.5 L1027.8 256.6 L1028 254.7 L1028.6 246.3 L1029.2 238.1 L1029.8 230.2 L1030.4 222.6 L1031 215.3 L1031.6 208.2 L1032.2 201.4 L1032.9 194.9 L1033.5 188.7 L1034.1 182.6 L1034.7 176.9 L1035.3 171.3 L1035.9 166 L1036.5 160.9 L1037.1 156 L1037.7 151.2 L1038.4 146.7 L1039 142.4 L1039.6 138.2 L1040.2 134.2 L1040.8 130.3 L1041.4 126.6 L1042 123.1 L1042.6 119.7 L1043.2 116.4 L1043.9 113.3 L1044.5 110.2 L1045.1 107.3 L1045.7 104.6 L1046.3 101.9 L1046.9 99.3 L1047.5 96.9 L1048.1 94.5 L1048.7 92.2 L1049.4 90.1 L1050 88 L1050.6 86 L1051.2 84 L1051.8 82.2 L1052.4 80.4 L1053 78.7 L1053.6 77.1 L1054.2 75.5 L1054.9 74 L1055.5 72.5 L1056.1 71.1 L1056.7 69.8 L1057.3 68.5 L1057.9 67.3 L1058.5 66.1 L1059.1 65 L1059.8 63.9 L1060.4 62.8 L1061 61.8 L1061.6 60.9 L1062.2 59.9 L1062.8 59 L1063.4 58.2 L1064 57.4 L1064.6 56.6 L1065.3 55.8 L1065.9 55.1 L1066.5 54.4 L1067.1 53.7 L1067.7 53.1 L1068.3 52.5 L1068.9 51.9 L1069.5 51.3 L1070.1 50.8 L1070.8 50.2 L1071.4 49.7 L1072 49.2 L1072.6 48.8 L1073.2 48.3 L1073.8 47.9 L1074.4 47.5 L1075 47.1 L1075.6 46.7 L1076.3 46.4 L1076.9 46 L1077.5 45.7 L1078.1 45.4 L1078.7 45 L1079.3 44.7 L1079.9 44.5 L1080.5 44.2 L1081.1 43.9 L1081.8 43.7 L1082.4 43.4 L1083 43.2 L1083.6 43 L1084.2 42.8 L1084.8 42.6 L1085.4 42.4 L1086 42.2 L1086.7 42 L1087.3 41.8 L1087.9 41.6 L1088.5 41.5 L1089.1 41.3 L1089.7 41.2 L1090.3 41 L1090.9 40.9 L1091.5 40.8 L1092.2 40.6 L1092.8 40.5 L1093.4 40.4 L1094 40.3 L1094.6 40.2 L1098.6 39.6 L1102.5 39.1 L1106.5 38.8 L1110.5 38.5 L1114.4 38.3 L1118.4 38.1 L1122.3 38 L1126.3 37.9 L1130.3 37.6 M1016.2 37.6 L1016.3 51 L1016.5 68.8 L1016.6 87.9 L1016.7 107 L1016.9 125.8 L1017 143.9 L1017.1 161.2 L1017.3 177.6 L1017.4 193 L1017.5 207.4 L1017.7 220.9 L1017.8 233.3 L1017.9 244.9 L1018 255.5 L1018.2 265.2 L1018.3 274.2 L1018.4 282.3 L1018.6 289.7 L1018.7 296.4 L1018.8 302.4 L1019 307.8 L1019.1 312.7 L1019.2 317 L1019.4 320.7 L1019.5 324.1 L1019.6 326.9 L1019.8 329.4 L1019.9 331.4 L1020 333.2 L1020.2 334.6 L1020.3 335.6 L1020.4 336.4 L1020.6 337 L1020.7 337.3 L1020.8 337.4 L1021 337.2 L1021.1 336.9 L1021.2 336.4 L1021.4 335.8 L1021.5 335 L1021.6 334 L1021.7 333 L1021.9 331.8 L1022 330.5 L1022.1 329.2 L1022.3 327.7 L1022.4 326.2 L1022.5 324.6 L1022.7 322.9 L1022.8 321.2 L1022.9 319.4 L1023.1 317.6 L1023.2 315.7 L1023.3 313.8 L1023.5 311.9 L1023.6 309.9 L1023.7 307.9 L1023.9 305.9 L1024 303.9 L1024.1 301.8 L1024.3 299.8 L1024.4 297.7 L1024.5 295.6 L1024.7 293.6 L1024.8 291.5 L1024.9 289.4 L1025.1 287.3 L1025.2 285.2 L1025.3 283.1 L1025.4 281 L1025.6 279 L1025.7 276.9 L1025.8 274.8 L1026 272.8 L1026.1 270.7 L1026.2 268.7 L1026.4 266.6 L1026.5 264.6 L1026.6 262.6 L1026.8 260.6 L1026.9 258.6 L1027 256.6 L1027.2 254.7 L1027.3 252.7 L1027.4 250.8 L1027.6 248.8 L1027.7 246.9 L1027.8 245 L1028 243.1 L1028.6 234.6 L1029.2 226.4 L1029.8 218.5 L1030.4 210.9 L1031 203.6 L1031.6 196.5 L1032.2 189.8 L1032.9 183.4 L1033.5 177.2 L1034.1 171.3 L1034.7 165.6 L1035.3 160.2 L1035.9 155 L1036.5 150 L1037.1 145.3 L1037.7 140.7 L1038.4 136.3 L1039 132.2 L1039.6 128.2 L1040.2 124.3 L1040.8 120.6 L1041.4 117.1 L1042 113.7 L1042.6 110.5 L1043.2 107.4 L1043.9 104.5 L1044.5 101.6 L1045.1 98.9 L1045.7 96.3 L1046.3 93.8 L1046.9 91.4 L1047.5 89.2 L1048.1 87 L1048.7 84.9 L1049.4 82.9 L1050 81 L1050.6 79.1 L1051.2 77.4 L1051.8 75.7 L1052.4 74.1 L1053 72.5 L1053.6 71 L1054.2 69.6 L1054.9 68.3 L1055.5 67 L1056.1 65.7 L1056.7 64.5 L1057.3 63.4 L1057.9 62.3 L1058.5 61.2 L1059.1 60.2 L1059.8 59.3 L1060.4 58.4 L1061 57.5 L1061.6 56.6 L1062.2 55.8 L1062.8 55.1 L1063.4 54.3 L1064 53.6 L1064.6 52.9 L1065.3 52.3 L1065.9 51.7 L1066.5 51.1 L1067.1 50.5 L1067.7 49.9 L1068.3 49.4 L1068.9 48.9 L1069.5 48.4 L1070.1 48 L1070.8 47.5 L1071.4 47.1 L1072 46.7 L1072.6 46.3 L1073.2 46 L1073.8 45.6 L1074.4 45.3 L1075 44.9 L1075.6 44.6 L1076.3 44.3 L1076.9 44 L1077.5 43.8 L1078.1 43.5 L1078.7 43.3 L1079.3 43 L1079.9 42.8 L1080.5 42.6 L1081.1 42.4 L1081.8 42.2 L1082.4 42 L1083 41.8 L1083.6 41.6 L1084.2 41.4 L1084.8 41.3 L1085.4 41.1 L1086 41 L1086.7 40.8 L1087.3 40.7 L1087.9 40.6 L1088.5 40.4 L1089.1 40.3 L1089.7 40.2 L1090.3 40.1 L1090.9 40 L1091.5 39.9 L1092.2 39.8 L1092.8 39.7 L1093.4 39.6 L1094 39.5 L1094.6 39.4 L1098.6 39 L1102.5 38.6 L1106.5 38.4 L1110.5 38.2 L1114.4 38.1 L1118.4 37.9 L1122.3 37.9 L1126.3 37.6 M1016.2 37.6 L1016.3 51.1 L1016.5 69.1 L1016.6 88.2 L1016.7 107.3 L1016.9 126.1 L1017 144.2 L1017.1 161.4 L1017.3 177.7 L1017.4 192.9 L1017.5 207.2 L1017.7 220.4 L1017.8 232.6 L1017.9 243.9 L1018 254.3 L1018.2 263.8 L1018.3 272.4 L1018.4 280.3 L1018.6 287.4 L1018.7 293.8 L1018.8 299.5 L1019 304.6 L1019.1 309.1 L1019.2 313.1 L1019.4 316.6 L1019.5 319.6 L1019.6 322.2 L1019.8 324.4 L1019.9 326.2 L1020 327.6 L1020.2 328.7 L1020.3 329.5 L1020.4 330.1 L1020.6 330.4 L1020.7 330.4 L1020.8 330.3 L1021 329.9 L1021.1 329.4 L1021.2 328.7 L1021.4 327.8 L1021.5 326.8 L1021.6 325.7 L1021.7 324.4 L1021.9 323.1 L1022 321.6 L1022.1 320.1 L1022.3 318.5 L1022.4 316.8 L1022.5 315 L1022.7 313.2 L1022.8 311.3 L1022.9 309.4 L1023.1 307.5 L1023.2 305.5 L1023.3 303.4 L1023.5 301.4 L1023.6 299.3 L1023.7 297.2 L1023.9 295.1 L1024 293 L1024.1 290.8 L1024.3 288.7 L1024.4 286.5 L1024.5 284.4 L1024.7 282.2 L1024.8 280.1 L1024.9 277.9 L1025.1 275.8 L1025.2 273.6 L1025.3 271.5 L1025.4 269.3 L1025.6 267.2 L1025.7 265 L1025.8 262.9 L1026 260.8 L1026.1 258.7 L1026.2 256.6 L1026.4 254.6 L1026.5 252.5 L1026.6 250.5 L1026.8 248.4 L1026.9 246.4 L1027 244.4 L1027.2 242.4 L1027.3 240.4 L1027.4 238.5 L1027.6 236.5 L1027.7 234.6 L1027.8 232.7 L1028 230.8 L1028.6 222.2 L1029.2 213.9 L1029.8 206 L1030.4 198.5 L1031 191.2 L1031.6 184.3 L1032.2 177.7 L1032.9 171.3 L1033.5 165.3 L1034.1 159.5 L1034.7 154 L1035.3 148.7 L1035.9 143.7 L1036.5 138.9 L1037.1 134.3 L1037.7 129.9 L1038.4 125.8 L1039 121.8 L1039.6 118 L1040.2 114.3 L1040.8 110.9 L1041.4 107.5 L1042 104.4 L1042.6 101.4 L1043.2 98.5 L1043.9 95.7 L1044.5 93.1 L1045.1 90.6 L1045.7 88.2 L1046.3 85.9 L1046.9 83.7 L1047.5 81.6 L1048.1 79.6 L1048.7 77.7 L1049.4 75.9 L1050 74.2 L1050.6 72.5 L1051.2 70.9 L1051.8 69.4 L1052.4 68 L1053 66.6 L1053.6 65.3 L1054.2 64 L1054.9 62.8 L1055.5 61.7 L1056.1 60.6 L1056.7 59.6 L1057.3 58.6 L1057.9 57.6 L1058.5 56.7 L1059.1 55.9 L1059.8 55 L1060.4 54.2 L1061 53.5 L1061.6 52.8 L1062.2 52.1 L1062.8 51.4 L1063.4 50.8 L1064 50.2 L1064.6 49.6 L1065.3 49.1 L1065.9 48.6 L1066.5 48.1 L1067.1 47.6 L1067.7 47.1 L1068.3 46.7 L1068.9 46.3 L1069.5 45.9 L1070.1 45.5 L1070.8 45.2 L1071.4 44.8 L1072 44.5 L1072.6 44.2 L1073.2 43.9 L1073.8 43.6 L1074.4 43.3 L1075 43.1 L1075.6 42.8 L1076.3 42.6 L1076.9 42.4 L1077.5 42.1 L1078.1 41.9 L1078.7 41.7 L1079.3 41.6 L1079.9 41.4 L1080.5 41.2 L1081.1 41 L1081.8 40.9 L1082.4 40.7 L1083 40.6 L1083.6 40.5 L1084.2 40.3 L1084.8 40.2 L1085.4 40.1 L1086 40 L1086.7 39.9 L1087.3 39.8 L1087.9 39.7 L1088.5 39.6 L1089.1 39.5 L1089.7 39.4 L1090.3 39.3 L1090.9 39.2 L1091.5 39.2 L1092.2 39.1 L1092.8 39 L1093.4 39 L1094 38.9 L1094.6 38.8 L1098.6 38.5 L1102.5 38.3 L1106.5 38.1 L1110.5 38 L1114.4 37.9 L1118.4 37.6 M1016.2 37.6 L1016.3 51.1 L1016.5 69.2 L1016.6 88.3 L1016.7 107.5 L1016.9 126.2 L1017 144.2 L1017.1 161.3 L1017.3 177.4 L1017.4 192.4 L1017.5 206.5 L1017.7 219.5 L1017.8 231.4 L1017.9 242.4 L1018 252.5 L1018.2 261.7 L1018.3 270 L1018.4 277.6 L1018.6 284.4 L1018.7 290.4 L1018.8 295.8 L1019 300.6 L1019.1 304.8 L1019.2 308.5 L1019.4 311.7 L1019.5 314.4 L1019.6 316.7 L1019.8 318.5 L1019.9 320 L1020 321.2 L1020.2 322 L1020.3 322.6 L1020.4 322.9 L1020.6 322.9 L1020.7 322.7 L1020.8 322.3 L1021 321.7 L1021.1 320.9 L1021.2 320 L1021.4 318.9 L1021.5 317.7 L1021.6 316.4 L1021.7 314.9 L1021.9 313.4 L1022 311.8 L1022.1 310.1 L1022.3 308.3 L1022.4 306.4 L1022.5 304.5 L1022.7 302.6 L1022.8 300.5 L1022.9 298.5 L1023.1 296.4 L1023.2 294.3 L1023.3 292.2 L1023.5 290 L1023.6 287.8 L1023.7 285.6 L1023.9 283.4 L1024 281.2 L1024.1 278.9 L1024.3 276.7 L1024.4 274.5 L1024.5 272.2 L1024.7 270 L1024.8 267.8 L1024.9 265.5 L1025.1 263.3 L1025.2 261.1 L1025.3 258.9 L1025.4 256.7 L1025.6 254.5 L1025.7 252.4 L1025.8 250.2 L1026 248 L1026.1 245.9 L1026.2 243.8 L1026.4 241.7 L1026.5 239.6 L1026.6 237.5 L1026.8 235.4 L1026.9 233.4 L1027 231.4 L1027.2 229.4 L1027.3 227.4 L1027.4 225.4 L1027.6 223.4 L1027.7 221.5 L1027.8 219.6 L1028 217.7 L1028.6 209.1 L1029.2 200.8 L1029.8 193 L1030.4 185.5 L1031 178.3 L1031.6 171.5 L1032.2 165 L1032.9 158.8 L1033.5 153 L1034.1 147.4 L1034.7 142 L1035.3 137 L1035.9 132.2 L1036.5 127.6 L1037.1 123.2 L1037.7 119 L1038.4 115.1 L1039 111.3 L1039.6 107.7 L1040.2 104.3 L1040.8 101.1 L1041.4 98 L1042 95.1 L1042.6 92.3 L1043.2 89.6 L1043.9 87.1 L1044.5 84.7 L1045.1 82.4 L1045.7 80.2 L1046.3 78.2 L1046.9 76.2 L1047.5 74.3 L1048.1 72.5 L1048.7 70.8 L1049.4 69.2 L1050 67.7 L1050.6 66.2 L1051.2 64.8 L1051.8 63.5 L1052.4 62.3 L1053 61.1 L1053.6 59.9 L1054.2 58.8 L1054.9 57.8 L1055.5 56.8 L1056.1 55.9 L1056.7 55 L1057.3 54.2 L1057.9 53.4 L1058.5 52.6 L1059.1 51.9 L1059.8 51.2 L1060.4 50.5 L1061 49.9 L1061.6 49.3 L1062.2 48.7 L1062.8 48.2 L1063.4 47.7 L1064 47.2 L1064.6 46.7 L1065.3 46.3 L1065.9 45.8 L1066.5 45.4 L1067.1 45.1 L1067.7 44.7 L1068.3 44.4 L1068.9 44 L1069.5 43.7 L1070.1 43.4 L1070.8 43.1 L1071.4 42.9 L1072 42.6 L1072.6 42.4 L1073.2 42.1 L1073.8 41.9 L1074.4 41.7 L1075 41.5 L1075.6 41.3 L1076.3 41.1 L1076.9 41 L1077.5 40.8 L1078.1 40.6 L1078.7 40.5 L1079.3 40.4 L1079.9 40.2 L1080.5 40.1 L1081.1 40 L1081.8 39.9 L1082.4 39.8 L1083 39.6 L1083.6 39.5 L1084.2 39.5 L1084.8 39.4 L1085.4 39.3 L1086 39.2 L1086.7 39.1 L1087.3 39 L1087.9 39 L1088.5 38.9 L1089.1 38.8 L1089.7 38.8 L1090.3 38.7 L1090.9 38.7 L1091.5 38.6 L1092.2 38.6 L1092.8 38.5 L1093.4 38.5 L1094 38.4 L1094.6 38.4 L1098.6 38.2 L1102.5 38 L1106.5 37.9 L1110.5 37.6 M1016.2 37.6 L1016.3 51.2 L1016.5 69.3 L1016.6 88.4 L1016.7 107.5 L1016.9 126.1 L1017 143.9 L1017.1 160.9 L1017.3 176.7 L1017.4 191.6 L1017.5 205.3 L1017.7 218.1 L1017.8 229.7 L1017.9 240.4 L1018 250.2 L1018.2 259 L1018.3 267 L1018.4 274.2 L1018.6 280.7 L1018.7 286.4 L1018.8 291.5 L1019 295.9 L1019.1 299.8 L1019.2 303.2 L1019.4 306 L1019.5 308.4 L1019.6 310.3 L1019.8 311.9 L1019.9 313.1 L1020 313.9 L1020.2 314.5 L1020.3 314.8 L1020.4 314.8 L1020.6 314.5 L1020.7 314.1 L1020.8 313.4 L1021 312.6 L1021.1 311.6 L1021.2 310.4 L1021.4 309.1 L1021.5 307.7 L1021.6 306.2 L1021.7 304.5 L1021.9 302.8 L1022 301 L1022.1 299.1 L1022.3 297.2 L1022.4 295.2 L1022.5 293.1 L1022.7 291 L1022.8 288.8 L1022.9 286.7 L1023.1 284.4 L1023.2 282.2 L1023.3 279.9 L1023.5 277.7 L1023.6 275.4 L1023.7 273.1 L1023.9 270.8 L1024 268.5 L1024.1 266.1 L1024.3 263.8 L1024.4 261.5 L1024.5 259.2 L1024.7 256.9 L1024.8 254.6 L1024.9 252.3 L1025.1 250 L1025.2 247.8 L1025.3 245.5 L1025.4 243.3 L1025.6 241 L1025.7 238.8 L1025.8 236.6 L1026 234.4 L1026.1 232.3 L1026.2 230.1 L1026.4 228 L1026.5 225.8 L1026.6 223.8 L1026.8 221.7 L1026.9 219.6 L1027 217.6 L1027.2 215.5 L1027.3 213.5 L1027.4 211.6 L1027.6 209.6 L1027.7 207.6 L1027.8 205.7 L1028 203.8 L1028.6 195.2 L1029.2 187.1 L1029.8 179.3 L1030.4 171.9 L1031 164.9 L1031.6 158.3 L1032.2 152 L1032.9 146 L1033.5 140.3 L1034.1 134.9 L1034.7 129.8 L1035.3 125 L1035.9 120.4 L1036.5 116.1 L1037.1 112 L1037.7 108.1 L1038.4 104.4 L1039 100.9 L1039.6 97.6 L1040.2 94.5 L1040.8 91.5 L1041.4 88.7 L1042 86 L1042.6 83.5 L1043.2 81.1 L1043.9 78.8 L1044.5 76.6 L1045.1 74.6 L1045.7 72.6 L1046.3 70.8 L1046.9 69.1 L1047.5 67.4 L1048.1 65.9 L1048.7 64.4 L1049.4 63 L1050 61.6 L1050.6 60.4 L1051.2 59.2 L1051.8 58.1 L1052.4 57 L1053 56 L1053.6 55 L1054.2 54.1 L1054.9 53.2 L1055.5 52.4 L1056.1 51.6 L1056.7 50.9 L1057.3 50.2 L1057.9 49.6 L1058.5 48.9 L1059.1 48.3 L1059.8 47.8 L1060.4 47.2 L1061 46.7 L1061.6 46.3 L1062.2 45.8 L1062.8 45.4 L1063.4 45 L1064 44.6 L1064.6 44.2 L1065.3 43.9 L1065.9 43.5 L1066.5 43.2 L1067.1 42.9 L1067.7 42.7 L1068.3 42.4 L1068.9 42.1 L1069.5 41.9 L1070.1 41.7 L1070.8 41.5 L1071.4 41.3 L1072 41.1 L1072.6 40.9 L1073.2 40.7 L1073.8 40.6 L1074.4 40.4 L1075 40.3 L1075.6 40.1 L1076.3 40 L1076.9 39.9 L1077.5 39.7 L1078.1 39.6 L1078.7 39.5 L1079.3 39.4 L1079.9 39.3 L1080.5 39.2 L1081.1 39.1 L1081.8 39.1 L1082.4 39 L1083 38.9 L1083.6 38.8 L1084.2 38.8 L1084.8 38.7 L1085.4 38.7 L1086 38.6 L1086.7 38.6 L1087.3 38.5 L1087.9 38.5 L1088.5 38.4 L1089.1 38.4 L1089.7 38.3 L1090.3 38.3 L1090.9 38.3 L1091.5 38.2 L1092.2 38.2 L1092.8 38.2 L1093.4 38.1 L1094 38.1 L1094.6 38.1 L1098.6 37.9 L1102.5 37.6 M1016.2 37.6 L1016.3 51.2 L1016.5 69.2 L1016.6 88.3 L1016.7 107.3 L1016.9 125.7 L1017 143.4 L1017.1 160.1 L1017.3 175.7 L1017.4 190.3 L1017.5 203.7 L1017.7 216.1 L1017.8 227.5 L1017.9 237.9 L1018 247.3 L1018.2 255.8 L1018.3 263.4 L1018.4 270.2 L1018.6 276.3 L1018.7 281.7 L1018.8 286.4 L1019 290.5 L1019.1 294 L1019.2 297 L1019.4 299.5 L1019.5 301.5 L1019.6 303.2 L1019.8 304.4 L1019.9 305.3 L1020 305.8 L1020.2 306.1 L1020.3 306.1 L1020.4 305.8 L1020.6 305.3 L1020.7 304.6 L1020.8 303.6 L1021 302.6 L1021.1 301.3 L1021.2 299.9 L1021.4 298.4 L1021.5 296.8 L1021.6 295 L1021.7 293.2 L1021.9 291.3 L1022 289.3 L1022.1 287.2 L1022.3 285.1 L1022.4 282.9 L1022.5 280.7 L1022.7 278.5 L1022.8 276.2 L1022.9 273.9 L1023.1 271.5 L1023.2 269.2 L1023.3 266.8 L1023.5 264.4 L1023.6 262 L1023.7 259.6 L1023.9 257.2 L1024 254.8 L1024.1 252.4 L1024.3 250 L1024.4 247.6 L1024.5 245.2 L1024.7 242.9 L1024.8 240.5 L1024.9 238.2 L1025.1 235.8 L1025.2 233.5 L1025.3 231.2 L1025.4 228.9 L1025.6 226.7 L1025.7 224.4 L1025.8 222.2 L1026 220 L1026.1 217.8 L1026.2 215.6 L1026.4 213.4 L1026.5 211.3 L1026.6 209.2 L1026.8 207.1 L1026.9 205 L1027 203 L1027.2 201 L1027.3 199 L1027.4 197 L1027.6 195 L1027.7 193.1 L1027.8 191.2 L1028 189.3 L1028.6 180.8 L1029.2 172.7 L1029.8 165.1 L1030.4 157.9 L1031 151.1 L1031.6 144.6 L1032.2 138.6 L1032.9 132.8 L1033.5 127.4 L1034.1 122.3 L1034.7 117.5 L1035.3 113 L1035.9 108.7 L1036.5 104.7 L1037.1 100.9 L1037.7 97.3 L1038.4 93.9 L1039 90.7 L1039.6 87.7 L1040.2 84.8 L1040.8 82.1 L1041.4 79.6 L1042 77.2 L1042.6 75 L1043.2 72.8 L1043.9 70.8 L1044.5 69 L1045.1 67.2 L1045.7 65.5 L1046.3 63.9 L1046.9 62.4 L1047.5 61 L1048.1 59.7 L1048.7 58.4 L1049.4 57.2 L1050 56.1 L1050.6 55.1 L1051.2 54.1 L1051.8 53.1 L1052.4 52.3 L1053 51.4 L1053.6 50.6 L1054.2 49.9 L1054.9 49.2 L1055.5 48.5 L1056.1 47.9 L1056.7 47.3 L1057.3 46.8 L1057.9 46.3 L1058.5 45.8 L1059.1 45.3 L1059.8 44.9 L1060.4 44.5 L1061 44.1 L1061.6 43.7 L1062.2 43.4 L1062.8 43 L1063.4 42.7 L1064 42.4 L1064.6 42.2 L1065.3 41.9 L1065.9 41.6 L1066.5 41.4 L1067.1 41.2 L1067.7 41 L1068.3 40.8 L1068.9 40.6 L1069.5 40.5 L1070.1 40.3 L1070.8 40.1 L1071.4 40 L1072 39.9 L1072.6 39.7 L1073.2 39.6 L1073.8 39.5 L1074.4 39.4 L1075 39.3 L1075.6 39.2 L1076.3 39.1 L1076.9 39 L1077.5 38.9 L1078.1 38.9 L1078.7 38.8 L1079.3 38.7 L1079.9 38.7 L1080.5 38.6 L1081.1 38.5 L1081.8 38.5 L1082.4 38.4 L1083 38.4 L1083.6 38.3 L1084.2 38.3 L1084.8 38.3 L1085.4 38.2 L1086 38.2 L1086.7 38.2 L1087.3 38.1 L1087.9 38.1 L1088.5 38.1 L1089.1 38 L1089.7 38 L1090.3 38 L1090.9 38 L1091.5 37.9 L1092.2 37.9 L1092.8 37.9 L1093.4 37.9 L1094 37.9 L1094.6 37.9 L1098.6 37.6 M1016.2 37.6 L1016.3 51.2 L1016.5 69.1 L1016.6 88 L1016.7 106.9 L1016.9 125.1 L1017 142.5 L1017.1 159 L1017.3 174.3 L1017.4 188.6 L1017.5 201.7 L1017.7 213.7 L1017.8 224.7 L1017.9 234.7 L1018 243.7 L1018.2 251.9 L1018.3 259.1 L1018.4 265.6 L1018.6 271.2 L1018.7 276.2 L1018.8 280.6 L1019 284.3 L1019.1 287.4 L1019.2 290 L1019.4 292.2 L1019.5 293.9 L1019.6 295.2 L1019.8 296.1 L1019.9 296.6 L1020 296.8 L1020.2 296.8 L1020.3 296.5 L1020.4 295.9 L1020.6 295.1 L1020.7 294.1 L1020.8 293 L1021 291.6 L1021.1 290.1 L1021.2 288.5 L1021.4 286.8 L1021.5 284.9 L1021.6 283 L1021.7 280.9 L1021.9 278.8 L1022 276.6 L1022.1 274.4 L1022.3 272.1 L1022.4 269.8 L1022.5 267.4 L1022.7 265 L1022.8 262.6 L1022.9 260.1 L1023.1 257.7 L1023.2 255.2 L1023.3 252.7 L1023.5 250.2 L1023.6 247.7 L1023.7 245.2 L1023.9 242.7 L1024 240.2 L1024.1 237.7 L1024.3 235.3 L1024.4 232.8 L1024.5 230.4 L1024.7 227.9 L1024.8 225.5 L1024.9 223.1 L1025.1 220.8 L1025.2 218.4 L1025.3 216.1 L1025.4 213.7 L1025.6 211.4 L1025.7 209.2 L1025.8 206.9 L1026 204.7 L1026.1 202.5 L1026.2 200.3 L1026.4 198.1 L1026.5 196 L1026.6 193.9 L1026.8 191.8 L1026.9 189.7 L1027 187.7 L1027.2 185.7 L1027.3 183.7 L1027.4 181.7 L1027.6 179.8 L1027.7 177.8 L1027.8 175.9 L1028 174.1 L1028.6 165.7 L1029.2 157.8 L1029.8 150.4 L1030.4 143.4 L1031 136.9 L1031.6 130.7 L1032.2 125 L1032.9 119.5 L1033.5 114.5 L1034.1 109.7 L1034.7 105.2 L1035.3 101 L1035.9 97.1 L1036.5 93.4 L1037.1 89.9 L1037.7 86.7 L1038.4 83.6 L1039 80.8 L1039.6 78.1 L1040.2 75.6 L1040.8 73.2 L1041.4 71 L1042 68.9 L1042.6 67 L1043.2 65.2 L1043.9 63.5 L1044.5 61.8 L1045.1 60.3 L1045.7 58.9 L1046.3 57.6 L1046.9 56.4 L1047.5 55.2 L1048.1 54.1 L1048.7 53.1 L1049.4 52.1 L1050 51.2 L1050.6 50.4 L1051.2 49.6 L1051.8 48.8 L1052.4 48.1 L1053 47.5 L1053.6 46.9 L1054.2 46.3 L1054.9 45.8 L1055.5 45.2 L1056.1 44.8 L1056.7 44.3 L1057.3 43.9 L1057.9 43.5 L1058.5 43.2 L1059.1 42.8 L1059.8 42.5 L1060.4 42.2 L1061 41.9 L1061.6 41.6 L1062.2 41.4 L1062.8 41.1 L1063.4 40.9 L1064 40.7 L1064.6 40.5 L1065.3 40.3 L1065.9 40.2 L1066.5 40 L1067.1 39.9 L1067.7 39.7 L1068.3 39.6 L1068.9 39.5 L1069.5 39.4 L1070.1 39.2 L1070.8 39.1 L1071.4 39 L1072 39 L1072.6 38.9 L1073.2 38.8 L1073.8 38.7 L1074.4 38.6 L1075 38.6 L1075.6 38.5 L1076.3 38.5 L1076.9 38.4 L1077.5 38.4 L1078.1 38.3 L1078.7 38.3 L1079.3 38.2 L1079.9 38.2 L1080.5 38.2 L1081.1 38.1 L1081.8 38.1 L1082.4 38.1 L1083 38 L1083.6 38 L1084.2 38 L1084.8 38 L1085.4 37.9 L1086 37.9 L1086.7 37.9 L1087.3 37.9 L1087.9 37.9 L1088.5 37.6 M1016.2 37.6 L1016.3 51.1 L1016.5 68.9 L1016.6 87.6 L1016.7 106.2 L1016.9 124.2 L1017 141.4 L1017.1 157.5 L1017.3 172.5 L1017.4 186.4 L1017.5 199.1 L1017.7 210.8 L1017.8 221.4 L1017.9 231 L1018 239.6 L1018.2 247.3 L1018.3 254.2 L1018.4 260.2 L1018.6 265.5 L1018.7 270.1 L1018.8 274 L1019 277.3 L1019.1 280.1 L1019.2 282.3 L1019.4 284.1 L1019.5 285.4 L1019.6 286.3 L1019.8 286.9 L1019.9 287.1 L1020 287 L1020.2 286.6 L1020.3 286 L1020.4 285.1 L1020.6 284.1 L1020.7 282.8 L1020.8 281.3 L1021 279.7 L1021.1 278 L1021.2 276.1 L1021.4 274.2 L1021.5 272.1 L1021.6 269.9 L1021.7 267.7 L1021.9 265.4 L1022 263 L1022.1 260.6 L1022.3 258.1 L1022.4 255.6 L1022.5 253.1 L1022.7 250.6 L1022.8 248 L1022.9 245.4 L1023.1 242.8 L1023.2 240.2 L1023.3 237.6 L1023.5 235 L1023.6 232.4 L1023.7 229.9 L1023.9 227.3 L1024 224.7 L1024.1 222.2 L1024.3 219.6 L1024.4 217.1 L1024.5 214.6 L1024.7 212.1 L1024.8 209.7 L1024.9 207.2 L1025.1 204.8 L1025.2 202.4 L1025.3 200.1 L1025.4 197.7 L1025.6 195.4 L1025.7 193.1 L1025.8 190.8 L1026 188.6 L1026.1 186.4 L1026.2 184.2 L1026.4 182.1 L1026.5 179.9 L1026.6 177.8 L1026.8 175.7 L1026.9 173.7 L1027 171.7 L1027.2 169.7 L1027.3 167.7 L1027.4 165.8 L1027.6 163.9 L1027.7 162 L1027.8 160.1 L1028 158.3 L1028.6 150.1 L1029.2 142.5 L1029.8 135.3 L1030.4 128.7 L1031 122.5 L1031.6 116.7 L1032.2 111.3 L1032.9 106.2 L1033.5 101.5 L1034.1 97.2 L1034.7 93.1 L1035.3 89.3 L1035.9 85.8 L1036.5 82.5 L1037.1 79.4 L1037.7 76.5 L1038.4 73.9 L1039 71.4 L1039.6 69.1 L1040.2 66.9 L1040.8 64.9 L1041.4 63 L1042 61.3 L1042.6 59.7 L1043.2 58.2 L1043.9 56.8 L1044.5 55.5 L1045.1 54.2 L1045.7 53.1 L1046.3 52 L1046.9 51 L1047.5 50.1 L1048.1 49.3 L1048.7 48.5 L1049.4 47.7 L1050 47 L1050.6 46.4 L1051.2 45.8 L1051.8 45.2 L1052.4 44.7 L1053 44.2 L1053.6 43.8 L1054.2 43.3 L1054.9 42.9 L1055.5 42.6 L1056.1 42.2 L1056.7 41.9 L1057.3 41.6 L1057.9 41.4 L1058.5 41.1 L1059.1 40.9 L1059.8 40.6 L1060.4 40.4 L1061 40.2 L1061.6 40.1 L1062.2 39.9 L1062.8 39.7 L1063.4 39.6 L1064 39.4 L1064.6 39.3 L1065.3 39.2 L1065.9 39.1 L1066.5 39 L1067.1 38.9 L1067.7 38.8 L1068.3 38.7 L1068.9 38.6 L1069.5 38.6 L1070.1 38.5 L1070.8 38.4 L1071.4 38.4 L1072 38.3 L1072.6 38.3 L1073.2 38.2 L1073.8 38.2 L1074.4 38.2 L1075 38.1 L1075.6 38.1 L1076.3 38 L1076.9 38 L1077.5 38 L1078.1 38 L1078.7 37.9 L1079.3 37.9 L1079.9 37.9 L1080.5 37.9 L1081.1 37.9 L1081.8 37.6 M1016.2 37.6 L1016.3 51.3 L1016.5 68.9 L1016.6 87 L1016.7 104.5 L1016.9 121 L1017 136.3 L1017.1 150.3 L1017.3 162.9 L1017.4 174.3 L1017.5 184.4 L1017.7 193.4 L1017.8 201.2 L1017.9 208 L1018 213.9 L1018.2 218.9 L1018.3 223.1 L1018.4 226.6 L1018.6 229.5 L1018.7 231.7 L1018.8 233.4 L1019 234.6 L1019.1 235.4 L1019.2 235.7 L1019.4 235.7 L1019.5 235.4 L1019.6 234.9 L1019.8 234 L1019.9 233 L1020 231.7 L1020.2 230.3 L1020.3 228.7 L1020.4 227 L1020.6 225.2 L1020.7 223.3 L1020.8 221.3 L1021 219.2 L1021.1 217.1 L1021.2 214.9 L1021.4 212.7 L1021.5 210.4 L1021.6 208.1 L1021.7 205.8 L1021.9 203.5 L1022 201.2 L1022.1 198.8 L1022.3 196.5 L1022.4 194.2 L1022.5 191.8 L1022.7 189.5 L1022.8 187.2 L1022.9 184.9 L1023.1 182.7 L1023.2 180.4 L1023.3 178.2 L1023.5 176 L1023.6 173.8 L1023.7 171.7 L1023.9 169.5 L1024 167.4 L1024.1 165.4 L1024.3 163.3 L1024.4 161.3 L1024.5 159.3 L1024.7 157.3 L1024.8 155.4 L1024.9 153.4 L1025.1 151.5 L1025.2 149.7 L1025.3 147.9 L1025.4 146 L1025.6 144.3 L1025.7 142.5 L1025.8 140.8 L1026 139.1 L1026.1 137.4 L1026.2 135.8 L1026.4 134.1 L1026.5 132.5 L1026.6 131 L1026.8 129.4 L1026.9 127.9 L1027 126.4 L1027.2 124.9 L1027.3 123.5 L1027.4 122.1 L1027.6 120.7 L1027.7 119.3 L1027.8 117.9 L1028 116.6 L1028.6 110.7 L1029.2 105.2 L1029.8 100.2 L1030.4 95.5 L1031 91.2 L1031.6 87.2 L1032.2 83.5 L1032.9 80 L1033.5 76.9 L1034.1 73.9 L1034.7 71.2 L1035.3 68.7 L1035.9 66.4 L1036.5 64.2 L1037.1 62.2 L1037.7 60.4 L1038.4 58.7 L1039 57.1 L1039.6 55.6 L1040.2 54.3 L1040.8 53 L1041.4 51.9 L1042 50.8 L1042.6 49.8 L1043.2 48.9 L1043.9 48.1 L1044.5 47.3 L1045.1 46.6 L1045.7 45.9 L1046.3 45.3 L1046.9 44.7 L1047.5 44.2 L1048.1 43.7 L1048.7 43.2 L1049.4 42.8 L1050 42.4 L1050.6 42.1 L1051.2 41.7 L1051.8 41.4 L1052.4 41.1 L1053 40.9 L1053.6 40.6 L1054.2 40.4 L1054.9 40.2 L1055.5 40 L1056.1 39.8 L1056.7 39.6 L1057.3 39.5 L1057.9 39.4 L1058.5 39.2 L1059.1 39.1 L1059.8 39 L1060.4 38.9 L1061 38.8 L1061.6 38.7 L1062.2 38.6 L1062.8 38.5 L1063.4 38.5 L1064 38.4 L1064.6 38.3 L1065.3 38.3 L1065.9 38.2 L1066.5 38.2 L1067.1 38.1 L1067.7 38.1 L1068.3 38.1 L1068.9 38 L1069.5 38 L1070.1 38 L1070.8 37.9 L1071.4 37.9 L1072 37.9 L1072.6 37.9 L1073.2 37.9 L1073.8 37.6 M1016.2 37.6 L1016.3 50.4 L1016.5 66.8 L1016.6 83.4 L1016.7 99.3 L1016.9 114.1 L1017 127.6 L1017.1 139.8 L1017.3 150.7 L1017.4 160.4 L1017.5 168.8 L1017.7 176.2 L1017.8 182.5 L1017.9 187.9 L1018 192.5 L1018.2 196.2 L1018.3 199.3 L1018.4 201.7 L1018.6 203.6 L1018.7 204.9 L1018.8 205.8 L1019 206.3 L1019.1 206.4 L1019.2 206.2 L1019.4 205.8 L1019.5 205 L1019.6 204.1 L1019.8 203 L1019.9 201.7 L1020 200.2 L1020.2 198.7 L1020.3 197 L1020.4 195.2 L1020.6 193.4 L1020.7 191.5 L1020.8 189.5 L1021 187.5 L1021.1 185.5 L1021.2 183.4 L1021.4 181.4 L1021.5 179.3 L1021.6 177.2 L1021.7 175.1 L1021.9 173 L1022 170.9 L1022.1 168.8 L1022.3 166.7 L1022.4 164.6 L1022.5 162.6 L1022.7 160.5 L1022.8 158.5 L1022.9 156.5 L1023.1 154.6 L1023.2 152.6 L1023.3 150.7 L1023.5 148.8 L1023.6 146.9 L1023.7 145.1 L1023.9 143.3 L1024 141.5 L1024.1 139.7 L1024.3 137.9 L1024.4 136.2 L1024.5 134.5 L1024.7 132.9 L1024.8 131.2 L1024.9 129.6 L1025.1 128 L1025.2 126.5 L1025.3 124.9 L1025.4 123.4 L1025.6 121.9 L1025.7 120.5 L1025.8 119 L1026 117.6 L1026.1 116.2 L1026.2 114.9 L1026.4 113.5 L1026.5 112.2 L1026.6 110.9 L1026.8 109.6 L1026.9 108.4 L1027 107.1 L1027.2 105.9 L1027.3 104.7 L1027.4 103.6 L1027.6 102.4 L1027.7 101.3 L1027.8 100.2 L1028 99.1 L1028.6 94.3 L1029.2 89.8 L1029.8 85.7 L1030.4 82 L1031 78.5 L1031.6 75.3 L1032.2 72.3 L1032.9 69.6 L1033.5 67.1 L1034.1 64.8 L1034.7 62.7 L1035.3 60.7 L1035.9 58.9 L1036.5 57.2 L1037.1 55.7 L1037.7 54.3 L1038.4 53 L1039 51.8 L1039.6 50.7 L1040.2 49.6 L1040.8 48.7 L1041.4 47.8 L1042 47 L1042.6 46.3 L1043.2 45.6 L1043.9 45 L1044.5 44.4 L1045.1 43.9 L1045.7 43.4 L1046.3 42.9 L1046.9 42.5 L1047.5 42.1 L1048.1 41.8 L1048.7 41.4 L1049.4 41.1 L1050 40.9 L1050.6 40.6 L1051.2 40.4 L1051.8 40.2 L1052.4 40 L1053 39.8 L1053.6 39.6 L1054.2 39.4 L1054.9 39.3 L1055.5 39.2 L1056.1 39 L1056.7 38.9 L1057.3 38.8 L1057.9 38.7 L1058.5 38.6 L1059.1 38.6 L1059.8 38.5 L1060.4 38.4 L1061 38.4 L1061.6 38.3 L1062.2 38.2 L1062.8 38.2 L1063.4 38.1 L1064 38.1 L1064.6 38.1 L1065.3 38 L1065.9 38 L1066.5 38 L1067.1 37.9 L1067.7 37.9 L1068.3 37.9 L1068.9 37.9 L1069.5 37.6 M1016.2 37.6 L1016.3 49.5 L1016.5 64.5 L1016.6 79.4 L1016.7 93.6 L1016.9 106.6 L1017 118.3 L1017.1 128.7 L1017.3 137.8 L1017.4 145.7 L1017.5 152.6 L1017.7 158.4 L1017.8 163.3 L1017.9 167.3 L1018 170.6 L1018.2 173.2 L1018.3 175.3 L1018.4 176.7 L1018.6 177.8 L1018.7 178.4 L1018.8 178.6 L1019 178.5 L1019.1 178.1 L1019.2 177.5 L1019.4 176.7 L1019.5 175.7 L1019.6 174.5 L1019.8 173.2 L1019.9 171.8 L1020 170.3 L1020.2 168.7 L1020.3 167 L1020.4 165.3 L1020.6 163.6 L1020.7 161.8 L1020.8 159.9 L1021 158.1 L1021.1 156.2 L1021.2 154.4 L1021.4 152.5 L1021.5 150.6 L1021.6 148.8 L1021.7 146.9 L1021.9 145.1 L1022 143.3 L1022.1 141.5 L1022.3 139.7 L1022.4 137.9 L1022.5 136.2 L1022.7 134.4 L1022.8 132.7 L1022.9 131 L1023.1 129.4 L1023.2 127.7 L1023.3 126.1 L1023.5 124.5 L1023.6 123 L1023.7 121.4 L1023.9 119.9 L1024 118.4 L1024.1 117 L1024.3 115.5 L1024.4 114.1 L1024.5 112.7 L1024.7 111.4 L1024.8 110 L1024.9 108.7 L1025.1 107.4 L1025.2 106.1 L1025.3 104.9 L1025.4 103.7 L1025.6 102.4 L1025.7 101.3 L1025.8 100.1 L1026 99 L1026.1 97.8 L1026.2 96.7 L1026.4 95.6 L1026.5 94.6 L1026.6 93.5 L1026.8 92.5 L1026.9 91.5 L1027 90.5 L1027.2 89.5 L1027.3 88.6 L1027.4 87.7 L1027.6 86.7 L1027.7 85.8 L1027.8 84.9 L1028 84.1 L1028.6 80.3 L1029.2 76.8 L1029.8 73.5 L1030.4 70.6 L1031 67.9 L1031.6 65.4 L1032.2 63.1 L1032.9 61 L1033.5 59.1 L1034.1 57.3 L1034.7 55.7 L1035.3 54.2 L1035.9 52.8 L1036.5 51.6 L1037.1 50.4 L1037.7 49.4 L1038.4 48.4 L1039 47.5 L1039.6 46.7 L1040.2 46 L1040.8 45.3 L1041.4 44.6 L1042 44.1 L1042.6 43.5 L1043.2 43 L1043.9 42.6 L1044.5 42.2 L1045.1 41.8 L1045.7 41.5 L1046.3 41.1 L1046.9 40.9 L1047.5 40.6 L1048.1 40.3 L1048.7 40.1 L1049.4 39.9 L1050 39.7 L1050.6 39.5 L1051.2 39.4 L1051.8 39.2 L1052.4 39.1 L1053 39 L1053.6 38.9 L1054.2 38.8 L1054.9 38.7 L1055.5 38.6 L1056.1 38.5 L1056.7 38.4 L1057.3 38.4 L1057.9 38.3 L1058.5 38.2 L1059.1 38.2 L1059.8 38.1 L1060.4 38.1 L1061 38.1 L1061.6 38 L1062.2 38 L1062.8 38 L1063.4 37.9 L1064 37.9 L1064.6 37.9 L1065.3 37.6 M1016.2 37.6 L1016.3 48.4 L1016.5 61.7 L1016.6 74.9 L1016.7 87.1 L1016.9 98.1 L1017 107.8 L1017.1 116.3 L1017.3 123.7 L1017.4 129.9 L1017.5 135.1 L1017.7 139.4 L1017.8 142.9 L1017.9 145.7 L1018 147.9 L1018.2 149.5 L1018.3 150.7 L1018.4 151.4 L1018.6 151.7 L1018.7 151.7 L1018.8 151.4 L1019 150.9 L1019.1 150.2 L1019.2 149.4 L1019.4 148.3 L1019.5 147.2 L1019.6 145.9 L1019.8 144.6 L1019.9 143.2 L1020 141.7 L1020.2 140.2 L1020.3 138.7 L1020.4 137.1 L1020.6 135.5 L1020.7 133.9 L1020.8 132.3 L1021 130.7 L1021.1 129.1 L1021.2 127.5 L1021.4 125.9 L1021.5 124.3 L1021.6 122.8 L1021.7 121.2 L1021.9 119.7 L1022 118.2 L1022.1 116.7 L1022.3 115.2 L1022.4 113.8 L1022.5 112.3 L1022.7 110.9 L1022.8 109.5 L1022.9 108.2 L1023.1 106.8 L1023.2 105.5 L1023.3 104.2 L1023.5 102.9 L1023.6 101.7 L1023.7 100.5 L1023.9 99.3 L1024 98.1 L1024.1 96.9 L1024.3 95.8 L1024.4 94.7 L1024.5 93.6 L1024.7 92.5 L1024.8 91.4 L1024.9 90.4 L1025.1 89.4 L1025.2 88.4 L1025.3 87.4 L1025.4 86.4 L1025.6 85.5 L1025.7 84.6 L1025.8 83.6 L1026 82.8 L1026.1 81.9 L1026.2 81 L1026.4 80.2 L1026.5 79.4 L1026.6 78.6 L1026.8 77.8 L1026.9 77 L1027 76.2 L1027.2 75.5 L1027.3 74.7 L1027.4 74 L1027.6 73.3 L1027.7 72.6 L1027.8 72 L1028 71.3 L1028.6 68.4 L1029.2 65.7 L1029.8 63.3 L1030.4 61.1 L1031 59 L1031.6 57.2 L1032.2 55.5 L1032.9 53.9 L1033.5 52.5 L1034.1 51.2 L1034.7 50.1 L1035.3 49 L1035.9 48 L1036.5 47.1 L1037.1 46.3 L1037.7 45.5 L1038.4 44.8 L1039 44.2 L1039.6 43.6 L1040.2 43.1 L1040.8 42.6 L1041.4 42.2 L1042 41.8 L1042.6 41.4 L1043.2 41.1 L1043.9 40.8 L1044.5 40.5 L1045.1 40.3 L1045.7 40 L1046.3 39.8 L1046.9 39.6 L1047.5 39.5 L1048.1 39.3 L1048.7 39.2 L1049.4 39 L1050 38.9 L1050.6 38.8 L1051.2 38.7 L1051.8 38.6 L1052.4 38.5 L1053 38.4 L1053.6 38.4 L1054.2 38.3 L1054.9 38.2 L1055.5 38.2 L1056.1 38.1 L1056.7 38.1 L1057.3 38 L1057.9 38 L1058.5 38 L1059.1 37.9 L1059.8 37.9 L1060.4 37.9 L1061 37.9 L1061.6 37.6 M1016.2 37.6 L1016.3 47 L1016.5 58.4 L1016.6 69.4 L1016.7 79.4 L1016.9 88.3 L1017 95.9 L1017.1 102.4 L1017.3 107.9 L1017.4 112.4 L1017.5 116.1 L1017.7 119 L1017.8 121.3 L1017.9 123 L1018 124.2 L1018.2 125 L1018.3 125.4 L1018.4 125.5 L1018.6 125.3 L1018.7 124.9 L1018.8 124.4 L1019 123.6 L1019.1 122.8 L1019.2 121.8 L1019.4 120.8 L1019.5 119.6 L1019.6 118.4 L1019.8 117.2 L1019.9 116 L1020 114.7 L1020.2 113.4 L1020.3 112 L1020.4 110.7 L1020.6 109.4 L1020.7 108.1 L1020.8 106.7 L1021 105.4 L1021.1 104.1 L1021.2 102.9 L1021.4 101.6 L1021.5 100.3 L1021.6 99.1 L1021.7 97.9 L1021.9 96.7 L1022 95.5 L1022.1 94.4 L1022.3 93.2 L1022.4 92.1 L1022.5 91 L1022.7 89.9 L1022.8 88.9 L1022.9 87.8 L1023.1 86.8 L1023.2 85.8 L1023.3 84.8 L1023.5 83.9 L1023.6 82.9 L1023.7 82 L1023.9 81.1 L1024 80.2 L1024.1 79.4 L1024.3 78.5 L1024.4 77.7 L1024.5 76.9 L1024.7 76.1 L1024.8 75.3 L1024.9 74.5 L1025.1 73.7 L1025.2 73 L1025.3 72.3 L1025.4 71.6 L1025.6 70.9 L1025.7 70.2 L1025.8 69.5 L1026 68.9 L1026.1 68.2 L1026.2 67.6 L1026.4 67 L1026.5 66.4 L1026.6 65.8 L1026.8 65.2 L1026.9 64.7 L1027 64.1 L1027.2 63.6 L1027.3 63 L1027.4 62.5 L1027.6 62 L1027.7 61.5 L1027.8 61 L1028 60.5 L1028.6 58.5 L1029.2 56.6 L1029.8 54.8 L1030.4 53.3 L1031 51.8 L1031.6 50.5 L1032.2 49.3 L1032.9 48.3 L1033.5 47.3 L1034.1 46.4 L1034.7 45.6 L1035.3 44.9 L1035.9 44.2 L1036.5 43.6 L1037.1 43.1 L1037.7 42.6 L1038.4 42.1 L1039 41.7 L1039.6 41.3 L1040.2 41 L1040.8 40.7 L1041.4 40.4 L1042 40.1 L1042.6 39.9 L1043.2 39.7 L1043.9 39.5 L1044.5 39.3 L1045.1 39.2 L1045.7 39 L1046.3 38.9 L1046.9 38.8 L1047.5 38.7 L1048.1 38.6 L1048.7 38.5 L1049.4 38.4 L1050 38.3 L1050.6 38.3 L1051.2 38.2 L1051.8 38.2 L1052.4 38.1 L1053 38.1 L1053.6 38 L1054.2 38 L1054.9 37.9 L1055.5 37.9 L1056.1 37.9 L1056.7 37.9 L1057.3 37.6 M1016.2 37.6 L1016.3 45.2 L1016.5 54.2 L1016.6 62.7 L1016.7 70.3 L1016.9 76.7 L1017 82.2 L1017.1 86.7 L1017.3 90.3 L1017.4 93.2 L1017.5 95.5 L1017.7 97.1 L1017.8 98.3 L1017.9 99.1 L1018 99.6 L1018.2 99.8 L1018.3 99.7 L1018.4 99.5 L1018.6 99 L1018.7 98.5 L1018.8 97.8 L1019 97 L1019.1 96.2 L1019.2 95.3 L1019.4 94.4 L1019.5 93.5 L1019.6 92.5 L1019.8 91.5 L1019.9 90.5 L1020 89.5 L1020.2 88.5 L1020.3 87.5 L1020.4 86.5 L1020.6 85.5 L1020.7 84.5 L1020.8 83.5 L1021 82.6 L1021.1 81.6 L1021.2 80.7 L1021.4 79.8 L1021.5 78.9 L1021.6 78 L1021.7 77.2 L1021.9 76.3 L1022 75.5 L1022.1 74.7 L1022.3 73.9 L1022.4 73.1 L1022.5 72.3 L1022.7 71.6 L1022.8 70.9 L1022.9 70.1 L1023.1 69.4 L1023.2 68.7 L1023.3 68.1 L1023.5 67.4 L1023.6 66.8 L1023.7 66.1 L1023.9 65.5 L1024 64.9 L1024.1 64.3 L1024.3 63.7 L1024.4 63.2 L1024.5 62.6 L1024.7 62.1 L1024.8 61.5 L1024.9 61 L1025.1 60.5 L1025.2 60 L1025.3 59.5 L1025.4 59.1 L1025.6 58.6 L1025.7 58.1 L1025.8 57.7 L1026 57.3 L1026.1 56.8 L1026.2 56.4 L1026.4 56 L1026.5 55.6 L1026.6 55.2 L1026.8 54.8 L1026.9 54.5 L1027 54.1 L1027.2 53.7 L1027.3 53.4 L1027.4 53 L1027.6 52.7 L1027.7 52.4 L1027.8 52.1 L1028 51.8 L1028.6 50.4 L1029.2 49.2 L1029.8 48 L1030.4 47 L1031 46.1 L1031.6 45.3 L1032.2 44.6 L1032.9 43.9 L1033.5 43.3 L1034.1 42.7 L1034.7 42.2 L1035.3 41.8 L1035.9 41.4 L1036.5 41 L1037.1 40.7 L1037.7 40.4 L1038.4 40.1 L1039 39.9 L1039.6 39.7 L1040.2 39.5 L1040.8 39.3 L1041.4 39.1 L1042 39 L1042.6 38.8 L1043.2 38.7 L1043.9 38.6 L1044.5 38.5 L1045.1 38.4 L1045.7 38.3 L1046.3 38.3 L1046.9 38.2 L1047.5 38.2 L1048.1 38.1 L1048.7 38 L1049.4 38 L1050 38 L1050.6 37.9 L1051.2 37.9 L1051.8 37.9 L1052.4 37.6 M1016.2 37.6 L1016.3 42.8 L1016.5 48.9 L1016.6 54.4 L1016.7 59.1 L1016.9 63.1 L1017 66.2 L1017.1 68.7 L1017.3 70.7 L1017.4 72.1 L1017.5 73.2 L1017.7 73.9 L1017.8 74.3 L1017.9 74.5 L1018 74.5 L1018.2 74.4 L1018.3 74.1 L1018.4 73.7 L1018.6 73.3 L1018.7 72.8 L1018.8 72.3 L1019 71.7 L1019.1 71.1 L1019.2 70.4 L1019.4 69.8 L1019.5 69.2 L1019.6 68.5 L1019.8 67.9 L1019.9 67.2 L1020 66.6 L1020.2 65.9 L1020.3 65.3 L1020.4 64.7 L1020.6 64.1 L1020.7 63.5 L1020.8 62.9 L1021 62.3 L1021.1 61.8 L1021.2 61.2 L1021.4 60.7 L1021.5 60.2 L1021.6 59.7 L1021.7 59.1 L1021.9 58.7 L1022 58.2 L1022.1 57.7 L1022.3 57.2 L1022.4 56.8 L1022.5 56.3 L1022.7 55.9 L1022.8 55.5 L1022.9 55.1 L1023.1 54.7 L1023.2 54.3 L1023.3 53.9 L1023.5 53.5 L1023.6 53.1 L1023.7 52.8 L1023.9 52.4 L1024 52.1 L1024.1 51.8 L1024.3 51.4 L1024.4 51.1 L1024.5 50.8 L1024.7 50.5 L1024.8 50.2 L1024.9 49.9 L1025.1 49.6 L1025.2 49.4 L1025.3 49.1 L1025.4 48.8 L1025.6 48.6 L1025.7 48.3 L1025.8 48.1 L1026 47.8 L1026.1 47.6 L1026.2 47.3 L1026.4 47.1 L1026.5 46.9 L1026.6 46.7 L1026.8 46.5 L1026.9 46.3 L1027 46.1 L1027.2 45.9 L1027.3 45.7 L1027.4 45.5 L1027.6 45.3 L1027.7 45.1 L1027.8 45 L1028 44.8 L1028.6 44.1 L1029.2 43.4 L1029.8 42.8 L1030.4 42.3 L1031 41.8 L1031.6 41.4 L1032.2 41 L1032.9 40.6 L1033.5 40.3 L1034.1 40 L1034.7 39.8 L1035.3 39.6 L1035.9 39.4 L1036.5 39.2 L1037.1 39 L1037.7 38.9 L1038.4 38.7 L1039 38.6 L1039.6 38.5 L1040.2 38.4 L1040.8 38.3 L1041.4 38.3 L1042 38.2 L1042.6 38.1 L1043.2 38.1 L1043.9 38 L1044.5 38 L1045.1 37.9 L1045.7 37.9 L1046.3 37.9 L1046.9 37.9 L1047.5 37.6 M1016.2 37.6 L1016.3 39.6 L1016.5 41.8 L1016.6 43.8 L1016.7 45.4 L1016.9 46.7 L1017 47.6 L1017.1 48.4 L1017.3 48.9 L1017.4 49.2 L1017.5 49.5 L1017.7 49.6 L1017.8 49.6 L1017.9 49.6 L1018 49.5 L1018.2 49.3 L1018.3 49.2 L1018.4 49 L1018.6 48.8 L1018.7 48.6 L1018.8 48.4 L1019 48.1 L1019.1 47.9 L1019.2 47.7 L1019.4 47.5 L1019.5 47.2 L1019.6 47 L1019.8 46.8 L1019.9 46.6 L1020 46.3 L1020.2 46.1 L1020.3 45.9 L1020.4 45.7 L1020.6 45.5 L1020.7 45.3 L1020.8 45.1 L1021 45 L1021.1 44.8 L1021.2 44.6 L1021.4 44.4 L1021.5 44.3 L1021.6 44.1 L1021.7 43.9 L1021.9 43.8 L1022 43.6 L1022.1 43.5 L1022.3 43.3 L1022.4 43.2 L1022.5 43.1 L1022.7 42.9 L1022.8 42.8 L1022.9 42.7 L1023.1 42.5 L1023.2 42.4 L1023.3 42.3 L1023.5 42.2 L1023.6 42.1 L1023.7 42 L1023.9 41.9 L1024 41.7 L1024.1 41.6 L1024.3 41.5 L1024.4 41.4 L1024.5 41.4 L1024.7 41.3 L1024.8 41.2 L1024.9 41.1 L1025.1 41 L1025.2 40.9 L1025.3 40.8 L1025.4 40.8 L1025.6 40.7 L1025.7 40.6 L1025.8 40.5 L1026 40.5 L1026.1 40.4 L1026.2 40.3 L1026.4 40.2 L1026.5 40.2 L1026.6 40.1 L1026.8 40.1 L1026.9 40 L1027 39.9 L1027.2 39.9 L1027.3 39.8 L1027.4 39.8 L1027.6 39.7 L1027.7 39.7 L1027.8 39.6 L1028 39.6 L1028.6 39.3 L1029.2 39.2 L1029.8 39 L1030.4 38.8 L1031 38.7 L1031.6 38.6 L1032.2 38.5 L1032.9 38.4 L1033.5 38.3 L1034.1 38.2 L1034.7 38.2 L1035.3 38.1 L1035.9 38 L1036.5 38 L1037.1 37.9 L1037.7 37.9 L1038.4 37.9 L1039 37.6" fill="none" stroke="#bb66a4" stroke-width="1.9" stroke-linejoin="round"/>
<text font-size="54" fill="#1c1a1a" text-anchor="start" font-weight="normal" transform="translate(1175.3 187.5) scale(1 1.04)" >I234T<tspan font-size="40">s</tspan></text>
<path d="M1282 265.5 V317 H1379.5" fill="none" stroke="#1c1a1a" stroke-width="3.5" stroke-linecap="round" stroke-linejoin="round"/>
<text font-size="26.7" fill="#1c1a1a" text-anchor="start" font-weight="normal" transform="translate(1219 290) scale(1 1.04)" >5 nA</text>
<text font-size="26.7" fill="#1c1a1a" text-anchor="start" font-weight="normal" transform="translate(1293.5 350.5) scale(1 1.04)" >5 ms</text>
<line x1="179.8" y1="459" x2="179.8" y2="941.3" stroke="#1c1a1a" stroke-width="6" stroke-linecap="round" />
<line x1="172" y1="941.3" x2="791" y2="941.3" stroke="#1c1a1a" stroke-width="6" stroke-linecap="round" />
<line x1="170" y1="502.5" x2="179.8" y2="502.5" stroke="#1c1a1a" stroke-width="6" stroke-linecap="round" />
<text font-size="40.5" fill="#1c1a1a" text-anchor="end" font-weight="normal" transform="translate(146.8 518.3) scale(1 1.04)" >-20</text>
<line x1="174.5" y1="557.5" x2="179.8" y2="557.5" stroke="#1c1a1a" stroke-width="6" stroke-linecap="round" />
<line x1="170" y1="612.4" x2="179.8" y2="612.4" stroke="#1c1a1a" stroke-width="6" stroke-linecap="round" />
<text font-size="40.5" fill="#1c1a1a" text-anchor="end" font-weight="normal" transform="translate(146.8 628.2) scale(1 1.04)" >-40</text>
<line x1="174.5" y1="667.4" x2="179.8" y2="667.4" stroke="#1c1a1a" stroke-width="6" stroke-linecap="round" />
<line x1="170" y1="722.3" x2="179.8" y2="722.3" stroke="#1c1a1a" stroke-width="6" stroke-linecap="round" />
<text font-size="40.5" fill="#1c1a1a" text-anchor="end" font-weight="normal" transform="translate(146.8 738.1) scale(1 1.04)" >-60</text>
<line x1="174.5" y1="777.3" x2="179.8" y2="777.3" stroke="#1c1a1a" stroke-width="6" stroke-linecap="round" />
<line x1="170" y1="832.2" x2="179.8" y2="832.2" stroke="#1c1a1a" stroke-width="6" stroke-linecap="round" />
<text font-size="40.5" fill="#1c1a1a" text-anchor="end" font-weight="normal" transform="translate(146.8 848) scale(1 1.04)" >-80</text>
<line x1="174.5" y1="887.2" x2="179.8" y2="887.2" stroke="#1c1a1a" stroke-width="6" stroke-linecap="round" />
<line x1="170" y1="942.1" x2="179.8" y2="942.1" stroke="#1c1a1a" stroke-width="6" stroke-linecap="round" />
<text font-size="40.5" fill="#1c1a1a" text-anchor="end" font-weight="normal" transform="translate(146.8 957.9) scale(1 1.04)" >-100</text>
<line x1="281.7" y1="932.5" x2="281.7" y2="941.3" stroke="#1c1a1a" stroke-width="6" stroke-linecap="round" />
<line x1="484.8" y1="932.5" x2="484.8" y2="941.3" stroke="#1c1a1a" stroke-width="6" stroke-linecap="round" />
<line x1="688" y1="932.5" x2="688" y2="941.3" stroke="#1c1a1a" stroke-width="6" stroke-linecap="round" />
<text font-size="47" fill="#1c1a1a" text-anchor="middle" font-weight="normal" transform="translate(50 685) rotate(-90) scale(1 1.04)" >RMP (mV)</text>
<path d="M486.6 458 V411 H697.4 V458" fill="none" stroke="#1c1a1a" stroke-width="6.2" stroke-linecap="round" stroke-linejoin="round"/>
<text font-size="55" fill="#1c1a1a" text-anchor="middle" font-weight="bold" transform="translate(589.3 424.6) scale(1 1.0)" letter-spacing="5.4">***</text>
<g fill="#1c1a1a"><circle cx="248" cy="677.5" r="10.5"/><circle cx="264.8" cy="684.7" r="10.5"/><circle cx="281.8" cy="686.9" r="10.5"/><circle cx="298.8" cy="674.9" r="10.5"/><circle cx="315.6" cy="683.6" r="10.5"/><circle cx="307.4" cy="696.1" r="10.5"/><circle cx="256.3" cy="704.8" r="10.5"/><circle cx="290.1" cy="712.7" r="10.5"/><circle cx="273.8" cy="717.5" r="10.5"/><circle cx="265.5" cy="736" r="10.5"/><circle cx="280.7" cy="738.2" r="10.5"/><circle cx="298.2" cy="747.6" r="10.5"/><circle cx="256.3" cy="754.1" r="10.5"/><circle cx="273.1" cy="750.6" r="10.5"/><circle cx="239.3" cy="772.4" r="10.5"/><circle cx="306.9" cy="766.6" r="10.5"/><circle cx="324.4" cy="770.9" r="10.5"/></g>
<g fill="#344d9a"><circle cx="459.7" cy="669.5" r="10.5"/><circle cx="476.5" cy="680.4" r="10.5"/><circle cx="493.5" cy="685.2" r="10.5"/><circle cx="511.6" cy="674.4" r="10.5"/><circle cx="527.4" cy="674.4" r="10.5"/><circle cx="442.6" cy="694.1" r="10.5"/><circle cx="501.8" cy="695" r="10.5"/><circle cx="468" cy="709.8" r="10.5"/><circle cx="485.2" cy="708.1" r="10.5"/><circle cx="476.5" cy="735.4" r="10.5"/><circle cx="510.5" cy="733.2" r="10.5"/><circle cx="459.7" cy="741.5" r="10.5"/><circle cx="493.5" cy="745.2" r="10.5"/><circle cx="501.8" cy="754.1" r="10.5"/><circle cx="468" cy="762.8" r="10.5"/><circle cx="450.9" cy="768.7" r="10.5"/><circle cx="485.2" cy="770.3" r="10.5"/><circle cx="519" cy="768.3" r="10.5"/></g>
<g fill="#bb66a4"><circle cx="688" cy="512" r="10.5"/><circle cx="688" cy="629.4" r="10.5"/><circle cx="662.9" cy="648.8" r="10.5"/><circle cx="688" cy="656" r="10.5"/><circle cx="701.1" cy="653.8" r="10.5"/><circle cx="713.1" cy="652.7" r="10.5"/><circle cx="643.3" cy="671.3" r="10.5"/><circle cx="655.3" cy="678.9" r="10.5"/><circle cx="669.5" cy="668" r="10.5"/><circle cx="681.5" cy="683.3" r="10.5"/><circle cx="695.7" cy="672.4" r="10.5"/><circle cx="706.6" cy="675.7" r="10.5"/><circle cx="719.7" cy="687.7" r="10.5"/><circle cx="732.7" cy="692" r="10.5"/><circle cx="676" cy="702.9" r="10.5"/><circle cx="686.9" cy="702.9" r="10.5"/><circle cx="700.7" cy="720.4" r="10.5"/></g>
<circle cx="290.1" cy="775.3" r="8" fill="#1c1a1a"/>
<line x1="231" y1="725.1" x2="333" y2="725.1" stroke="#1c1a1a" stroke-width="6" stroke-linecap="round" />
<line x1="434" y1="720.7" x2="536.5" y2="720.7" stroke="#1c1a1a" stroke-width="6" stroke-linecap="round" />
<line x1="638" y1="664.7" x2="739" y2="664.7" stroke="#1c1a1a" stroke-width="6" stroke-linecap="round" />
<line x1="722.7" y1="557.7" x2="707.5" y2="538.9" stroke="#1c1a1a" stroke-width="6.3" stroke-linecap="round" />
<polygon points="695,523.3 715.4,535.1 702.2,545.8" fill="#1c1a1a"/>
<text font-size="29.2" fill="#1c1a1a" text-anchor="start" font-weight="normal" transform="translate(266 918.5) rotate(-45) scale(1 1.04)" >Native</text>
<text font-size="29.2" fill="#1c1a1a" text-anchor="start" font-weight="normal" transform="translate(443.7 901.2) rotate(-45) scale(1 1.04)" >-50%WT<tspan font-size="24.5">s</tspan>/</text>
<text font-size="29.2" fill="#1c1a1a" text-anchor="start" font-weight="normal" transform="translate(468.9 928.5) rotate(-45) scale(1 1.04)" >+50%WT<tspan font-size="24.5">s</tspan></text>
<text font-size="29.2" fill="#1c1a1a" text-anchor="start" font-weight="normal" transform="translate(639.9 886.2) rotate(-45) scale(1 1.04)" >-50%WT<tspan font-size="24.5">s</tspan>/</text>
<text font-size="29.2" fill="#1c1a1a" text-anchor="start" font-weight="normal" transform="translate(665.1 912.7) rotate(-45) scale(1 1.04)" >+50%I234T<tspan font-size="24.5">s</tspan></text>
<line x1="1014.5" y1="446" x2="1014.5" y2="929" stroke="#1c1a1a" stroke-width="6.4" stroke-linecap="round" />
<line x1="1014.5" y1="929" x2="1624" y2="929" stroke="#1c1a1a" stroke-width="6.4" stroke-linecap="round" />
<line x1="1004" y1="446" x2="1014.5" y2="446" stroke="#1c1a1a" stroke-width="6.4" stroke-linecap="round" />
<text font-size="39.5" fill="#1c1a1a" text-anchor="end" font-weight="normal" transform="translate(982.5 464) scale(1 1.04)" >60</text>
<line x1="1004" y1="510.4" x2="1014.5" y2="510.4" stroke="#1c1a1a" stroke-width="6.4" stroke-linecap="round" />
<text font-size="39.5" fill="#1c1a1a" text-anchor="end" font-weight="normal" transform="translate(982.5 528.4) scale(1 1.04)" >40</text>
<line x1="1004" y1="574.8" x2="1014.5" y2="574.8" stroke="#1c1a1a" stroke-width="6.4" stroke-linecap="round" />
<text font-size="39.5" fill="#1c1a1a" text-anchor="end" font-weight="normal" transform="translate(982.5 592.8) scale(1 1.04)" >20</text>
<line x1="1004" y1="639.2" x2="1014.5" y2="639.2" stroke="#1c1a1a" stroke-width="6.4" stroke-linecap="round" />
<text font-size="39.5" fill="#1c1a1a" text-anchor="end" font-weight="normal" transform="translate(982.5 657.2) scale(1 1.04)" >0</text>
<line x1="1004" y1="703.6" x2="1014.5" y2="703.6" stroke="#1c1a1a" stroke-width="6.4" stroke-linecap="round" />
<text font-size="39.5" fill="#1c1a1a" text-anchor="end" font-weight="normal" transform="translate(982.5 721.6) scale(1 1.04)" >-20</text>
<line x1="1004" y1="768" x2="1014.5" y2="768" stroke="#1c1a1a" stroke-width="6.4" stroke-linecap="round" />
<text font-size="39.5" fill="#1c1a1a" text-anchor="end" font-weight="normal" transform="translate(982.5 786) scale(1 1.04)" >-40</text>
<line x1="1004" y1="832.4" x2="1014.5" y2="832.4" stroke="#1c1a1a" stroke-width="6.4" stroke-linecap="round" />
<text font-size="39.5" fill="#1c1a1a" text-anchor="end" font-weight="normal" transform="translate(982.5 850.4) scale(1 1.04)" >-60</text>
<line x1="1004" y1="896.8" x2="1014.5" y2="896.8" stroke="#1c1a1a" stroke-width="6.4" stroke-linecap="round" />
<text font-size="39.5" fill="#1c1a1a" text-anchor="end" font-weight="normal" transform="translate(982.5 914.8) scale(1 1.04)" >-80</text>
<line x1="1030.3" y1="929" x2="1030.3" y2="938" stroke="#1c1a1a" stroke-width="6.4" stroke-linecap="round" />
<text font-size="39.5" fill="#1c1a1a" text-anchor="middle" font-weight="normal" transform="translate(1031.1 983.3) scale(1 1.04)" >0</text>
<line x1="1112.8" y1="929" x2="1112.8" y2="934.5" stroke="#1c1a1a" stroke-width="5" stroke-linecap="round" />
<line x1="1195.2" y1="929" x2="1195.2" y2="938" stroke="#1c1a1a" stroke-width="6.4" stroke-linecap="round" />
<text font-size="39.5" fill="#1c1a1a" text-anchor="middle" font-weight="normal" transform="translate(1197.7 983.3) scale(1 1.04)" >10</text>
<line x1="1277.7" y1="929" x2="1277.7" y2="934.5" stroke="#1c1a1a" stroke-width="5" stroke-linecap="round" />
<line x1="1360.1" y1="929" x2="1360.1" y2="938" stroke="#1c1a1a" stroke-width="6.4" stroke-linecap="round" />
<text font-size="39.5" fill="#1c1a1a" text-anchor="middle" font-weight="normal" transform="translate(1362.6 983.3) scale(1 1.04)" >20</text>
<line x1="1442.5" y1="929" x2="1442.5" y2="934.5" stroke="#1c1a1a" stroke-width="5" stroke-linecap="round" />
<line x1="1525" y1="929" x2="1525" y2="938" stroke="#1c1a1a" stroke-width="6.4" stroke-linecap="round" />
<text font-size="39.5" fill="#1c1a1a" text-anchor="middle" font-weight="normal" transform="translate(1527.5 983.3) scale(1 1.04)" >30</text>
<line x1="1607.4" y1="929" x2="1607.4" y2="934.5" stroke="#1c1a1a" stroke-width="5" stroke-linecap="round" />
<text font-size="47" fill="#1c1a1a" text-anchor="middle" font-weight="normal" transform="translate(892 645.8) rotate(-90) scale(1 1.04)" >RMP (mV)</text>
<line x1="1149" y1="429.2" x2="1215" y2="429.2" stroke="#1c1a1a" stroke-width="3.8" stroke-linecap="round" />
<line x1="1149" y1="466" x2="1215" y2="466" stroke="#344d9a" stroke-width="3.8" stroke-linecap="round" />
<line x1="1149" y1="502.4" x2="1215" y2="502.4" stroke="#bb66a4" stroke-width="3.8" stroke-linecap="round" />
<text font-size="29.8" fill="#1c1a1a" text-anchor="start" font-weight="normal" transform="translate(1224.2 439.2) scale(1 1.04)" >Native</text>
<text font-size="29.8" fill="#1c1a1a" text-anchor="start" font-weight="normal" transform="translate(1224.2 476) scale(1 1.04)" >-50%WT<tspan font-size="23.2">s</tspan>/+50%WT<tspan font-size="23.2">s</tspan></text>
<text font-size="29.8" fill="#1c1a1a" text-anchor="start" font-weight="normal" transform="translate(1224.2 511.3) scale(1 1.04)" >-50%WT<tspan font-size="23.2">s</tspan>/+50%I234T<tspan font-size="23.2">s</tspan></text>
<path d="M1032 827.4 L1032.8 829.1 L1033.6 827.4 L1034.4 828.7 L1035.2 827.4 L1036 828.8 L1036.8 830.1 L1037.6 828.9 L1038.4 831 L1039.2 828.5 L1040 828.6 L1040.8 828.2 L1041.6 828.7 L1042.4 829.6 L1043.2 827.2 L1044 826.8 L1044.8 826.7 L1045.6 827.3 L1046.4 831.2 L1047.2 830.1 L1048 828.7 L1048.8 828.5 L1049.6 828.6 L1050.4 829 L1051.2 830.3 L1052 829.6 L1052.8 829.6 L1053.6 829.7 L1054.4 830 L1055.2 829 L1056 829.3 L1056.8 830.1 L1057.6 829.4 L1058.4 829 L1059.2 828.7 L1060 827.5 L1060.8 828.7 L1061.6 829.5 L1062.4 829.6 L1063.2 829.1 L1064 830.4 L1064.8 828.6 L1065.6 828.9 L1066.4 829.5 L1067.2 831.3 L1068 829.7 L1068.8 829.2 L1069.6 828.8 L1070.4 829.9 L1071.2 829.3 L1072 828.4 L1072.8 829.8 L1073.6 827.5 L1074.4 828.7 L1075.2 830.2 L1076 829.3 L1076.8 828.7 L1077.6 829.6 L1078.4 830 L1079.2 828.8 L1080 831.2 L1080.8 829.8 L1081.6 829.2 L1082.4 828.5 L1083.2 829.6 L1084 829.9 L1084.8 827.6 L1085.6 828.1 L1086.4 829.3 L1087.2 829.8 L1088 829 L1088.8 829.5 L1089.6 828.7 L1090.4 827.8 L1091.2 830.1 L1092 828.9 L1092.8 829.2 L1093.6 831.1 L1094.4 828.8 L1095.2 830.2 L1096 827.9 L1096.8 827.4 L1097.6 829.7 L1098.4 829.1 L1099.2 828.9 L1100 829.4 L1100.8 828.2 L1101.6 830.2 L1102.4 827.9 L1103.2 829.3 L1104 828.3 L1104.8 827.5 L1105.6 829.6 L1106.4 830.9 L1107.2 829.2 L1108 828.7 L1108.8 827 L1109.6 829.6 L1110.4 830.2 L1111.2 828.5 L1112 828.3 L1112.8 826.9 L1113.6 828.1 L1114.4 828.1 L1115.2 828.7 L1116 829.8 L1116.8 827.2 L1117.6 827.7 L1118.4 828.8 L1119.2 829.4 L1120 829.6 L1120.8 828.2 L1121.6 829.3 L1122.4 829.7 L1123.2 828.2 L1124 828.3 L1124.8 827.8 L1125.6 828.6 L1126.4 827.8 L1127.2 827.7 L1128 829.3 L1128.8 829.1 L1129.6 828.9 L1130.4 828.3 L1131.2 828 L1132 828.9 L1132.8 828.5 L1133.6 828.9 L1134.4 828.9 L1135.2 828 L1136 827.4 L1136.8 828.9 L1137.6 828.2 L1138.4 827.7 L1139.2 829.2 L1140 828.4 L1140.8 828.3 L1141.6 827.9 L1142.4 826.9 L1143.2 826.6 L1144 828.1 L1144.8 829.5 L1145.6 829.4 L1146.4 827.1 L1147.2 827.1 L1148 829 L1148.8 829.4 L1149.6 828.1 L1150.4 827.7 L1151.2 826.9 L1152 828.2 L1152.8 830.6 L1153.6 827.2 L1154.4 827 L1155.2 828.3 L1156 829.1 L1156.8 826.9 L1157.6 827.5 L1158.4 828 L1159.2 828.2 L1160 827.4 L1160.8 828.3 L1161.6 826.7 L1162.4 828.4 L1163.2 829.2 L1164 828.8 L1164.8 828.6 L1165.6 828 L1166.4 827.4 L1167.2 828.6 L1168 828 L1168.8 829.1 L1169.6 829 L1170.4 829.5 L1171.2 828 L1172 827 L1172.8 827.6 L1173.6 829.1 L1174.4 827.1 L1175.2 826.9 L1176 827.6 L1176.8 827.1 L1177.6 829.8 L1178.4 828.6 L1179.2 829 L1180 829.1 L1180.8 827.6 L1181.6 828.5 L1182.4 828.7 L1183.2 828.4 L1184 828.5 L1184.8 827.9 L1185.6 827.4 L1186.4 829.2 L1187.2 829.4 L1188 828.7 L1188.8 827.5 L1189.6 827.5 L1190.4 827.6 L1191.2 828.6 L1192 827.7 L1192.8 828.9 L1193.6 828.9 L1194.4 828.3 L1195.2 828.9 L1196 827.7 L1196.8 829 L1197.6 829 L1198.4 828.9 L1199.2 828.7 L1200 829.1 L1200.8 828.8 L1201.6 827.5 L1202.4 828.9 L1203.2 827.7 L1204 828.7 L1204.8 827 L1205.6 826.6 L1206.4 828.1 L1207.2 828.6 L1208 827.5 L1208.8 827.7 L1209.6 828.5 L1210.4 829.9 L1211.2 829.2 L1212 830.8 L1212.8 827.6 L1213.6 827.8 L1214.4 827.3 L1215.2 828 L1216 827.7 L1216.8 828.6 L1217.6 828.4 L1218.4 828.6 L1219.2 828.3 L1220 829.6 L1220.8 828.1 L1221.6 827.5 L1222.4 827 L1223.2 829.5 L1224 828.6 L1224.8 828.2 L1225.6 828.5 L1226.4 829.7 L1227.2 827.9 L1228 828 L1228.8 827.8 L1229.6 827.3 L1230.4 828.6 L1231.2 827.2 L1232 828.1 L1232.8 827.6 L1233.6 827.1 L1234.4 826.8 L1235.2 828.9 L1236 827.6 L1236.8 828 L1237.6 826.7 L1238.4 827.4 L1239.2 828.3 L1240 827.7 L1240.8 827.9 L1241.6 826.9 L1242.4 828.8 L1243.2 829.5 L1244 828.5 L1244.8 826.8 L1245.6 829.6 L1246.4 829.1 L1247.2 828.9 L1248 828 L1248.8 828.9 L1249.6 827 L1250.4 827.2 L1251.2 827.1 L1252 827.5 L1252.8 827.9 L1253.6 828 L1254.4 829 L1255.2 827 L1256 827.9 L1256.8 830.3 L1257.6 830.7 L1258.4 828.1 L1259.2 828.9 L1260 826.3 L1260.8 827.5 L1261.6 829.7 L1262.4 828.3 L1263.2 827.5 L1264 828.1 L1264.8 827.7 L1265.6 826.8 L1266.4 827.1 L1267.2 827 L1268 828 L1268.8 830.4 L1269.6 828.7 L1270.4 829.8 L1271.2 828.9 L1272 827.9 L1272.8 827.5 L1273.6 826.8 L1274.4 827.6 L1275.2 828.1 L1276 829.7 L1276.8 828.9 L1277.6 828.3 L1278.4 827.9 L1279.2 827.7 L1280 829.2 L1280.8 827.2 L1281.6 827.2 L1282.4 828.2 L1283.2 828.1 L1284 828.6 L1284.8 828.7 L1285.6 828.3 L1286.4 827.5 L1287.2 828.2 L1288 826.3 L1288.8 827 L1289.6 827.5 L1290.4 826.9 L1291.2 829.2 L1292 828.7 L1292.8 827.2 L1293.6 827.3 L1294.4 827.7 L1295.2 828.2 L1296 828.7 L1296.8 827.9 L1297.6 827.8 L1298.4 827 L1299.2 827.4 L1300 827.5 L1300.8 829.6 L1301.6 829.2 L1302.4 828.5 L1303.2 827.7 L1304 829.6 L1304.8 828.4 L1305.6 827.5 L1306.4 827.1 L1307.2 828.2 L1308 828.3 L1308.8 828.6 L1309.6 828.9 L1310.4 828.8 L1311.2 829.3 L1312 827.2 L1312.8 829 L1313.6 828.4 L1314.4 826.5 L1315.2 827.8 L1316 827.6 L1316.8 828.9 L1317.6 829.2 L1318.4 827.9 L1319.2 828.3 L1320 826.5 L1320.8 826.9 L1321.6 829 L1322.4 827.2 L1323.2 827.4 L1324 828.5 L1324.8 828.6 L1325.6 829 L1326.4 829 L1327.2 829.3 L1328 826.7 L1328.8 827.6 L1329.6 827.1 L1330.4 827.1 L1331.2 826.9 L1332 827.6 L1332.8 827 L1333.6 828.2 L1334.4 828.9 L1335.2 828.1 L1336 828.8 L1336.8 826.2 L1337.6 827.7 L1338.4 828 L1339.2 828 L1340 827.3 L1340.8 828 L1341.6 828.7 L1342.4 827.8 L1343.2 828.3 L1344 828 L1344.8 828.8 L1345.6 826 L1346.4 826.8 L1347.2 829.8 L1348 828.8 L1348.8 827.1 L1349.6 827.5 L1350.4 827.6 L1351.2 829 L1352 827.3 L1352.8 827.6 L1353.6 828.3 L1354.4 827.9 L1355.2 828.8 L1356 826.3 L1356.8 827.5 L1357.6 828.9 L1358.4 830.1 L1359.2 829.7 L1360 829.2 L1360.8 828.3 L1361.6 827.2 L1362.4 829 L1363.2 828.8 L1364 828.5 L1364.8 828.5 L1365.6 828.4 L1366.4 827 L1367.2 828.7 L1368 828 L1368.8 828.8 L1369.6 826.9 L1370.4 826.9 L1371.2 828.6 L1372 826 L1372.8 828.2 L1373.6 829.1 L1374.4 828.3 L1375.2 827.2 L1376 830.7 L1376.8 829.1 L1377.6 827.8 L1378.4 827.2 L1379.2 827.7 L1380 827 L1380.8 827.9 L1381.6 828 L1382.4 829.3 L1383.2 828.3 L1384 828.4 L1384.8 828.5 L1385.6 827.5 L1386.4 828.4 L1387.2 828.8 L1388 828.9 L1388.8 828.6 L1389.6 828 L1390.4 828.9 L1391.2 827 L1392 827.9 L1392.8 827.4 L1393.6 827.7 L1394.4 826.8 L1395.2 829.3 L1396 827.7 L1396.8 828.8 L1397.6 827.6 L1398.4 828.7 L1399.2 826.7 L1400 828.2 L1400.8 829.1 L1401.6 829.3 L1402.4 827.9 L1403.2 829.1 L1404 829.6 L1404.8 828.2 L1405.6 829 L1406.4 828 L1407.2 828.8 L1408 827.1 L1408.8 827 L1409.6 827.3 L1410.4 830 L1411.2 830.4 L1412 828 L1412.8 827.7 L1413.6 830.6 L1414.4 829.6 L1415.2 830.1 L1416 828.6 L1416.8 828.8 L1417.6 829 L1418.4 828.4 L1419.2 829.1 L1420 831 L1420.8 828.9 L1421.6 827.9 L1422.4 827.5 L1423.2 828.3 L1424 828.9 L1424.8 829.3 L1425.6 828.3 L1426.4 827.8 L1427.2 827.6 L1428 828.1 L1428.8 828.2 L1429.6 829.6 L1430.4 828 L1431.2 827.3 L1432 828.1 L1432.8 825.4 L1433.6 828.3 L1434.4 827.5 L1435.2 826.2 L1436 826.5 L1436.8 826 L1437.6 827.5 L1438.4 827.7 L1439.2 827.8 L1440 828 L1440.8 827.8 L1441.6 828.8 L1442.4 827.4 L1443.2 829.3 L1444 827.8 L1444.8 827.8 L1445.6 828.2 L1446.4 830.2 L1447.2 827.7 L1448 826.5 L1448.8 828 L1449.6 826.3 L1450.4 829 L1451.2 829.3 L1452 828.6 L1452.8 828.5 L1453.6 828.2 L1454.4 829.6 L1455.2 828 L1456 828 L1456.8 830.2 L1457.6 828.6 L1458.4 830.7 L1459.2 828.4 L1460 827.9 L1460.8 828.8 L1461.6 829 L1462.4 828 L1463.2 830.4 L1464 829.4 L1464.8 829.5 L1465.6 829.2 L1466.4 828.5 L1467.2 829.9 L1468 828.7 L1468.8 827.6 L1469.6 827.7 L1470.4 828.2 L1471.2 828.1 L1472 828.5 L1472.8 827.4 L1473.6 827.1 L1474.4 828.8 L1475.2 828.5 L1476 829.5 L1476.8 828.5 L1477.6 830.7 L1478.4 828 L1479.2 828 L1480 827.7 L1480.8 828.3 L1481.6 829.1 L1482.4 828.7 L1483.2 828.4 L1484 829.4 L1484.8 829.1 L1485.6 827.3 L1486.4 826.8 L1487.2 827.6 L1488 827.1 L1488.8 827.5 L1489.6 828.6 L1490.4 826.9 L1491.2 827.7 L1492 828.9 L1492.8 828.8 L1493.6 828.1 L1494.4 827 L1495.2 828.4 L1496 828.6 L1496.8 828.9 L1497.6 828.5 L1498.4 827.4 L1499.2 826.5 L1500 828.2 L1500.8 829.6 L1501.6 828 L1502.4 828.4 L1503.2 830.5 L1504 828.2 L1504.8 828.7 L1505.6 829.2 L1506.4 829.7 L1507.2 828.2 L1508 828.5 L1508.8 830.2 L1509.6 829.6 L1510.4 829.9 L1511.2 829.9 L1512 830.1 L1512.8 828.9 L1513.6 829.2 L1514.4 827.4 L1515.2 829 L1516 827.5 L1516.8 829.2 L1517.6 829.4 L1518.4 828.5 L1519.2 828.5 L1520 831.9 L1520.8 829.9 L1521.6 829.3 L1522.4 828.4 L1523.2 826.7 L1524 827.8 L1524.8 829.9 L1525.6 830.2 L1526.4 829.1 L1527.2 828.3 L1528 829.6 L1528.8 829.9 L1529.6 827.9 L1530.4 827.6 L1531.2 828.9 L1532 829.6 L1532.8 829.7 L1533.6 829.7 L1534.4 829.1 L1535.2 830.7 L1536 830.1 L1536.8 829.3 L1537.6 828.9 L1538.4 829.1 L1539.2 829.6 L1540 827.8 L1540.8 828.7 L1541.6 828.8 L1542.4 830 L1543.2 829.6 L1544 829.5 L1544.8 828.9 L1545.6 830.9 L1546.4 829.2 L1547.2 829 L1548 828.8 L1548.8 829.8 L1549.6 829.3 L1550.4 829.1 L1551.2 828.9 L1552 829 L1552.8 829 L1553.6 829.6 L1554.4 829.2 L1555.2 828.7 L1556 829.6 L1556.8 829.3 L1557.6 829.5 L1558.4 830.8 L1559.2 828.3 L1560 829.9 L1560.8 828.4 L1561.6 829.4 L1562.4 828.1 L1563.2 829.3 L1564 829 L1564.8 828.3 L1565.6 829.8 L1566.4 829 L1567.2 829.1 L1568 828.5 L1568.8 829.9 L1569.6 829.6 L1570.4 829 L1571.2 830.1 L1572 829.3 L1572.8 829.4 L1573.6 828.8 L1574.4 830.2 L1575.2 830.8 L1576 829 L1576.8 829.1 L1577.6 830.2 L1578.4 830.6 L1579.2 829.8 L1580 830.1 L1580.8 827.9 L1581.6 828.3 L1582.4 830.6 L1583.2 828.9 L1584 828.5 L1584.8 829 L1585.6 830 L1586.4 829.9 L1587.2 830.4 L1588 829.6 L1588.8 830.1 L1589.6 830.1 L1590.4 829.5 L1591.2 830.7 L1592 829.4 L1592.8 828.2 L1593.6 828 L1594.4 827.4 L1595.2 829.7 L1596 828.6 L1596.8 828.8 L1597.6 828.9 L1598.4 831.1 L1599.2 830.8 L1600 828.8 L1600.8 828.9 L1601.6 829.4 L1602.4 829.6 L1603.2 829.4 L1604 829.1 L1604.8 829.8 L1605.6 830.9 L1606.4 830.9 L1607.2 830.2 L1608 830.9 L1608.8 830.3" fill="none" stroke="#1c1a1a" stroke-width="4.2" stroke-linejoin="round" stroke-linecap="round" />
<path d="M1029.8 826.5 L1030.2 826.5 L1030.6 827.8 L1031.1 825.7 L1031.5 827.2 L1031.9 825.7 L1032.3 828.1 L1032.7 827.4 L1033.2 828.2 L1033.6 826.9 L1034 827.6 L1034.4 827.1 L1034.8 826.8 L1035.3 827.4 L1035.7 826.4 L1036.1 827.1 L1036.5 827.8 L1036.9 827.3 L1037.4 827 L1037.8 828.8 L1038.2 827.3 L1038.6 826.9 L1039 827.4 L1039.5 826.9 L1039.9 827 L1040.3 827.1 L1040.7 828.7 L1041.1 827.3 L1041.6 827.4 L1042 827.8 L1042.4 828.7 L1042.8 827.1 L1043.2 826.1 L1043.7 817.2 L1044.1 813.4 L1044.5 803.7 L1044.9 800.2 L1045.3 796.2 L1045.8 791.6 L1046.2 788.4 L1046.6 783.5 L1047 780.6 L1047.4 775.5 L1047.9 774.7 L1048.3 770.3 L1048.7 768.1 L1049.1 763.4 L1049.5 763.9 L1050 762.7 L1050.4 759.6 L1050.8 761 L1051.2 758.6 L1051.6 753.7 L1052.1 754.9 L1052.5 751.7 L1052.9 752.8 L1053.3 747.1 L1053.7 750.5 L1054.2 749.6 L1054.6 744.9 L1055 749.9 L1055.4 745 L1055.8 745.7 L1056.3 744.7 L1056.7 737 L1057.1 743.4 L1057.5 742.4 L1057.9 742.9 L1058.4 738.7 L1058.8 740.8 L1059.2 742.1 L1059.6 740.7 L1060 738.5 L1060.5 732.8 L1060.9 734.7 L1061.3 739.6 L1061.7 742 L1062.1 740 L1062.6 737.2 L1063 736.6 L1063.4 736.3 L1063.8 735.4 L1064.2 735.4 L1064.7 739.7 L1065.1 731.9 L1065.5 732.1 L1065.9 733.3 L1066.3 724.6 L1066.8 735.3 L1067.2 724.5 L1067.6 723.8 L1068 732.6 L1068.4 731.9 L1068.9 721.2 L1069.3 735.6 L1069.7 721.1 L1070.1 725.9 L1070.5 731.4 L1071 725.4 L1071.4 716.3 L1071.8 726.9 L1072.2 712.6 L1072.6 727.2 L1073.1 714.9 L1073.5 719.3 L1073.9 719.2 L1074.3 728.1 L1074.7 717.8 L1075.2 711.6 L1075.6 715.5 L1076 711.4 L1076.4 712.6 L1076.8 709.6 L1077.3 708.3 L1077.7 715.5 L1078.1 716.6 L1078.5 722 L1078.9 711.5 L1079.4 712.6 L1079.8 712.8 L1080.2 714.6 L1080.6 712.2 L1081 710.9 L1081.5 702.8 L1081.9 722.1 L1082.3 708.4 L1082.7 714.5 L1083.1 716.8 L1083.6 709 L1084 704.9 L1084.4 704.6 L1084.8 697 L1085.2 698.7 L1085.7 697 L1086.1 708.5 L1086.5 699.9 L1086.9 702.1 L1087.3 702.4 L1087.8 706.5 L1088.2 713.2 L1088.6 704.7 L1089 697 L1089.4 711 L1089.9 711.7 L1090.3 705.6 L1090.7 704.7 L1091.1 704.9 L1091.5 707.9 L1092 711.5 L1092.4 708.4 L1092.8 716.8 L1093.2 716.6 L1093.6 711.2 L1094.1 697 L1094.5 711.1 L1094.9 726.2 L1095.3 705 L1095.7 714.1 L1096.2 710.2 L1096.6 704.9 L1097 701.7 L1097.4 705.7 L1097.8 703.3 L1098.3 707.3 L1098.7 716.6 L1099.1 709.1 L1099.5 698.3 L1099.9 709.5 L1100.4 711 L1100.8 701.8 L1101.2 710 L1101.6 712 L1102 698.2 L1102.5 707.9 L1102.9 710.3 L1103.3 702.4 L1103.7 718.4 L1104.1 712.6 L1104.6 700 L1105 718.6 L1105.4 705.1 L1105.8 707.5 L1106.2 705.8 L1106.7 714.1 L1107.1 704.2 L1107.5 719.7 L1107.9 697.3 L1108.3 710.3 L1108.8 707.8 L1109.2 708.9 L1109.6 707.1 L1110 697 L1110.4 706.2 L1110.9 724.5 L1111.3 717.8 L1111.7 711.7 L1112.1 708 L1112.5 714.3 L1113 711.2 L1113.4 703.8 L1113.8 706.7 L1114.2 711.2 L1114.6 703.2 L1115.1 706.2 L1115.5 713.5 L1115.9 718.5 L1116.3 708.2 L1116.7 704.4 L1117.2 716.5 L1117.6 719.4 L1118 707 L1118.4 714.2 L1118.8 703.1 L1119.3 697.4 L1119.7 713.6 L1120.1 710.6 L1120.5 705.4 L1120.9 703.3 L1121.4 719.5 L1121.8 711.6 L1122.2 711.2 L1122.6 707.8 L1123 714.4 L1123.5 710.2 L1123.9 708.6 L1124.3 706.8 L1124.7 717.7 L1125.1 706.5 L1125.6 712.9 L1126 702.1 L1126.4 704.1 L1126.8 704.8 L1127.2 705.6 L1127.7 703.5 L1128.1 711.7 L1128.5 712.6 L1128.9 706.1 L1129.3 711 L1129.8 712.3 L1130.2 703.9 L1130.6 709.3 L1131 712.3 L1131.4 713.3 L1131.9 706 L1132.3 714.3 L1132.7 713.9 L1133.1 717.1 L1133.5 714 L1134 721.6 L1134.4 699.4 L1134.8 710.3 L1135.2 715.2 L1135.6 718.1 L1136.1 703.8 L1136.5 709.5 L1136.9 710.9 L1137.3 717.4 L1137.7 710.7 L1138.2 706.8 L1138.6 697 L1139 710.4 L1139.4 697 L1139.8 699 L1140.3 705 L1140.7 711 L1141.1 707.5 L1141.5 698 L1141.9 703 L1142.4 705.7 L1142.8 700.2 L1143.2 704.5 L1143.6 707.8 L1144 707 L1144.5 712.7 L1144.9 707.8 L1145.3 712.1 L1145.7 715.7 L1146.1 712.4 L1146.6 711.1 L1147 714.3 L1147.4 705.2 L1147.8 706.2 L1148.2 711.8 L1148.7 710.6 L1149.1 715.9 L1149.5 697 L1149.9 715.7 L1150.3 704.4 L1150.8 713.3 L1151.2 716.7 L1151.6 705.1 L1152 712.9 L1152.4 713.6 L1152.9 713.7 L1153.3 712.2 L1153.7 707.5 L1154.1 715.3 L1154.5 711.8 L1155 711.8 L1155.4 700 L1155.8 703.6 L1156.2 700.7 L1156.6 713.1 L1157.1 697 L1157.5 697 L1157.9 720 L1158.3 709.6 L1158.7 709.3 L1159.2 718 L1159.6 710 L1160 698.7 L1160.4 708.3 L1160.8 713.2 L1161.3 697 L1161.7 705.9 L1162.1 711.4 L1162.5 709.5 L1162.9 700.7 L1163.4 704.2 L1163.8 706.1 L1164.2 699.4 L1164.6 703.4 L1165 712.8 L1165.5 705.4 L1165.9 711.6 L1166.3 697 L1166.7 703.1 L1167.1 704.8 L1167.6 700.3 L1168 715.3 L1168.4 711.9 L1168.8 710.1 L1169.2 711.1 L1169.7 712.6 L1170.1 704.9 L1170.5 702.3 L1170.9 711.4 L1171.3 707.2 L1171.8 701.4 L1172.2 711.2 L1172.6 702.3 L1173 710.8 L1173.4 717.2 L1173.9 708.4 L1174.3 705.3 L1174.7 697.8 L1175.1 700.7 L1175.5 710.1 L1176 707.7 L1176.4 715.1 L1176.8 710.2 L1177.2 714.8 L1177.6 708.9 L1178.1 717.4 L1178.5 697 L1178.9 697 L1179.3 702 L1179.7 711.5 L1180.2 697 L1180.6 707 L1181 708.4 L1181.4 698.3 L1181.8 698.2 L1182.3 702.4 L1182.7 702.2 L1183.1 697 L1183.5 702.7 L1183.9 697 L1184.4 697 L1184.8 714.8 L1185.2 704 L1185.6 706.7 L1186 708.5 L1186.5 710.6 L1186.9 697 L1187.3 702.7 L1187.7 709.8 L1188.1 699.1 L1188.6 700.6 L1189 704.5 L1189.4 712.7 L1189.8 697 L1190.2 715.6 L1190.7 702.2 L1191.1 711.6 L1191.5 697 L1191.9 701.6 L1192.3 711.9 L1192.8 705.2 L1193.2 717.7 L1193.6 707.9 L1194 709.9 L1194.4 704.6 L1194.9 712.7 L1195.3 702 L1195.7 697 L1196.1 711.1 L1196.5 697 L1197 720.9 L1197.4 697 L1197.8 718.4 L1198.2 701.4 L1198.6 711.3 L1199.1 711.3 L1199.5 717.3 L1199.9 717.6 L1200.3 697.4 L1200.7 700.1 L1201.2 704.1 L1201.6 697.8 L1202 712.9 L1202.4 713.2 L1202.8 716.1 L1203.3 699.6 L1203.7 714.2 L1204.1 708.1 L1204.5 717 L1204.9 717.3 L1205.4 708.3 L1205.8 707.2 L1206.2 697.1 L1206.6 711.5 L1207 708.4 L1207.5 697 L1207.9 710.9 L1208.3 706 L1208.7 697.4 L1209.1 712.3 L1209.6 699.9 L1210 709.9 L1210.4 718.1 L1210.8 710.8 L1211.2 713.6 L1211.7 709.1 L1212.1 719.3 L1212.5 712.8 L1212.9 708.6 L1213.3 702.7 L1213.8 710.4 L1214.2 710.9 L1214.6 708.6 L1215 727.9 L1215.4 711.3 L1215.9 711.9 L1216.3 707.1 L1216.7 709.7 L1217.1 716.4 L1217.5 711.6 L1218 703 L1218.4 707.2 L1218.8 711.7 L1219.2 716 L1219.6 697 L1220.1 725.4 L1220.5 697 L1220.9 718.1 L1221.3 715.4 L1221.7 707 L1222.2 709.3 L1222.6 707.3 L1223 703 L1223.4 713.4 L1223.8 710.4 L1224.3 699.9 L1224.7 710 L1225.1 697 L1225.5 707.1 L1225.9 725.1 L1226.4 708.9 L1226.8 716.6 L1227.2 721.3 L1227.6 717.4 L1228 716.2 L1228.5 708.7 L1228.9 712.5 L1229.3 704.9 L1229.7 715.4 L1230.1 698.9 L1230.6 717 L1231 716.7 L1231.4 704.2 L1231.8 708.1 L1232.2 708.7 L1232.7 711.4 L1233.1 698.5 L1233.5 710.2 L1233.9 709.8 L1234.3 709.3 L1234.8 715.2 L1235.2 697 L1235.6 712.6 L1236 697 L1236.4 701.8 L1236.9 712.2 L1237.3 707.3 L1237.7 710.9 L1238.1 705.4 L1238.5 704.6 L1239 701.8 L1239.4 711.5 L1239.8 706 L1240.2 713.4 L1240.6 707.5 L1241.1 709.6 L1241.5 705.8 L1241.9 718.9 L1242.3 701.4 L1242.7 698.8 L1243.2 713 L1243.6 712.3 L1244 702.2 L1244.4 705.2 L1244.8 709.8 L1245.3 699.1 L1245.7 708.4 L1246.1 701.4 L1246.5 707.4 L1246.9 706.7 L1247.4 698.9 L1247.8 704.8 L1248.2 707.3 L1248.6 713.6 L1249 711.1 L1249.5 711.1 L1249.9 702.5 L1250.3 714.7 L1250.7 707.7 L1251.1 705.2 L1251.6 710.9 L1252 702.1 L1252.4 706.6 L1252.8 715.4 L1253.2 728 L1253.7 714.1 L1254.1 713.2 L1254.5 714.3 L1254.9 706.1 L1255.3 716.4 L1255.8 702.8 L1256.2 701.4 L1256.6 713 L1257 708.1 L1257.4 703.3 L1257.9 701.9 L1258.3 697 L1258.7 711.6 L1259.1 715 L1259.5 705.4 L1260 700.9 L1260.4 707.6 L1260.8 702.3 L1261.2 715.5 L1261.6 702.4 L1262.1 717.7 L1262.5 717.6 L1262.9 705.5 L1263.3 713.6 L1263.7 711.8 L1264.2 703.1 L1264.6 708.5 L1265 714.3 L1265.4 707 L1265.8 706.9 L1266.3 716.9 L1266.7 714 L1267.1 709.4 L1267.5 717.6 L1267.9 706.9 L1268.4 714 L1268.8 709.8 L1269.2 712.1 L1269.6 712.9 L1270 715 L1270.5 704.9 L1270.9 712.4 L1271.3 707.1 L1271.7 714.5 L1272.1 705.4 L1272.6 700.8 L1273 710.7 L1273.4 706.8 L1273.8 713.6 L1274.2 703.7 L1274.7 718.5 L1275.1 715.1 L1275.5 697.8 L1275.9 711.2 L1276.3 697 L1276.8 724.1 L1277.2 712.9 L1277.6 714.5 L1278 699.9 L1278.4 719.2 L1278.9 716.3 L1279.3 717.1 L1279.7 715.3 L1280.1 720.7 L1280.5 719.9 L1281 705 L1281.4 701.1 L1281.8 718.2 L1282.2 709.6 L1282.6 714.9 L1283.1 711.2 L1283.5 701.2 L1283.9 710.5 L1284.3 709.3 L1284.7 703.8 L1285.2 717 L1285.6 704.6 L1286 701.9 L1286.4 700.4 L1286.8 706 L1287.3 709.9 L1287.7 698.5 L1288.1 708.4 L1288.5 707.6 L1288.9 712.9 L1289.4 708.9 L1289.8 724.3 L1290.2 705 L1290.6 706.3 L1291 711.2 L1291.5 701.9 L1291.9 701.3 L1292.3 711.3 L1292.7 702.1 L1293.1 701.1 L1293.6 710.5 L1294 709.5 L1294.4 704.4 L1294.8 708.3 L1295.2 704.7 L1295.7 709.2 L1296.1 700 L1296.5 707.2 L1296.9 697 L1297.3 697.6 L1297.8 698.8 L1298.2 699 L1298.6 710.2 L1299 708.6 L1299.4 712.1 L1299.9 714.1 L1300.3 713.1 L1300.7 711.4 L1301.1 721.6 L1301.5 713.1 L1302 707.6 L1302.4 707 L1302.8 715.2 L1303.2 711.5 L1303.6 712.6 L1304.1 697 L1304.5 697.4 L1304.9 698.1 L1305.3 702.6 L1305.7 700.4 L1306.2 702.5 L1306.6 711 L1307 713.8 L1307.4 697.7 L1307.8 717 L1308.3 703.7 L1308.7 715.5 L1309.1 712.8 L1309.5 710.6 L1309.9 716.2 L1310.4 710.7 L1310.8 703 L1311.2 703.4 L1311.6 707.8 L1312 709.8 L1312.5 713.5 L1312.9 702.1 L1313.3 703 L1313.7 706.5 L1314.1 709.6 L1314.6 713.2 L1315 705.5 L1315.4 722 L1315.8 714.2 L1316.2 720.8 L1316.7 708.5 L1317.1 703 L1317.5 721.9 L1317.9 703.6 L1318.3 706.1 L1318.8 708.7 L1319.2 697 L1319.6 706.4 L1320 706.4 L1320.4 708.1 L1320.9 714.2 L1321.3 712.3 L1321.7 713.6 L1322.1 711.6 L1322.5 706.6 L1323 713.2 L1323.4 708.8 L1323.8 713.6 L1324.2 702.1 L1324.6 718.5 L1325.1 719.2 L1325.5 712.5 L1325.9 710.6 L1326.3 714.1 L1326.7 701.7 L1327.2 715.4 L1327.6 701.7 L1328 711.2 L1328.4 702.9 L1328.8 708.9 L1329.3 711.3 L1329.7 712 L1330.1 699.4 L1330.5 712.4 L1330.9 703.7 L1331.4 714.2 L1331.8 705.6 L1332.2 712.9 L1332.6 717.9 L1333 710.4 L1333.5 714.4 L1333.9 700.9 L1334.3 698.9 L1334.7 699.3 L1335.1 716.1 L1335.6 717.4 L1336 719.1 L1336.4 717.7 L1336.8 704.6 L1337.2 718.1 L1337.7 709.6 L1338.1 698.3 L1338.5 710.5 L1338.9 715.8 L1339.3 707.1 L1339.8 719.7 L1340.2 712.7 L1340.6 710 L1341 712.6 L1341.4 705 L1341.9 708.5 L1342.3 706.5 L1342.7 701.1 L1343.1 714.7 L1343.5 721.5 L1344 710.8 L1344.4 716.8 L1344.8 710.3 L1345.2 709.3 L1345.6 717.9 L1346.1 711.4 L1346.5 730.2 L1346.9 715.9 L1347.3 712.7 L1347.7 712.1 L1348.2 707.2 L1348.6 708.3 L1349 718.5 L1349.4 715.7 L1349.8 705.6 L1350.3 714.5 L1350.7 703.7 L1351.1 703.1 L1351.5 710.3 L1351.9 720.2 L1352.4 715.7 L1352.8 721.4 L1353.2 715.7 L1353.6 720.3 L1354 712.1 L1354.5 704.8 L1354.9 710.6 L1355.3 717.1 L1355.7 701.8 L1356.1 706.5 L1356.6 712.9 L1357 709 L1357.4 712.3 L1357.8 716.8 L1358.2 703.5 L1358.7 722.2 L1359.1 726.7 L1359.5 718.5 L1359.9 700.8 L1360.3 711.2 L1360.8 701.5 L1361.2 711.8 L1361.6 710.6 L1362 716.2 L1362.4 715.8 L1362.9 706 L1363.3 716 L1363.7 700.5 L1364.1 711.8 L1364.5 707.4 L1365 702.6 L1365.4 707.7 L1365.8 708.1 L1366.2 704.7 L1366.6 704.9 L1367.1 706.6 L1367.5 712.1 L1367.9 704.9 L1368.3 714.5 L1368.7 704.8 L1369.2 711.6 L1369.6 702.1 L1370 714.8 L1370.4 706.8 L1370.8 697 L1371.3 706.4 L1371.7 697 L1372.1 704.1 L1372.5 704.1 L1372.9 713.4 L1373.4 710.7 L1373.8 697 L1374.2 699.2 L1374.6 697 L1375 713.9 L1375.5 702.6 L1375.9 699.5 L1376.3 704.2 L1376.7 697 L1377.1 705.4 L1377.6 704.6 L1378 702.1 L1378.4 697 L1378.8 709.7 L1379.2 697 L1379.7 697 L1380.1 710.9 L1380.5 697 L1380.9 702 L1381.3 703.3 L1381.8 711.1 L1382.2 701.6 L1382.6 715.4 L1383 702 L1383.4 697 L1383.9 697 L1384.3 702.7 L1384.7 697 L1385.1 709.5 L1385.5 711.4 L1386 705.7 L1386.4 702.8 L1386.8 717.2 L1387.2 715.5 L1387.6 697.6 L1388.1 704.3 L1388.5 710.2 L1388.9 704.1 L1389.3 709.5 L1389.7 697 L1390.2 709 L1390.6 714.2 L1391 704.9 L1391.4 703.2 L1391.8 714.7 L1392.3 710.4 L1392.7 697.3 L1393.1 702.2 L1393.5 706.2 L1393.9 703 L1394.4 708.3 L1394.8 708.6 L1395.2 697 L1395.6 710.1 L1396 711.5 L1396.5 706.5 L1396.9 708.9 L1397.3 712.2 L1397.7 712.4 L1398.1 709.8 L1398.6 706.3 L1399 719.8 L1399.4 715.8 L1399.8 712.1 L1400.2 709.8 L1400.7 707.3 L1401.1 700.9 L1401.5 711.1 L1401.9 709.2 L1402.3 709 L1402.8 702.5 L1403.2 714.3 L1403.6 708 L1404 701.9 L1404.4 709.9 L1404.9 703.6 L1405.3 719.8 L1405.7 714.8 L1406.1 707.6 L1406.5 714.5 L1407 704.6 L1407.4 717.6 L1407.8 716.7 L1408.2 720.5 L1408.6 705.5 L1409.1 713.8 L1409.5 726.9 L1409.9 708.6 L1410.3 711 L1410.7 714.6 L1411.2 710.3 L1411.6 712.7 L1412 720 L1412.4 703.6 L1412.8 714.2 L1413.3 720.6 L1413.7 719.7 L1414.1 713.7 L1414.5 721.3 L1414.9 711.8 L1415.4 698.5 L1415.8 718.8 L1416.2 718.8 L1416.6 704.2 L1417 709.7 L1417.5 707.4 L1417.9 719.2 L1418.3 715.8 L1418.7 711 L1419.1 721.3 L1419.6 727 L1420 714.5 L1420.4 704.7 L1420.8 718.2 L1421.2 725.8 L1421.7 719.9 L1422.1 723.8 L1422.5 713.5 L1422.9 706 L1423.3 711.3 L1423.8 698.4 L1424.2 706.7 L1424.6 702.6 L1425 720.2 L1425.4 714.6 L1425.9 707.2 L1426.3 714.4 L1426.7 715.2 L1427.1 718.9 L1427.5 698.6 L1428 707.3 L1428.4 712 L1428.8 706.4 L1429.2 725.1 L1429.6 702.8 L1430.1 720.8 L1430.5 719.9 L1430.9 704.2 L1431.3 716.5 L1431.7 709.9 L1432.2 711.8 L1432.6 705.3 L1433 711.7 L1433.4 704.6 L1433.8 708.9 L1434.3 697 L1434.7 710.8 L1435.1 711.1 L1435.5 700.8 L1435.9 723.4 L1436.4 708 L1436.8 706.2 L1437.2 707 L1437.6 717.8 L1438 712.2 L1438.5 699.1 L1438.9 702.8 L1439.3 719.3 L1439.7 720.9 L1440.1 705.2 L1440.6 711.6 L1441 702.6 L1441.4 711.6 L1441.8 704.4 L1442.2 708.3 L1442.7 720 L1443.1 700.3 L1443.5 704.1 L1443.9 700.5 L1444.3 711.1 L1444.8 701.5 L1445.2 709.3 L1445.6 715.8 L1446 700.4 L1446.4 701.8 L1446.9 716.2 L1447.3 699.9 L1447.7 705.7 L1448.1 702.2 L1448.5 702.7 L1449 698.2 L1449.4 704.5 L1449.8 697.9 L1450.2 706.9 L1450.6 709.4 L1451.1 704.6 L1451.5 704.1 L1451.9 724 L1452.3 706.9 L1452.7 710.9 L1453.2 719.9 L1453.6 720.1 L1454 699.8 L1454.4 718.1 L1454.8 702.5 L1455.3 717.4 L1455.7 706.5 L1456.1 713.1 L1456.5 707.5 L1456.9 709.9 L1457.4 717.9 L1457.8 714.6 L1458.2 704.8 L1458.6 705.2 L1459 700.7 L1459.5 702.1 L1459.9 706.3 L1460.3 719.5 L1460.7 709.5 L1461.1 705.1 L1461.6 703.1 L1462 713.7 L1462.4 700.4 L1462.8 711.7 L1463.2 721.8 L1463.7 710 L1464.1 709.4 L1464.5 715.3 L1464.9 704.1 L1465.3 711.5 L1465.8 718.9 L1466.2 714.5 L1466.6 706.9 L1467 706.9 L1467.4 707.1 L1467.9 712.3 L1468.3 726.7 L1468.7 717.9 L1469.1 707.4 L1469.5 716.1 L1470 714.2 L1470.4 712.9 L1470.8 701.2 L1471.2 714 L1471.6 711.7 L1472.1 709.8 L1472.5 707.4 L1472.9 702.8 L1473.3 697 L1473.7 707.8 L1474.2 707.2 L1474.6 706 L1475 709.2 L1475.4 703.9 L1475.8 704 L1476.3 711.9 L1476.7 718.2 L1477.1 716.9 L1477.5 711.3 L1477.9 701.6 L1478.4 702 L1478.8 697 L1479.2 702.1 L1479.6 708.3 L1480 703.9 L1480.5 716.3 L1480.9 706.1 L1481.3 707.5 L1481.7 707.2 L1482.1 711.3 L1482.6 701 L1483 712.1 L1483.4 712.6 L1483.8 718.8 L1484.2 713.8 L1484.7 707 L1485.1 701.2 L1485.5 703 L1485.9 705.2 L1486.3 713.2 L1486.8 718.4 L1487.2 712.4 L1487.6 705.2 L1488 716.5 L1488.4 702.8 L1488.9 714.6 L1489.3 709 L1489.7 703.7 L1490.1 714.3 L1490.5 707.4 L1491 709 L1491.4 697 L1491.8 701.9 L1492.2 712.8 L1492.6 705 L1493.1 703.7 L1493.5 713.3 L1493.9 698.2 L1494.3 711.1 L1494.7 699.5 L1495.2 713.4 L1495.6 710.6 L1496 701.1 L1496.4 702.8 L1496.8 700.3 L1497.3 720.8 L1497.7 714.2 L1498.1 714 L1498.5 707 L1498.9 722.2 L1499.4 707.9 L1499.8 700.2 L1500.2 718.9 L1500.6 707.5 L1501 701.1 L1501.5 708.8 L1501.9 703.4 L1502.3 715.9 L1502.7 706.3 L1503.1 723.3 L1503.6 708.2 L1504 718.1 L1504.4 714.1 L1504.8 707.2 L1505.2 701.4 L1505.7 712.8 L1506.1 727.5 L1506.5 697.3 L1506.9 715.9 L1507.3 706 L1507.8 713.3 L1508.2 700 L1508.6 704.6 L1509 711.4 L1509.4 711.7 L1509.9 711.9 L1510.3 705 L1510.7 697 L1511.1 719.2 L1511.5 706.4 L1512 702.1 L1512.4 707.9 L1512.8 699.2 L1513.2 703.9 L1513.6 700.9 L1514.1 719.7 L1514.5 705.4 L1514.9 703.5 L1515.3 697 L1515.7 714.9 L1516.2 705 L1516.6 700.9 L1517 699.6 L1517.4 697 L1517.8 711.5 L1518.3 711.7 L1518.7 710.7 L1519.1 706.5 L1519.5 705.6 L1519.9 697 L1520.4 706.7 L1520.8 697 L1521.2 711.5 L1521.6 705.3 L1522 712.4 L1522.5 708.6 L1522.9 701.9 L1523.3 698.3 L1523.7 702.2 L1524.1 700.8 L1524.6 702.4 L1525 697 L1525.4 697 L1525.8 710.3 L1526.2 718.7 L1526.7 707.7 L1527.1 713.2 L1527.5 703.5 L1527.9 707.6 L1528.3 715.8 L1528.8 708.3 L1529.2 704.2 L1529.6 705.8 L1530 702.6 L1530.4 709.2 L1530.9 698.7 L1531.3 697 L1531.7 718.1 L1532.1 711.6 L1532.5 697 L1533 714.3 L1533.4 701.9 L1533.8 713 L1534.2 719.2 L1534.6 697 L1535.1 713.6 L1535.5 710.2 L1535.9 705.3 L1536.3 703.1 L1536.7 708.1 L1537.2 711.9 L1537.6 701.7 L1538 697 L1538.4 700.1 L1538.8 701 L1539.3 715.8 L1539.7 706.6 L1540.1 713.5 L1540.5 712.1 L1540.9 711.9 L1541.4 703.7 L1541.8 710.2 L1542.2 702.1 L1542.6 698.8 L1543 717.8 L1543.5 714.7 L1543.9 708.9 L1544.3 698.8 L1544.7 711.7 L1545.1 720.3 L1545.6 704.6 L1546 708.1 L1546.4 699.5 L1546.8 701.1 L1547.2 709.6 L1547.7 716.8 L1548.1 711.2 L1548.5 708.2 L1548.9 705.8 L1549.3 703.3 L1549.8 713 L1550.2 708.5 L1550.6 722.9 L1551 706.8 L1551.4 706.3 L1551.9 702.5 L1552.3 709.9 L1552.7 702.6 L1553.1 706.7 L1553.5 708.9 L1554 709.7 L1554.4 711.9 L1554.8 714.7 L1555.2 715.8 L1555.6 714.3 L1556.1 715.7 L1556.5 719.5 L1556.9 715.6 L1557.3 716.5 L1557.7 716.7 L1558.2 714.4 L1558.6 700.5 L1559 720.2 L1559.4 712.3 L1559.8 718 L1560.3 709.9 L1560.7 699.4 L1561.1 709.9 L1561.5 713.1 L1561.9 712.4 L1562.4 710.6 L1562.8 710.1 L1563.2 710 L1563.6 705 L1564 716.8 L1564.5 710 L1564.9 722.2 L1565.3 707.4 L1565.7 709.7 L1566.1 705.9 L1566.6 702.9 L1567 698.7 L1567.4 699.1 L1567.8 701.6 L1568.2 705.2 L1568.7 705.3 L1569.1 706.8 L1569.5 697 L1569.9 697 L1570.3 709.5 L1570.8 716.2 L1571.2 712.7 L1571.6 719.8 L1572 713.3 L1572.4 701.3 L1572.9 710.6 L1573.3 705.8 L1573.7 705 L1574.1 697 L1574.5 708.7 L1575 707.1 L1575.4 700.3 L1575.8 697 L1576.2 697 L1576.6 715.6 L1577.1 701.8 L1577.5 700.5 L1577.9 705 L1578.3 699.5 L1578.7 697 L1579.2 704.5 L1579.6 706.3 L1580 697 L1580.4 706.5 L1580.8 706.4 L1581.3 707.8 L1581.7 717.6 L1582.1 697 L1582.5 711.1 L1582.9 697 L1583.4 705.5 L1583.8 709 L1584.2 702.2 L1584.6 697 L1585 708.2 L1585.5 697 L1585.9 707.8 L1586.3 699.4 L1586.7 710.5 L1587.1 697 L1587.6 702.4 L1588 706.1 L1588.4 712.5 L1588.8 705.7 L1589.2 709.3 L1589.7 709.7 L1590.1 713.4 L1590.5 705.4 L1590.9 711.8 L1591.3 708.4 L1591.8 713.2 L1592.2 717 L1592.6 740.3 L1593 763.6 L1593.4 786.9 L1593.9 810.1 L1594.3 827.4 L1594.7 829.9 L1595.1 830.1 L1595.5 829.2 L1596 831.6 L1596.4 831.9 L1596.8 828.8 L1597.2 831.2 L1597.6 828.1 L1598.1 832.5 L1598.5 831.2 L1598.9 828.5 L1599.3 830.6 L1599.7 830.2 L1600.2 828.7 L1600.6 827.3 L1601 829 L1601.4 830.9 L1601.8 830.8 L1602.3 829.9 L1602.7 830 L1603.1 827.9 L1603.5 828.4 L1603.9 829.5 L1604.4 828.9 L1604.8 827.7 L1605.2 827.2 L1605.6 831.1 L1606 829.1 L1606.5 829.9 L1606.9 827.7 L1607.3 827.3 L1607.7 830.7 L1608.1 829.8 L1608.6 830.7 L1609 828 L1609.4 828.6" fill="none" stroke="#bb66a4" stroke-width="3.4" stroke-linejoin="round" stroke-linecap="round" />
<path d="M1030 825.8 L1030.8 824.7 L1031.6 823.2 L1032.4 823.1 L1033.2 824 L1034 824.1 L1034.8 824.4 L1035.6 823.7 L1036.4 822.3 L1037.2 823.2 L1038 823.8 L1038.8 823 L1039.6 824.4 L1040.4 823.9 L1041.2 822.5 L1042 823.1 L1042.8 822 L1043.6 822.3 L1044.4 822.8 L1045.2 823.8 L1046 823.9 L1046.8 824 L1047.6 824.5 L1048.4 822.3 L1049.2 822.8 L1050 823.3 L1050.8 823.7 L1051.6 823.6 L1052.4 823.9 L1053.2 823.9 L1054 821.6 L1054.8 821 L1055.6 824.1 L1056.4 824.6 L1057.2 825.6 L1058 823.1 L1058.8 824 L1059.6 820.8 L1060.4 822.5 L1061.2 823.9 L1062 823.6 L1062.8 822.7 L1063.6 825.1 L1064.4 823.9 L1065.2 822.9 L1066 821.5 L1066.8 822.7 L1067.6 823.9 L1068.4 822.5 L1069.2 823.7 L1070 822.9 L1070.8 822.4 L1071.6 822.4 L1072.4 822.6 L1073.2 823 L1074 821.4 L1074.8 823.6 L1075.6 822.7 L1076.4 823.3 L1077.2 823.5 L1078 822.1 L1078.8 823 L1079.6 822.1 L1080.4 822.8 L1081.2 822 L1082 824.1 L1082.8 824.1 L1083.6 824.1 L1084.4 823.4 L1085.2 823.1 L1086 822.8 L1086.8 822.1 L1087.6 822.5 L1088.4 824.9 L1089.2 824.6 L1090 824 L1090.8 822.9 L1091.6 822.9 L1092.4 822.7 L1093.2 822.8 L1094 822 L1094.8 822 L1095.6 823.2 L1096.4 824.1 L1097.2 823.8 L1098 823.4 L1098.8 823.3 L1099.6 822.8 L1100.4 823.9 L1101.2 824.2 L1102 825.2 L1102.8 825.8 L1103.6 824.3 L1104.4 825.2 L1105.2 825.6 L1106 823.4 L1106.8 823.8 L1107.6 825.1 L1108.4 825.7 L1109.2 825.1 L1110 825.7 L1110.8 825.7 L1111.6 823.3 L1112.4 822.5 L1113.2 824.2 L1114 823.4 L1114.8 824.2 L1115.6 824.5 L1116.4 823.5 L1117.2 823 L1118 824.3 L1118.8 823.3 L1119.6 823.6 L1120.4 823.2 L1121.2 826.4 L1122 825.4 L1122.8 824.6 L1123.6 825.1 L1124.4 824 L1125.2 823.3 L1126 823.4 L1126.8 823.4 L1127.6 824.3 L1128.4 823.4 L1129.2 823.3 L1130 823.2 L1130.8 824.2 L1131.6 825.1 L1132.4 823.5 L1133.2 822.1 L1134 824.6 L1134.8 823.7 L1135.6 824.2 L1136.4 823.6 L1137.2 824.6 L1138 825.5 L1138.8 823.8 L1139.6 823.7 L1140.4 823.4 L1141.2 822.6 L1142 822.9 L1142.8 824.4 L1143.6 824.8 L1144.4 823.6 L1145.2 823.7 L1146 823.1 L1146.8 822.2 L1147.6 823.3 L1148.4 822.6 L1149.2 823.7 L1150 824 L1150.8 824.1 L1151.6 824.3 L1152.4 823 L1153.2 823.2 L1154 825.5 L1154.8 825.5 L1155.6 824.5 L1156.4 824.2 L1157.2 825 L1158 823.2 L1158.8 820.7 L1159.6 821.4 L1160.4 823.3 L1161.2 823.3 L1162 823.6 L1162.8 823.5 L1163.6 823.1 L1164.4 823.3 L1165.2 823.8 L1166 822.3 L1166.8 823.3 L1167.6 824.3 L1168.4 822.9 L1169.2 821.2 L1170 821.2 L1170.8 823.5 L1171.6 822.7 L1172.4 823.4 L1173.2 823.8 L1174 823.7 L1174.8 821.1 L1175.6 821.8 L1176.4 821 L1177.2 821.4 L1178 820.7 L1178.8 822.8 L1179.6 822.8 L1180.4 823.5 L1181.2 825 L1182 824.4 L1182.8 823 L1183.6 820.4 L1184.4 822.2 L1185.2 822.8 L1186 823.7 L1186.8 823.9 L1187.6 823.3 L1188.4 820.7 L1189.2 822.5 L1190 823.5 L1190.8 822 L1191.6 822.4 L1192.4 823.4 L1193.2 822.9 L1194 823 L1194.8 823.7 L1195.6 821.5 L1196.4 821.4 L1197.2 821.4 L1198 823.5 L1198.8 823.4 L1199.6 824.1 L1200.4 823.2 L1201.2 822.8 L1202 821.1 L1202.8 823.5 L1203.6 823.4 L1204.4 822.7 L1205.2 820.5 L1206 821.2 L1206.8 820.6 L1207.6 820.9 L1208.4 821.4 L1209.2 822.1 L1210 823.4 L1210.8 822.8 L1211.6 821.9 L1212.4 823.9 L1213.2 822.1 L1214 822.4 L1214.8 822.1 L1215.6 823.5 L1216.4 823.4 L1217.2 824 L1218 822.8 L1218.8 824.9 L1219.6 822.1 L1220.4 822.9 L1221.2 822.3 L1222 822.2 L1222.8 821.1 L1223.6 822.1 L1224.4 821.7 L1225.2 822.2 L1226 822.7 L1226.8 823.2 L1227.6 823.2 L1228.4 823.8 L1229.2 822.3 L1230 822.3 L1230.8 822.2 L1231.6 823.2 L1232.4 823.7 L1233.2 822.5 L1234 822.5 L1234.8 822 L1235.6 822.5 L1236.4 822 L1237.2 820.6 L1238 823.1 L1238.8 821.7 L1239.6 822.9 L1240.4 822.4 L1241.2 822.9 L1242 824.5 L1242.8 821.4 L1243.6 822.1 L1244.4 821.5 L1245.2 821.1 L1246 821.8 L1246.8 822.2 L1247.6 823 L1248.4 824.1 L1249.2 823.5 L1250 822.7 L1250.8 821.8 L1251.6 822.2 L1252.4 822.5 L1253.2 822.5 L1254 821.7 L1254.8 822.1 L1255.6 821.2 L1256.4 822.9 L1257.2 822.1 L1258 822 L1258.8 822.7 L1259.6 822.5 L1260.4 822.9 L1261.2 823.2 L1262 822.9 L1262.8 823.2 L1263.6 821.5 L1264.4 822.2 L1265.2 823.7 L1266 823.9 L1266.8 821.5 L1267.6 823 L1268.4 822.2 L1269.2 823.9 L1270 824 L1270.8 821.9 L1271.6 823.1 L1272.4 822.1 L1273.2 822.6 L1274 822 L1274.8 823.4 L1275.6 822 L1276.4 822.3 L1277.2 822.6 L1278 823 L1278.8 821.2 L1279.6 822.4 L1280.4 823.2 L1281.2 822.8 L1282 822.8 L1282.8 822.2 L1283.6 822.3 L1284.4 823.8 L1285.2 823.1 L1286 822.8 L1286.8 822.5 L1287.6 822.3 L1288.4 822.3 L1289.2 821.5 L1290 822.2 L1290.8 823.6 L1291.6 825.1 L1292.4 824.1 L1293.2 823.5 L1294 822.1 L1294.8 822.6 L1295.6 820.6 L1296.4 820.9 L1297.2 821.9 L1298 822.7 L1298.8 822.8 L1299.6 822.1 L1300.4 821 L1301.2 823.8 L1302 822.1 L1302.8 823.7 L1303.6 822.3 L1304.4 822.4 L1305.2 821.4 L1306 822.9 L1306.8 822.6 L1307.6 823.9 L1308.4 822.9 L1309.2 822.7 L1310 822.9 L1310.8 822.2 L1311.6 822.1 L1312.4 821.8 L1313.2 822.8 L1314 822.4 L1314.8 822.1 L1315.6 822.7 L1316.4 822.4 L1317.2 821.5 L1318 821.7 L1318.8 821.5 L1319.6 822.4 L1320.4 820.2 L1321.2 821.9 L1322 823.4 L1322.8 824.1 L1323.6 823.8 L1324.4 822.9 L1325.2 819.6 L1326 821.6 L1326.8 823.4 L1327.6 823.1 L1328.4 821.8 L1329.2 822.4 L1330 823.2 L1330.8 822.6 L1331.6 823.9 L1332.4 823.7 L1333.2 824.5 L1334 823.1 L1334.8 825.7 L1335.6 823.6 L1336.4 822.9 L1337.2 822.7 L1338 824 L1338.8 822.4 L1339.6 822.6 L1340.4 822.6 L1341.2 823 L1342 821.4 L1342.8 823.3 L1343.6 821.5 L1344.4 823.4 L1345.2 824.1 L1346 822.3 L1346.8 822.8 L1347.6 822.8 L1348.4 821.9 L1349.2 820.5 L1350 822 L1350.8 822.1 L1351.6 822 L1352.4 823.4 L1353.2 823.3 L1354 822.1 L1354.8 822.7 L1355.6 821.5 L1356.4 821.9 L1357.2 821.9 L1358 821.6 L1358.8 823.3 L1359.6 822.3 L1360.4 821.8 L1361.2 822 L1362 823.1 L1362.8 823.1 L1363.6 822.3 L1364.4 822.1 L1365.2 822.8 L1366 822.7 L1366.8 821.3 L1367.6 822.6 L1368.4 821 L1369.2 821.8 L1370 824 L1370.8 824 L1371.6 823.8 L1372.4 823.3 L1373.2 823.2 L1374 824.1 L1374.8 821.8 L1375.6 821.5 L1376.4 823.2 L1377.2 823.5 L1378 823.3 L1378.8 823 L1379.6 822.2 L1380.4 823.8 L1381.2 823.2 L1382 822.3 L1382.8 824.9 L1383.6 824.3 L1384.4 822.8 L1385.2 823.1 L1386 823.1 L1386.8 822.9 L1387.6 823.6 L1388.4 823.5 L1389.2 824.2 L1390 824 L1390.8 824.3 L1391.6 823.9 L1392.4 822.8 L1393.2 823.4 L1394 823.9 L1394.8 823.6 L1395.6 823.6 L1396.4 823.1 L1397.2 824.3 L1398 823.6 L1398.8 823 L1399.6 823.2 L1400.4 823.1 L1401.2 824.4 L1402 824 L1402.8 824.8 L1403.6 823.7 L1404.4 824.9 L1405.2 826.1 L1406 825 L1406.8 824.5 L1407.6 823 L1408.4 822.5 L1409.2 823.6 L1410 823.1 L1410.8 825.1 L1411.6 823.4 L1412.4 824.9 L1413.2 824.6 L1414 822.6 L1414.8 823.2 L1415.6 824.6 L1416.4 822.5 L1417.2 823.2 L1418 823.5 L1418.8 824 L1419.6 825.4 L1420.4 824.9 L1421.2 823.2 L1422 823.1 L1422.8 821.8 L1423.6 822.7 L1424.4 823.3 L1425.2 823.3 L1426 823.7 L1426.8 822.6 L1427.6 822.4 L1428.4 823.8 L1429.2 824.3 L1430 822.1 L1430.8 824.8 L1431.6 824.9 L1432.4 825.5 L1433.2 823.8 L1434 823.5 L1434.8 822.3 L1435.6 823.3 L1436.4 824.4 L1437.2 824.2 L1438 822.6 L1438.8 822.2 L1439.6 823.1 L1440.4 824 L1441.2 824.8 L1442 824.8 L1442.8 824.7 L1443.6 823.3 L1444.4 824.1 L1445.2 822.7 L1446 823.1 L1446.8 823.6 L1447.6 822.6 L1448.4 823.6 L1449.2 824.4 L1450 824.8 L1450.8 824.5 L1451.6 823.4 L1452.4 825.1 L1453.2 824.2 L1454 823.5 L1454.8 823.6 L1455.6 823.1 L1456.4 822 L1457.2 823.9 L1458 824.4 L1458.8 824.8 L1459.6 823.4 L1460.4 823.4 L1461.2 823.3 L1462 821.8 L1462.8 822.4 L1463.6 823 L1464.4 822.5 L1465.2 823.6 L1466 823.4 L1466.8 823.3 L1467.6 822.7 L1468.4 824.3 L1469.2 824 L1470 823.6 L1470.8 824 L1471.6 823.6 L1472.4 824.1 L1473.2 823.8 L1474 822.5 L1474.8 824.5 L1475.6 824.5 L1476.4 823.7 L1477.2 824.1 L1478 824.5 L1478.8 826.5 L1479.6 826.4 L1480.4 825.1 L1481.2 824.6 L1482 824.4 L1482.8 825 L1483.6 824.6 L1484.4 824 L1485.2 824.7 L1486 823.1 L1486.8 823.5 L1487.6 824.8 L1488.4 823.2 L1489.2 824.4 L1490 822.3 L1490.8 824.5 L1491.6 823.4 L1492.4 824.4 L1493.2 824 L1494 824.5 L1494.8 825.2 L1495.6 822.6 L1496.4 823.5 L1497.2 822.4 L1498 823.7 L1498.8 824 L1499.6 823.8 L1500.4 825.6 L1501.2 823.2 L1502 823.3 L1502.8 826.5 L1503.6 823 L1504.4 823.2 L1505.2 824.1 L1506 825.5 L1506.8 824.1 L1507.6 825 L1508.4 823.8 L1509.2 824.5 L1510 825.1 L1510.8 824.5 L1511.6 824.1 L1512.4 824.5 L1513.2 824.8 L1514 824.1 L1514.8 825 L1515.6 823 L1516.4 822.5 L1517.2 823.5 L1518 822.3 L1518.8 823.7 L1519.6 825.6 L1520.4 824.9 L1521.2 824.5 L1522 824.6 L1522.8 822.8 L1523.6 822.6 L1524.4 822.9 L1525.2 825.1 L1526 824 L1526.8 823.8 L1527.6 825.4 L1528.4 825 L1529.2 823.2 L1530 824.6 L1530.8 823.9 L1531.6 824.8 L1532.4 824.3 L1533.2 823.6 L1534 823 L1534.8 822.4 L1535.6 822.6 L1536.4 822.3 L1537.2 822.7 L1538 823.8 L1538.8 824 L1539.6 822.3 L1540.4 821.8 L1541.2 822.4 L1542 822 L1542.8 823.3 L1543.6 825.9 L1544.4 823.7 L1545.2 826.3 L1546 823.7 L1546.8 822.5 L1547.6 824.8 L1548.4 825 L1549.2 825.1 L1550 825.2 L1550.8 823.1 L1551.6 822.3 L1552.4 823.5 L1553.2 823.4 L1554 823.3 L1554.8 823.2 L1555.6 824 L1556.4 823.8 L1557.2 823.7 L1558 822.5 L1558.8 820.8 L1559.6 822.7 L1560.4 822.5 L1561.2 824.6 L1562 822.9 L1562.8 823.3 L1563.6 824.3 L1564.4 823.9 L1565.2 823.4 L1566 822.5 L1566.8 822.3 L1567.6 825.3 L1568.4 822.4 L1569.2 821.4 L1570 821.5 L1570.8 822.2 L1571.6 822.5 L1572.4 824.5 L1573.2 825.7 L1574 824.4 L1574.8 823.3 L1575.6 822.7 L1576.4 823.6 L1577.2 823.5 L1578 824.4 L1578.8 826 L1579.6 825.3 L1580.4 824.5 L1581.2 823.8 L1582 823.3 L1582.8 823.5 L1583.6 823.7 L1584.4 823.5 L1585.2 824.1 L1586 824.2 L1586.8 823.9 L1587.6 824.1 L1588.4 824.4 L1589.2 823.6 L1590 823.2 L1590.8 823.1 L1591.6 824.2 L1592.4 824.3 L1593.2 825.3 L1594 825.3 L1594.8 825.2 L1595.6 824.4 L1596.4 823.6 L1597.2 826.8 L1598 823.4 L1598.8 823.6 L1599.6 824.2 L1600.4 825.3 L1601.2 823.3 L1602 822.7 L1602.8 823.9 L1603.6 823.9 L1604.4 822.8 L1605.2 824.1 L1606 824.1 L1606.8 823.2 L1607.6 823 L1608.4 824.3" fill="none" stroke="#344d9a" stroke-width="4.2" stroke-linejoin="round" stroke-linecap="round" />
<text font-size="40.2" fill="#1c1a1a" text-anchor="start" font-weight="normal" transform="translate(1438.3 671.2) scale(1 1.04)" >-24.6mV</text>
<text font-size="40.2" fill="#1c1a1a" text-anchor="start" font-weight="normal" transform="translate(1240.8 800) scale(1 1.04)" >-57.4mV</text>
<text font-size="40.2" fill="#1c1a1a" text-anchor="start" font-weight="normal" transform="translate(1140 899) scale(1 1.04)" >-58.3mV</text>
<line x1="1434" y1="667.3" x2="1409.4" y2="682.9" stroke="#bb66a4" stroke-width="3.8" stroke-linecap="round" />
<polygon points="1395,692 1407.3,675.9 1414.8,687.7" fill="#bb66a4"/>
<line x1="1197.9" y1="822.9" x2="1221.9" y2="805" stroke="#344d9a" stroke-width="3.9" stroke-linecap="round" />
<polygon points="1235.5,794.8 1224.6,812 1215.9,800.4" fill="#344d9a"/>
<line x1="1120.8" y1="830.6" x2="1134.4" y2="848.4" stroke="#1c1a1a" stroke-width="4.2" stroke-linecap="round" />
<polygon points="1145,862.3 1127.4,851.2 1138.9,842.4" fill="#1c1a1a"/>
<line x1="1042.6" y1="873" x2="1042.6" y2="857" stroke="#ee8033" stroke-width="3.6" stroke-linecap="round" />
<polygon points="1042.6,842 1048.6,859 1036.6,859" fill="#ee8033"/>
<line x1="1595" y1="878" x2="1595" y2="860" stroke="#ee8033" stroke-width="3.6" stroke-linecap="round" />
<polygon points="1595,845 1601,862 1589,862" fill="#ee8033"/>
<text font-size="40.2" fill="#ee8033" text-anchor="start" font-weight="bold" transform="translate(1021 918) scale(1 1.04)" >ON</text>
<text font-size="40.2" fill="#ee8033" text-anchor="start" font-weight="bold" transform="translate(1562.5 917) scale(1 1.04)" >OFF</text>
<text font-size="39.3" fill="#1c1a1a" text-anchor="start" font-weight="normal" transform="translate(288.5 1063.3) scale(1 1.04)" >RMP</text>
<text font-size="26.7" fill="#1c1a1a" text-anchor="start" font-weight="normal" transform="translate(374.9 1071) scale(1 1.04)" >native</text>
<text font-size="39.8" fill="#1c1a1a" text-anchor="start" font-weight="normal" transform="translate(453.7 1067.2) scale(1 1.04)" >= -58.3mV</text>
<text font-size="39.8" fill="#344d9a" text-anchor="start" font-weight="normal" transform="translate(327.5 1225) scale(1 1.04)" >-50%WT<tspan font-size="31">s</tspan>/+50%WT<tspan font-size="31">s</tspan></text>
<text font-size="40.2" fill="#1c1a1a" text-anchor="start" font-weight="normal" transform="translate(79 1290) scale(1 1.04)" >0mV</text>
<text font-size="40.2" fill="#1c1a1a" text-anchor="start" font-weight="normal" transform="translate(19 1463.6) scale(1 1.04)" >-57.4mV</text>
<path d="M175.3 1276.3h6.6M192.5 1276.3h6.6M209.7 1276.3h6.6M227 1276.3h6.6M244.2 1276.3h6.6M261.4 1276.3h6.6M278.6 1276.3h6.6M295.9 1276.3h6.6M313.1 1276.3h6.6M330.3 1276.3h6.6M347.5 1276.3h6.6M364.8 1276.3h6.6M382 1276.3h6.6M399.2 1276.3h6.6M416.4 1276.3h6.6M433.6 1276.3h6.6M450.9 1276.3h6.6M468.1 1276.3h6.6M485.3 1276.3h6.6M502.5 1276.3h6.6M519.8 1276.3h6.6M537 1276.3h6.6M554.2 1276.3h6.6M571.4 1276.3h6.6M588.6 1276.3h6.6M605.9 1276.3h6.6M623.1 1276.3h6.6M640.3 1276.3h6.6M657.5 1276.3h6.6M674.8 1276.3h6.6M692 1276.3h6.6M709.2 1276.3h6.6M726.4 1276.3h6.6M743.7 1276.3h6.6M760.9 1276.3h6.6M778.1 1276.3h6.6" fill="none" stroke="#1c1a1a" stroke-width="3.6" stroke-linecap="round"/>
<path d="M184 1450 L200 1450.9 L220 1450.7 L240 1450.8 L251.5 1449.9 L251.7 1446 L251.9 1441.3 L252.2 1434.2 L252.6 1427.1 L253 1420.3 L253.5 1413 L254 1404.5 L254.7 1396.3 L255.3 1387.5 L256 1379.9 L256.7 1372.4 L257.5 1364.7 L258.4 1357.5 L259.2 1350.7 L260 1344.9 L260.8 1339.2 L261.6 1333.9 L262.5 1329.2 L263.3 1324.1 L264 1320 L264.7 1316.1 L265.3 1312.9 L265.9 1308.9 L266.5 1305.1 L267 1299.3 L267.5 1293.6 L267.9 1286.1 L268.2 1278.6 L268.6 1270.6 L269 1259.2 L269.4 1247.9 L269.8 1233.3 L270.2 1217.9 L270.6 1203.4 L271 1190.2 L271.3 1178.4 L271.7 1166.3 L272 1155.6 L272.3 1146.6 L272.5 1139.7 L272.7 1135.9 L272.8 1133.9 L273 1134.4 L273.1 1133.9 L273.2 1134.6 L273.3 1134.5 L273.5 1133.8 L273.6 1135.6 L273.8 1136.3 L274 1141.9 L274.2 1149.8 L274.5 1161.1 L274.8 1172.1 L275.2 1186.6 L275.5 1199.7 L275.9 1214.4 L276.2 1229.7 L276.6 1246.4 L277.1 1262.6 L277.5 1280 L278 1298.1 L278.5 1317.8 L279 1335.6 L279.5 1354.9 L280 1370.3 L280.5 1383 L281 1394.8 L281.5 1404.5 L282 1413.6 L282.5 1420.1 L283 1425.1 L283.5 1428.6 L284 1430.7 L284.5 1431.8 L285 1432.2 L285.5 1433.1 L286 1430.6 L286.4 1428.2 L286.9 1427.3 L287.5 1424.9 L288.1 1422.6 L288.8 1419.5 L289.5 1416.3 L290.3 1413.2 L291 1410.3 L291.7 1406.8 L292.4 1403.9 L293.2 1401.7 L294 1398.2 L295 1394.7 L296.2 1392.7 L297.5 1389 L299 1385.4 L300.5 1382.3 L302 1380.1 L303.5 1377.3 L305.1 1375.1 L306.8 1373 L308.4 1371.5 L310 1370.4 L311.5 1368.4 L313 1366.8 L314.5 1366.4 L316.1 1365.1 L318 1364.3 L320 1363.3 L322.1 1361.8 L324.4 1360.8 L327 1359.8 L330 1358.6 L333.4 1358.5 L337.2 1358.1 L341.3 1357.2 L345.6 1356.5 L350 1355.9 L354.7 1355.1 L359.6 1354.5 L364.8 1354 L369.9 1353.2 L375 1352.8 L379.6 1352 L383.8 1352.2 L388.2 1351.7 L393.4 1350.9 L400 1350.2 L408.4 1350.7 L418.2 1350.9 L428.8 1350.1 L439.6 1350 L450 1349.8 L460.3 1350.1 L470.9 1349.4 L481.3 1349.9 L491.2 1349.3 L500 1349.3 L507.9 1348.4 L515 1347.4 L521.4 1346.1 L527.1 1345.6 L532 1345.4 L535.6 1345.9 L538 1346.3 L539.8 1346.6 L541.9 1347.7 L545 1348.3 L549.2 1348.1 L553.9 1348.1 L559.1 1348 L564.5 1348.4 L570 1348.2 L575.8 1347.6 L582.1 1348 L588.5 1347.6 L594.6 1347.4 L600 1347.9 L604.7 1347.6 L608.8 1346.7 L612.6 1346.7 L616.3 1346.5 L620 1345.8 L624.1 1345.6 L628.4 1345.4 L632.5 1344.1 L636 1344.4 L638.5 1344.3 L638.7 1346.1 L638.9 1348.1 L639.3 1351.9 L639.6 1355.3 L640 1360.2 L640.4 1365.4 L640.9 1371.3 L641.4 1377.4 L642 1383.9 L642.5 1390.3 L643.1 1395.1 L643.6 1400.8 L644.2 1405.8 L644.9 1410.3 L645.5 1415.8 L646.2 1419.4 L646.8 1424.4 L647.5 1427 L648.3 1430.7 L649 1435.3 L649.8 1438.5 L650.5 1441.2 L651.3 1444.1 L652.1 1446 L653 1448.8 L653.9 1450.7 L654.8 1452.7 L655.8 1454.6 L656.9 1455.7 L658 1457.1 L659.2 1458 L660.5 1459.2 L661.9 1460.4 L663.4 1461.1 L665 1462.4 L666.8 1462.4 L668.8 1463.9 L670.9 1463.4 L673 1464.5 L675 1464.2 L676.9 1465.3 L678.8 1465 L680.6 1465.1 L682.7 1465.3 L685 1464.8 L687.6 1464.5 L690.4 1464 L693.4 1464.9 L696.6 1464 L700 1463.8 L703.7 1463.8 L707.6 1464.3 L711.8 1462.8 L715.9 1463.3 L720 1462.9 L723.9 1463 L727.7 1461.9 L731.6 1462.2 L735.6 1462.5 L740 1462.5 L745.2 1462.4 L751.2 1461.4 L757.2 1461.7 L762.4 1461.5 L766 1461" fill="none" stroke="#344d9a" stroke-width="3.2" stroke-linejoin="round" stroke-linecap="round" />
<text font-size="39.8" fill="#bb66a4" text-anchor="start" font-weight="normal" transform="translate(306.5 1579) scale(1 1.04)" >-50%WT<tspan font-size="31">s</tspan>/+50%I234T<tspan font-size="31">s</tspan></text>
<path d="M134 1535.5 V1595 H232" fill="none" stroke="#1c1a1a" stroke-width="3.5" stroke-linecap="round" stroke-linejoin="round"/>
<text font-size="26" fill="#1c1a1a" text-anchor="start" font-weight="normal" transform="translate(49 1577.5) scale(1 1.04)" >20 mV</text>
<text font-size="26" fill="#1c1a1a" text-anchor="start" font-weight="normal" transform="translate(145 1625) scale(1 1.04)" >50 ms</text>
<text font-size="40.2" fill="#1c1a1a" text-anchor="start" font-weight="normal" transform="translate(33 1817.5) scale(1 1.04)" >-24.6mV</text>
<text font-size="40.2" fill="#1c1a1a" text-anchor="start" font-weight="normal" transform="translate(68 1924) scale(1 1.04)" >-60mV</text>
<path d="M200.2 1731.8h6.5M217.9 1731.8h6.5M235.6 1731.8h6.5M253.3 1731.8h6.5M271 1731.8h6.5M288.7 1731.8h6.5M306.4 1731.8h6.5M324.1 1731.8h6.5M341.8 1731.8h6.5M359.5 1731.8h6.5M377.2 1731.8h6.5M394.9 1731.8h6.5M412.6 1731.8h6.5M430.3 1731.8h6.5M448 1731.8h6.5M465.7 1731.8h6.5M483.4 1731.8h6.5M501.1 1731.8h6.5M518.7 1731.8h6.5M536.4 1731.8h6.5M554.1 1731.8h6.5M571.8 1731.8h6.5M589.5 1731.8h6.5M607.2 1731.8h6.5M624.9 1731.8h6.5M642.6 1731.8h6.5M660.3 1731.8h6.5M678 1731.8h6.5M695.7 1731.8h6.5M713.4 1731.8h6.5M731.1 1731.8h6.5M748.8 1731.8h6.5M766.5 1731.8h6.5M784.2 1731.8h6.5M801.9 1731.8h6.5" fill="none" stroke="#1c1a1a" stroke-width="3.9" stroke-linecap="round"/>
<path d="M207.5 1806 L210.5 1806.2 L214.7 1806.4 L219.7 1806.7 L225 1807 L231 1807.4 L237.7 1807.9 L244.3 1808.3 L250 1808.5 L254.6 1808.3 L258.4 1808 L261.8 1807.5 L265 1807 L268 1806.8 L270.8 1806.8 L273.2 1806.4 L275 1805 L276.1 1802.8 L276.5 1799.9 L276.7 1795.8 L277 1790 L277.5 1781.5 L277.9 1770.8 L278.4 1759.7 L279 1750 L279.7 1741.6 L280.4 1733.9 L281.2 1727.2 L282 1722 L282.8 1718.7 L283.5 1716.9 L284.2 1716.1 L285 1716 L285.8 1716.3 L286.5 1717.2 L287.2 1719 L288 1722 L288.7 1726.7 L289.4 1732.8 L290.2 1739.2 L291 1745 L291.9 1750.1 L292.9 1755 L293.9 1759.4 L295 1763 L296.2 1765.8 L297.4 1767.8 L298.7 1769.2 L300 1770 L301.2 1770 L302.4 1769.2 L303.6 1768.1 L305 1767 L306.5 1765.8 L308 1764.5 L309.8 1763.2 L312 1762 L314.8 1761 L318 1760.1 L321.5 1759.4 L325 1759 L328.7 1759.2 L332.7 1759.7 L336.6 1760.4 L340 1761 L342.9 1761.3 L345.3 1761.6 L347.6 1761.9 L350 1762.5 L352.5 1763.7 L355 1765.2 L357.5 1766.7 L360 1767.5 L362.4 1767.4 L364.7 1766.6 L367.1 1765.7 L370 1765 L373.4 1764.6 L377.2 1764.3 L381.1 1764.1 L385 1764 L388.6 1763.9 L392.2 1763.8 L395.9 1763.8 L400 1764 L404.6 1764.4 L409.7 1764.9 L414.9 1765.5 L420 1766 L425.1 1766.5 L430.3 1767 L435.4 1767.5 L440 1768 L444.1 1768.5 L447.9 1769 L451.5 1769.5 L455 1770 L458.6 1770.7 L462.2 1771.6 L465.5 1772.1 L468 1771.5 L469.5 1770.1 L470.2 1768 L470.5 1764.8 L471 1760 L471.6 1752.4 L472.2 1742.7 L472.9 1732.9 L473.5 1725 L474.2 1719.4 L475 1715.1 L475.7 1711.9 L476.5 1710 L477.2 1709.2 L478 1709.6 L478.7 1711.1 L479.5 1714 L480.3 1718.8 L481.2 1725.2 L482 1732 L483 1738 L484.1 1743 L485.2 1747.7 L486.4 1751.8 L487.5 1755 L488.6 1757.2 L489.7 1758.6 L490.8 1759.5 L492 1760 L493.4 1760.3 L494.8 1760.1 L496.4 1759.7 L498 1759 L499.7 1758 L501.4 1756.6 L503.2 1755.2 L505 1754 L506.6 1753.1 L508.1 1752.4 L509.8 1751.8 L512 1751 L514.9 1750 L518.3 1748.9 L521.8 1747.8 L525 1747 L527.6 1746.4 L530 1746.1 L532.4 1745.9 L535 1746 L538.1 1746.5 L541.4 1747.2 L544.8 1748.2 L548 1749 L551 1749.8 L553.9 1750.5 L556.8 1751.2 L560 1752 L563.5 1752.8 L567.3 1753.5 L571.2 1754.2 L575 1755 L578.9 1755.8 L582.8 1756.6 L586.6 1757.3 L590 1758 L592.8 1758.6 L595.2 1759.2 L597.5 1759.7 L600 1760 L602.8 1760 L605.8 1759.7 L608.9 1759.4 L612 1759 L615.2 1758.7 L618.6 1758.3 L621.9 1757.9 L625 1757.5 L627.7 1757.1 L630.2 1756.7 L632.6 1756.3 L635 1756 L637.5 1755.8 L640 1755.7 L642.5 1755.8 L645 1756 L647.6 1756.6 L650.2 1757.4 L652.7 1758.2 L655 1759 L657.2 1758.9 L659.2 1758.4 L661.1 1758.6 L662.5 1761 L663.4 1766.1 L663.8 1773.1 L664.1 1781.3 L664.5 1790 L665.1 1799.3 L665.7 1809.6 L666.3 1820.1 L667 1830 L667.7 1839.3 L668.5 1848.4 L669.2 1857.1 L670 1865 L670.8 1872.3 L671.5 1879.1 L672.2 1885 L673 1890 L673.7 1893.8 L674.4 1896.6 L675.2 1898.6 L676 1900 L676.8 1900.6 L677.6 1900.4 L678.6 1899.7 L680 1899 L682.1 1898.3 L684.6 1897.3 L687.4 1896.2 L690 1895 L692.5 1893.6 L695 1892.1 L697.5 1890.5 L700 1889 L702.5 1887.5 L704.9 1886.1 L707.4 1884.6 L710 1883 L712.8 1881.3 L715.8 1879.5 L718.9 1877.7 L722 1876 L725.2 1874.4 L728.4 1872.9 L731.7 1871.4 L735 1870 L738.3 1868.6 L741.6 1867.2 L744.8 1865.8 L748 1864.5 L751 1863.3 L753.9 1862.1 L756.8 1861 L760 1860 L763.6 1859 L767.5 1858.1 L771.4 1857.3 L775 1856.5 L778.6 1855.7 L782.2 1855 L785.3 1854.4 L787.5 1854" fill="none" stroke="#bb66a4" stroke-width="3.2" stroke-linecap="round" stroke-linejoin="round" stroke-dasharray="0.1 6.2"/>
<circle cx="787.5" cy="1854" r="1.6" fill="#1c1a1a"/>
<path d="M207.5 1910.9 L209 1911.3 L210.5 1910.9 L212 1910.8 L213.5 1910.5 L215 1910.9 L216.5 1911.6 L218 1911.2 L219.5 1911.5 L221 1911.1 L222.5 1911.2 L224 1911.1 L225.5 1910.2 L227 1911.4 L228.5 1911.3 L230 1911.2 L231.5 1910.2 L233 1910.1 L234.5 1910.6 L236 1910.8 L237.5 1911.2 L239 1911 L240.5 1911.3 L242 1910.7 L243.5 1911.2 L245 1911.2 L246.5 1910.7 L248 1911.9 L249.5 1911.3 L251 1911.6 L252.5 1910.7 L254 1910.6 L255.5 1910.8 L257 1910.9 L258.5 1911.3 L260 1911.1 L261.5 1910.8 L263 1910.5 L264.5 1910.7 L266 1911.6 L267.5 1910.6 L269 1911.1 L270.5 1911.2 L272 1910.3 L273.5 1911 L275 1911.7 L277.5 1911" fill="none" stroke="#1c1a1a" stroke-width="8.2" stroke-linejoin="round" stroke-linecap="butt" />
<path d="M276.5 1911 L276.6 1905.9 L276.8 1898.9 L277 1890.5 L277.2 1880.7 L277.5 1870 L277.8 1857.9 L278.2 1844.1 L278.6 1829.4 L279.1 1814.5 L279.5 1800 L280 1785.8 L280.5 1771.5 L281 1757.3 L281.5 1743.4 L282 1730 L282.5 1717.2 L283 1704.8 L283.5 1692.8 L284 1681.2 L284.5 1670 L284.9 1658.9 L285.4 1647.8 L285.8 1637.3 L286.1 1627.8 L286.5 1620 L286.8 1613.8 L287.2 1608.9 L287.4 1605.3 L287.7 1602.8 L288 1601.5 L288.2 1600.8 L288.5 1600.9 L288.7 1602.3 L288.9 1605.8 L289.2 1612 L289.5 1621.7 L289.9 1634.5 L290.2 1649.2 L290.6 1664.7 L291 1680 L291.4 1695.2 L291.8 1711.1 L292.2 1727.4 L292.6 1743.8 L293 1760 L293.5 1776.6 L294 1793.7 L294.5 1810.5 L295 1826.2 L295.5 1840 L295.9 1851.8 L296.3 1862.1 L296.7 1871.1 L297.1 1878.7 L297.5 1885 L297.9 1889.8 L298.2 1893.1 L298.6 1895.2 L298.9 1896.3 L299.3 1897 L299.7 1896.9 L300.1 1895.9 L300.6 1894.1 L301 1892.1 L301.5 1890 L302 1887.8 L302.5 1885.1 L302.9 1882.3 L303.5 1879.6 L304 1877 L304.6 1874.7 L305.1 1872.5 L305.7 1870.3 L306.4 1868.2 L307 1866 L307.7 1863.6 L308.5 1861.1 L309.3 1858.6 L310 1856.5 L310.5 1855" fill="none" stroke="#1c1a1a" stroke-width="3.8" stroke-linejoin="round" stroke-linecap="round" />
<path d="M310.5 1854.5 L311.1 1853.6 L312 1851.9 L312.9 1849.6 L314 1846.8 L315 1844 L316 1842.2 L317 1840 L318 1837.7 L319 1836.4 L320 1835.5 L321 1833.6 L322 1832 L323 1830.3" fill="none" stroke="#1c1a1a" stroke-width="4.8" stroke-linejoin="round" stroke-linecap="butt" />
<path d="M322 1832 L323 1830.3 L324 1829.6 L325 1828.2 L326 1827.5 L326.9 1826.7 L327.8 1824.5 L328.8 1824.8 L330 1823.3 L331.3 1822.7 L332.8 1821.8 L334.4 1822.3 L336.1 1821.4 L338 1820.7 L340.1 1819.6 L342.4 1818.8 L344.8 1819 L347.3 1818.9 L350 1818.5 L352.8 1818.6 L355.8 1817.8 L358.9 1818.7 L362 1818 L365 1818.5 L367.9 1817.5 L370.8 1817.2 L373.6 1816.8 L376.7 1817.5 L380 1817.5 L383.8 1816.9 L387.9 1816.8 L392.1 1816.3 L396.2 1816 L400 1815.9 L403.3 1814.9 L406.4 1815.2 L409.2 1815.5 L412.1 1815.4 L415 1815.5 L418.1 1814.9 L421.2 1814.1 L424.4 1813.3 L427.3 1811.7 L430 1812.5 L432.3 1812 L434.4 1812.9 L436.2 1812.8 L438.1 1813 L440 1813.2 L442 1813.6 L444 1813 L446 1813.5 L448 1815.2 L450 1815.2 L452 1815.2 L454 1815.8 L456 1816.4 L458 1818.7 L460 1817.8 L462.2 1817.8 L464.5 1817.7 L466.7 1817.1 L468.6 1818.4 L470 1819.2" fill="none" stroke="#1c1a1a" stroke-width="6.2" stroke-linejoin="round" stroke-linecap="butt" />
<path d="M470 1818.5 L470.1 1812.1 L470.3 1803 L470.4 1792 L470.6 1780 L470.8 1765.9 L470.9 1749.8 L471.1 1733.7 L471.2 1720 L471.3 1708.6 L471.4 1698.4 L471.5 1690.4 L471.6 1685 L471.7 1684.3 L471.9 1687.2 L472 1690.3 L472.2 1690 L472.4 1685.3 L472.5 1678.1 L472.7 1669.4 L473 1660 L473.3 1649.2 L473.7 1636.9 L474.1 1624.8 L474.5 1615 L474.9 1607.5 L475.3 1601.6 L475.6 1597.3 L476 1595 L476.3 1594.3 L476.6 1595.3 L476.9 1598.6 L477.3 1605 L477.8 1615 L478.3 1628.1 L478.9 1643.4 L479.5 1660 L480.1 1678.5 L480.7 1699.1 L481.3 1720.1 L482 1740 L482.7 1759.1 L483.5 1778 L484.3 1795.4 L485 1810 L485.7 1821.3 L486.3 1830 L486.9 1836.7 L487.5 1842 L488 1845.7 L488.4 1847.7 L488.8 1848.4 L489.3 1848.5 L489.8 1848 L490.3 1846.7 L490.8 1844.6 L491.5 1842 L492.2 1838.7 L493.1 1834.6 L494 1830.2 L495 1826 L496.1 1821.9 L497.4 1817.8 L498.7 1813.7 L500 1810 L501.3 1806.6 L502.6 1803.3 L503.9 1800.4 L505 1798 L506 1796.4 L507 1795.6 L507.8 1794.6 L508.5 1793 L509 1790 L509.3 1786.2 L509.5 1782.5 L509.6 1780" fill="none" stroke="#1c1a1a" stroke-width="3.8" stroke-linejoin="round" stroke-linecap="round" />
<path d="M509.6 1782 L510.4 1720 L511 1644 L511.6 1720 L512.3 1740" fill="none" stroke="#1c1a1a" stroke-width="2.4" stroke-linejoin="round" stroke-linecap="round" />
<path d="M512.3 1738 L512.8 1738.5 L513.5 1739.2 L514.2 1740.1 L515 1741 L515.7 1741.8 L516.5 1742.6 L517.2 1743.6 L518 1745 L518.8 1746.7 L519.5 1748.6 L520.2 1751 L521 1754 L521.7 1757.8 L522.5 1762.2 L523.2 1767.1 L524 1772 L524.8 1777.3 L525.7 1782.9 L526.6 1788.4 L527.5 1793 L528.4 1796.8 L529.2 1800 L530.1 1802.5 L531 1804 L531.9 1804.4 L532.7 1803.8 L533.6 1802.5 L534.5 1801 L535.6 1799.2 L536.7 1796.9 L537.9 1794.4 L539 1792 L540.2 1789.8 L541.3 1787.8 L542.5 1785.5 L543.5 1783 L544.4 1780.1 L545.2 1777.1 L545.9 1773.7 L546.5 1770 L547.1 1765.5 L547.5 1760.4 L547.9 1755.6 L548.3 1752 L548.6 1749.7 L548.8 1748.4 L549 1747.8 L549.2 1748 L549.4 1749.2 L549.7 1751.5 L550 1754 L550.5 1756 L551.2 1757.2 L552.1 1758.1 L553 1759 L554 1760 L554.9 1761.2 L555.9 1762.4 L556.9 1764 L558 1766 L559.2 1768.9 L560.5 1772.3 L561.8 1775.9 L563 1779 L564.2 1781.7 L565.3 1784.2 L566.5 1786.3 L567.5 1788 L568.4 1789.2 L569.3 1789.9 L570.1 1790.2 L571 1790 L572 1789.2 L572.9 1787.9 L574 1786.1 L575 1784 L576.1 1781.4 L577.2 1778.2 L578.4 1775 L579.5 1772 L580.6 1769.2 L581.6 1766.4 L582.6 1763.9 L583.5 1762 L584.2 1760.7 L584.8 1759.9 L585.3 1759.5 L586 1759.5 L586.8 1759.8 L587.8 1760.4 L588.8 1761.5 L590 1763 L591.4 1765.2 L592.9 1768 L594.5 1771.1 L596 1774 L597.5 1776.9 L599.1 1779.8 L600.6 1782.6 L602 1785 L603.4 1787 L604.7 1788.7 L605.9 1790 L607 1791 L608 1791.6 L608.8 1791.9 L609.6 1791.8 L610.5 1791 L611.5 1789.5 L612.5 1787.4 L613.5 1784.8 L614.5 1782 L615.5 1778.7 L616.5 1775 L617.5 1771.2 L618.5 1768 L619.4 1765.3 L620.2 1763 L621.1 1761 L622 1759.5 L622.9 1758.5 L623.8 1757.9 L624.8 1757.8 L626 1758 L627.4 1758.7 L628.9 1759.8 L630.5 1761.2 L632 1763 L633.5 1765.1 L635 1767.7 L636.5 1770.4 L638 1773 L639.5 1775.6 L641.1 1778.2 L642.6 1780.8 L644 1783 L645.3 1784.9 L646.6 1786.7 L647.8 1788.1 L649 1789 L650.1 1789.5 L651.1 1789.7 L652 1789.3 L653 1788.5 L654 1787 L655.1 1785 L656.1 1782.6 L657 1780 L657.8 1777.2 L658.6 1774 L659.3 1770.9 L660 1768 L660.7 1765.3 L661.4 1762.8 L662.1 1760.5 L662.5 1759" fill="none" stroke="#1c1a1a" stroke-width="4.9" stroke-linejoin="round" stroke-linecap="round" />
<path d="M662.5 1759 L662.6 1761.4 L662.8 1764.8 L663.1 1769.3 L663.3 1775 L663.5 1781.8 L663.7 1789.8 L663.9 1799 L664.2 1810 L664.5 1823.5 L664.8 1839.2 L665.1 1855.3 L665.5 1870 L665.9 1883.5 L666.3 1896.5 L666.7 1908.2 L667.2 1918 L667.7 1925.2 L668.3 1930.4 L668.9 1934.4 L669.5 1938 L670.2 1941.2 L670.9 1943.5 L671.7 1945.4 L672.5 1947 L673.4 1948.3 L674.2 1949.2 L675.1 1949.9 L676 1950.3 L676.9 1950.5 L677.7 1950.4 L678.5 1950.1 L679 1950" fill="none" stroke="#1c1a1a" stroke-width="4.0" stroke-linejoin="round" stroke-linecap="round" />
<path d="M678.5 1949.5 L678.8 1949.6 L679.2 1949.4 L679.8 1949.3 L680.4 1949.6 L681.1 1948.1 L682 1948.3 L683 1947.7" fill="none" stroke="#1c1a1a" stroke-width="5.5" stroke-linejoin="round" stroke-linecap="round" />
<path d="M682 1948.3 L683 1947.7 L684.3 1946.9 L685.6 1946.6 L687 1946 L688.5 1946.5 L690 1944.7 L691.5 1943.8 L693.1 1943.5 L694.8 1941.8 L696.4 1941.2 L698.2 1941 L700 1939.7 L701.9 1938.8 L703.8 1938.2 L705.8 1937 L707.9 1937.5 L709.9 1936.9 L712 1936.8 L714.1 1934.7 L716.2 1934 L718.3 1933.3 L720.5 1933 L722.7 1932.1 L725 1931.9 L727.4 1930.7 L729.9 1929.5 L732.4 1930.4 L734.9 1928.8 L737.5 1929.1 L740 1927.8 L742.5 1927.6 L745 1926.4 L747.5 1926.4 L750 1926.8 L752.5 1926.6 L755 1925.9 L757.4 1925.8 L759.8 1924.6 L762.2 1925.3 L764.6 1924.7 L767.2 1924.3 L770 1924.7 L773.3 1923.9 L777 1923.4 L780.9 1923.2 L784.6 1922.8 L787.8 1922.6 L790 1922.5" fill="none" stroke="#1c1a1a" stroke-width="7.8" stroke-linejoin="round" stroke-linecap="butt" />
<text font-size="39.3" fill="#1c1a1a" text-anchor="start" font-weight="normal" transform="translate(1152.3 1063.3) scale(1 1.04)" >RMP<tspan font-size="26.7" dy="9">native</tspan></text>
<text font-size="40.3" fill="#1c1a1a" text-anchor="start" font-weight="normal" transform="translate(1306.3 1063.7) scale(1 1.04)" >= -51.8mV</text>
<path d="M1045 1136.5 V1206.5 H1129" fill="none" stroke="#1c1a1a" stroke-width="3.5" stroke-linecap="round" stroke-linejoin="round"/>
<text font-size="26" fill="#1c1a1a" text-anchor="start" font-weight="normal" transform="translate(963 1189) scale(1 1.04)" >20 mV</text>
<text font-size="26" fill="#1c1a1a" text-anchor="start" font-weight="normal" transform="translate(1051.5 1236.5) scale(1 1.04)" >50 ms</text>
<text font-size="39.8" fill="#344d9a" text-anchor="start" font-weight="normal" transform="translate(1203.5 1188.5) scale(1 1.04)" >-50%WT<tspan font-size="31">s</tspan>/+50%WT<tspan font-size="31">s</tspan></text>
<text font-size="39.6" fill="#1c1a1a" text-anchor="start" font-weight="normal" transform="translate(937.5 1289.5) scale(1 1.04)" >0mV</text>
<text font-size="40.2" fill="#1c1a1a" text-anchor="start" font-weight="normal" transform="translate(913.5 1471) scale(1 1.04)" >-51.2mV</text>
<path d="M1041.8 1273.4h9.7M1064.4 1273.4h9.7M1086.9 1273.4h9.7M1109.4 1273.4h9.7M1131.9 1273.4h9.7M1154.4 1273.4h9.7M1176.9 1273.4h9.7M1199.4 1273.4h9.7M1221.9 1273.4h9.7M1244.4 1273.4h9.7M1266.9 1273.4h9.7M1289.4 1273.4h9.7M1311.9 1273.4h9.7M1334.5 1273.4h9.7M1357 1273.4h9.7M1379.5 1273.4h9.7M1402 1273.4h9.7M1424.5 1273.4h9.7M1447 1273.4h9.7M1469.5 1273.4h9.7M1492 1273.4h9.7M1514.5 1273.4h9.7M1537 1273.4h9.7M1559.5 1273.4h9.7M1582 1273.4h9.7" fill="none" stroke="#1c1a1a" stroke-width="3.7" stroke-linecap="round"/>
<path d="M1082.5 1457.8 L1084.8 1458 L1088.1 1457.4 L1092 1457.5 L1096.1 1458 L1100 1458.6 L1103.9 1458.3 L1107.9 1457.9 L1112 1458.1 L1116.1 1458.5 L1120 1458.8 L1124 1458.5 L1128.1 1458.4 L1132 1458.4 L1135.4 1458.3 L1138 1457.8 L1139.5 1457.7 L1140.2 1457.5 L1140.4 1457.5 L1140.5 1456.1 L1141 1455.3 L1141.9 1452.9 L1142.8 1451.4 L1143.8 1448.7 L1144.9 1446 L1146 1444 L1147.1 1442.3 L1148.3 1440 L1149.6 1438.6 L1150.8 1437 L1152 1435.6 L1153.2 1434.3 L1154.4 1432.1 L1155.6 1431.7 L1156.8 1430.5 L1158 1430.3 L1159.2 1429.5 L1160.4 1429.1 L1161.6 1428.9 L1162.8 1428.4 L1164 1428.5 L1165.2 1428.3 L1166.3 1429.4 L1167.5 1428.9 L1168.7 1429.4 L1170 1429.4 L1171.5 1430.3 L1173.1 1431.5 L1174.8 1433.2 L1176.4 1434.3 L1178 1435.1 L1179.5 1435.8 L1180.9 1437.6 L1182.2 1437.6 L1183.6 1438.5 L1185 1439.7 L1186.3 1439.8 L1187.5 1440.7 L1188.8 1441.3 L1190.2 1441.2 L1192 1441.7 L1194 1441.7 L1196.2 1441.6 L1198.6 1440.9 L1201.5 1441.6 L1205 1442 L1209.2 1441.4 L1213.9 1441.7 L1219.1 1441.8 L1224.5 1442.1 L1230 1441 L1235.7 1441.2 L1241.6 1441.4 L1247.8 1441.4 L1253.9 1440.7 L1260 1441.7 L1265.9 1440.5 L1271.8 1441 L1277.6 1440.3 L1283.7 1440.3 L1290 1440.6 L1296.7 1440.2 L1303.6 1440 L1310.8 1439.7 L1317.9 1439.8 L1325 1439.5 L1331.9 1440.5 L1338.8 1439.1 L1345.6 1438.5 L1352.7 1439.7 L1360 1439.5 L1367.7 1438.9 L1375.6 1439.4 L1383.8 1439 L1391.9 1439.3 L1400 1439.7 L1408.2 1439.6 L1416.6 1439.2 L1424.9 1439.8 L1432.8 1439.3 L1440 1439.1 L1446.8 1438.6 L1453.3 1439.1 L1459.2 1439 L1464.2 1439.2 L1468 1439.8 L1470.2 1439.6 L1471 1440.2 L1470.9 1440.8 L1470.7 1441.3 L1471 1442.8 L1471.7 1442.7 L1472.5 1444.9 L1473.3 1446.2 L1474.1 1448.4 L1475 1450.9 L1475.9 1450.9 L1476.9 1452.8 L1477.9 1454.5 L1478.9 1455.5 L1480 1456.8 L1481.1 1456.8 L1482.2 1458.4 L1483.3 1458.3 L1484.6 1458.6 L1486 1459.7 L1487.5 1460.1 L1489.1 1460 L1490.8 1460.3 L1492.8 1460.8 L1495 1461 L1497.5 1461.1 L1500.3 1460.8 L1503.4 1460.3 L1506.6 1461.6 L1510 1461.1 L1513.7 1460.4 L1517.6 1460.1 L1521.8 1460.2 L1525.9 1460 L1530 1459.3 L1534 1460.4 L1538 1459.9 L1542 1459.6 L1546 1459.7 L1550 1459.6 L1554.1 1459.8 L1558.4 1459.3 L1562.5 1459.6 L1566.5 1459.6 L1570 1458.9 L1573.2 1458.8 L1576.1 1458.7 L1578.8 1458.9 L1580.9 1458.7 L1582.5 1459" fill="none" stroke="#1c1a1a" stroke-width="3.2" stroke-linejoin="round" stroke-linecap="round" />
<path d="M1082.5 1455.2 L1084.8 1455 L1088.1 1456.4 L1092 1455.5 L1096.1 1455.5 L1100 1455.7 L1103.9 1455.4 L1107.9 1455.5 L1112 1456.1 L1116.1 1455.8 L1120 1456.3 L1124 1455.9 L1128.1 1455.4 L1132 1455.5 L1135.4 1455.5 L1138 1454.8 L1139.5 1455.1 L1140.2 1454.5 L1140.4 1454.4 L1140.6 1452.8 L1141 1451.9 L1141.7 1450.7 L1142.5 1448.8 L1143.3 1446.1 L1144.1 1444.8 L1145 1441.8 L1145.9 1440.1 L1146.9 1437 L1148 1434.5 L1149 1431.7 L1150 1430 L1151 1429 L1152 1426.2 L1153 1425.4 L1154 1423.9 L1155 1421.9 L1156 1421.1 L1157 1419.9 L1158 1418.1 L1159 1416.9 L1160 1416.4 L1161 1415.1 L1162 1414.9 L1163 1413.4 L1164 1412 L1165 1411.5 L1166 1410.2 L1167.1 1410.2 L1168.1 1409.4 L1169.1 1408 L1170 1406.7 L1170.7 1406.1 L1171.4 1404.5 L1172 1403.6 L1172.5 1400.7 L1173 1397.9 L1173.5 1394.1 L1173.9 1389.8 L1174.3 1386.1 L1174.6 1379.2 L1175 1369.8 L1175.3 1359.5 L1175.6 1345.8 L1175.9 1332.6 L1176.2 1317 L1176.5 1299.9 L1176.8 1281.3 L1177.1 1260.8 L1177.3 1239.4 L1177.6 1218.4 L1177.8 1199.7 L1178 1183.2 L1178.2 1167.3 L1178.3 1153.3 L1178.5 1140.4 L1178.6 1130.1 L1178.7 1121.6 L1178.8 1116.3 L1179 1112.6 L1179.1 1110.5 L1179.2 1110 L1179.3 1110.4 L1179.5 1111.7 L1179.6 1116.1 L1179.7 1121.9 L1179.9 1129.8 L1180.1 1142.1 L1180.3 1156.4 L1180.5 1173.2 L1180.7 1191.7 L1181 1210.6 L1181.3 1228.8 L1181.5 1248.5 L1181.8 1269.9 L1182.2 1290.1 L1182.5 1309.7 L1182.9 1329.5 L1183.2 1348.2 L1183.6 1367.1 L1184.1 1384.5 L1184.5 1400.4 L1185 1412.4 L1185.4 1422.4 L1185.9 1430.9 L1186.5 1438.8 L1187 1445.5 L1187.6 1450.1 L1188.1 1454.4 L1188.7 1458.1 L1189.3 1459.9 L1190 1461.9 L1190.7 1464.3 L1191.5 1465.8 L1192.3 1467.3 L1193.1 1468.2 L1194 1468.8 L1194.9 1469.8 L1195.9 1470.6 L1196.9 1470.7 L1197.9 1471.3 L1199 1471.2 L1200.1 1472.1 L1201.1 1472.3 L1202.3 1471.3 L1203.5 1471.7 L1205 1471.1 L1206.7 1470.5 L1208.7 1469.6 L1210.8 1468.9 L1212.9 1468.2 L1215 1466.6 L1216.9 1466.6 L1218.8 1465.3 L1220.6 1464.2 L1222.7 1463.8 L1225 1463.3 L1227.6 1462.2 L1230.4 1461.5 L1233.4 1460.5 L1236.6 1459.6 L1240 1459.4 L1243.8 1457.9 L1247.9 1457.7 L1252.1 1456.6 L1256.2 1455.6 L1260 1454.9 L1263.2 1454.3 L1265.9 1453.9 L1268.5 1453.5 L1271.4 1453 L1275 1451.8 L1279.4 1451.2 L1284.3 1451.4 L1289.5 1450.4 L1294.8 1449.9 L1300 1449.5 L1305 1448.7 L1310 1449.2 L1315 1448.3 L1320 1447.8 L1325 1447.1 L1330 1447.4 L1335 1447 L1340 1446.8 L1345 1446.2 L1350 1445.2 L1355 1444.7 L1360 1445.4 L1365 1444.4 L1370 1444.3 L1375 1444 L1380 1443.8 L1385 1443.4 L1390 1442.4 L1395 1442.1 L1400 1441.4 L1405 1442 L1410 1441.5 L1415 1440.7 L1420 1441.5 L1425 1441 L1430.1 1440.5 L1435.3 1440.6 L1440.5 1440.5 L1445.4 1440.7 L1450 1440.6 L1454.3 1440.2 L1458.4 1440.3 L1462.2 1439 L1465.5 1439.8 L1468 1440.3 L1469.5 1440.7 L1470.2 1441 L1470.4 1440.9 L1470.6 1441.4 L1471 1442.9 L1471.7 1445.2 L1472.5 1446.1 L1473.3 1447.5 L1474.1 1448.9 L1475 1451.1 L1475.9 1452.2 L1476.9 1453.9 L1477.9 1455 L1478.9 1455.2 L1480 1457 L1481.1 1458.1 L1482.2 1458.3 L1483.3 1458.6 L1484.6 1459.1 L1486 1459.5 L1487.5 1461.2 L1489.1 1461.3 L1490.8 1460.9 L1492.8 1461.9 L1495 1461.1 L1497.5 1461.4 L1500.3 1461.2 L1503.4 1461.3 L1506.6 1461.4 L1510 1461.7 L1513.7 1461 L1517.6 1460.4 L1521.8 1460.2 L1525.9 1459.8 L1530 1459.6 L1534 1458.9 L1538 1459 L1542 1458.8 L1546 1458.7 L1550 1457.7 L1554.1 1457.9 L1558.4 1457.5 L1562.5 1456.8 L1566.5 1456 L1570 1456.3 L1573.2 1456.7 L1576.1 1456.1 L1578.8 1456.9 L1580.9 1456.3 L1582.5 1455.8" fill="none" stroke="#344d9a" stroke-width="3.2" stroke-linejoin="round" stroke-linecap="round" />
<text font-size="36.6" fill="#1c1a1a" text-anchor="start" font-weight="normal" transform="translate(1257.3 1335.5) scale(1 1.04)" >90pA</text>
<text font-size="36.6" fill="#1c1a1a" text-anchor="start" font-weight="normal" transform="translate(1343.8 1402) scale(1 1.04)" >80pA</text>
<line x1="1251" y1="1321" x2="1209.2" y2="1316.3" stroke="#1c1a1a" stroke-width="3.2" stroke-linecap="round" />
<polygon points="1189.3,1314 1211.9,1310 1210.4,1322.9" fill="#1c1a1a"/>
<line x1="1339.5" y1="1400.5" x2="1311" y2="1422.6" stroke="#1c1a1a" stroke-width="3.2" stroke-linecap="round" />
<polygon points="1296,1434.3 1308.6,1416.3 1316.6,1426.5" fill="#1c1a1a"/>
<text font-size="39.8" fill="#bb66a4" text-anchor="start" font-weight="normal" transform="translate(1125.5 1560) scale(1 1.04)" >-50%WT<tspan font-size="31">s</tspan>/+50%I234T<tspan font-size="31">s</tspan></text>
<path d="M1109.5 1615.5 V1686.5 H1193.5" fill="none" stroke="#1c1a1a" stroke-width="3.5" stroke-linecap="round" stroke-linejoin="round"/>
<text font-size="26" fill="#1c1a1a" text-anchor="start" font-weight="normal" transform="translate(1014 1660) scale(1 1.04)" >20 mV</text>
<text font-size="26" fill="#1c1a1a" text-anchor="start" font-weight="normal" transform="translate(1138 1711.5) scale(1 1.04)" >1 s</text>
<text font-size="40.2" fill="#1c1a1a" text-anchor="start" font-weight="normal" transform="translate(852 1919) scale(1 1.04)" >-46.6mV</text>
<path d="M1012.9 1736h9.7M1035.5 1736h9.7M1058.1 1736h9.7M1080.8 1736h9.7M1103.4 1736h9.7M1126 1736h9.7M1148.7 1736h9.7M1171.3 1736h9.7M1193.9 1736h9.7M1216.6 1736h9.7M1239.2 1736h9.7M1261.8 1736h9.7M1284.5 1736h9.7M1307.1 1736h9.7M1329.8 1736h9.7M1352.4 1736h9.7M1375 1736h9.7M1397.7 1736h9.7M1420.3 1736h9.7M1442.9 1736h9.7M1465.6 1736h9.7M1488.2 1736h9.7M1510.8 1736h9.7M1533.5 1736h9.7M1556.1 1736h9.7M1578.8 1736h9.7" fill="none" stroke="#1c1a1a" stroke-width="3.7" stroke-linecap="round"/>
<path d="M1010 1903 L1010.9 1903.8 L1011.8 1901.7 L1012.7 1903 L1013.6 1903.3 L1014.5 1904.3 L1015.4 1903.5 L1016.3 1902.2 L1017.2 1904.5 L1018.1 1903.2 L1019 1902 L1019.9 1903.8 L1020.8 1903.3 L1021.7 1903.9 L1022.6 1902.8 L1023.5 1902.5 L1024.4 1902.5 L1025.3 1903.6 L1026.2 1901.9 L1027.1 1902.4 L1028 1903 L1028.9 1904.1 L1029.8 1903.8 L1030.7 1904.1 L1031.6 1902.7 L1032.5 1903.7 L1033.4 1905.4 L1034.3 1901.9 L1035.2 1904.5 L1036.1 1904.1 L1037 1903.7 L1037.9 1902.8 L1038.8 1902.2 L1039.7 1903.8 L1040.6 1904.1 L1041.5 1905.8 L1042.4 1903.1 L1043.3 1902.7 L1044.2 1903.2 L1045.1 1904.4 L1046 1903.1 L1046.9 1901.8 L1047.8 1903.1 L1048.7 1903.1 L1049.6 1903.4 L1050.5 1904.4 L1051.4 1902.6 L1052.3 1904.2 L1053.2 1904.1 L1054.1 1904.3 L1055 1905.1 L1055.9 1903.5 L1056.8 1905.8 L1057.7 1905.2 L1058.6 1904.4 L1059.5 1903.3 L1060.4 1903.6 L1061.3 1903 L1062.2 1905.1 L1063.1 1903.3 L1064 1902.4 L1064.9 1902.5 L1065.8 1903.9 L1066.7 1904.8 L1067.6 1903.5 L1068.5 1904.9 L1069.4 1903.4 L1070.3 1905.6 L1071.2 1906 L1072.1 1904.7 L1073 1904.8 L1073.9 1906.3 L1074.8 1904.4 L1075.7 1903.2 L1076.6 1904.4 L1077.5 1903.9 L1078.4 1904 L1079.3 1904.1 L1080.2 1904.5 L1081.1 1904.1 L1082 1904.4 L1082.9 1905.9 L1083.8 1903.5 L1084.7 1905.2 L1085.6 1904.3 L1086.5 1903.6 L1087.4 1903.8 L1088.3 1902.9 L1089.2 1904.3 L1090.1 1903.9 L1091 1901.9 L1091.9 1903.4 L1092.8 1903.7 L1093.7 1902.8 L1094.6 1904.4 L1095.5 1903.6 L1096.4 1905.4 L1097.3 1903.3 L1098.2 1902.5 L1099.1 1903.2 L1100 1903.5 L1100.9 1903.5 L1101.8 1903.7 L1102.7 1903.7 L1103.6 1904.8 L1104.5 1904.5 L1105.4 1902.9 L1106.3 1902.8 L1107.2 1902.6 L1108.1 1903.9 L1109 1903.4 L1109.9 1902.7 L1110.8 1903.9 L1111.7 1902.8 L1112.6 1905.3 L1113.5 1903.8 L1114.4 1902.3 L1115.3 1903.6 L1116.2 1902.8 L1117.1 1902.2 L1118 1903.2 L1118.9 1901.7 L1119.8 1903.7 L1120.7 1903.3 L1121.6 1901.6 L1122.5 1903.7 L1123.4 1903.1 L1124.3 1903.6 L1125.2 1904.1 L1126.1 1905.9 L1127 1902.8 L1127.9 1904.3 L1128.8 1902.8 L1129.7 1901.5 L1130.6 1903.2 L1131.5 1902.6 L1132.4 1901 L1133.3 1903.4 L1134.2 1904.1 L1135.1 1904.6 L1136 1902.6 L1136.9 1902.5 L1137.8 1902.6 L1138.7 1902.3 L1139.6 1902.8 L1140.5 1903.1 L1141.4 1902.3 L1142.3 1901.7 L1143.2 1903 L1144.1 1904.4 L1145 1903.1 L1145.9 1902.8 L1146.8 1904.3 L1147.7 1905.5 L1148.6 1902 L1149.5 1903.5 L1150.4 1904.2 L1151.3 1901.9 L1152.2 1904.2 L1153.1 1905.6 L1154 1902.3 L1154.9 1902.6 L1155.8 1905 L1156.7 1906.2 L1157.6 1902.6 L1158.5 1903.6 L1159.4 1903.8 L1160.3 1903.2 L1161.2 1906.2 L1162.1 1904.3 L1163 1903.5 L1163.9 1904.3 L1164.8 1905.5 L1165.7 1903.8 L1166.6 1903 L1167.5 1903.9 L1168.4 1903.9 L1169.3 1904.1 L1170.2 1904.1 L1171.1 1905.1 L1172 1903.5 L1172.9 1903.2 L1173.8 1904.4 L1174.7 1905 L1175.6 1904.2 L1176.5 1903.2 L1177.4 1902.1 L1178.3 1903.7 L1179.2 1902.5 L1180.1 1904.7 L1181 1902.2 L1181.9 1903.8 L1182.8 1903.2 L1183.7 1903.7 L1184.6 1902.9 L1185.5 1903 L1186.4 1904.7 L1187.3 1903.8 L1188.2 1903.9 L1189.1 1902.3 L1190 1903.2 L1190.9 1902.7 L1191.8 1901.9 L1192.7 1903.5 L1193.6 1902.1 L1194.5 1901.5 L1195.4 1902.3 L1196.3 1903.2 L1197.2 1904.1 L1198.1 1902.8 L1199 1903.4 L1199.9 1904.3 L1200.8 1902.8 L1201.7 1902.7 L1202.6 1901.2 L1203.5 1903.7 L1204.4 1905.6 L1205.3 1903.3 L1206.2 1905.2 L1207.1 1903.2 L1208 1899.9 L1208.9 1900.5 L1209.8 1901.5 L1210.7 1901.2 L1211.6 1901.6 L1212.5 1902.1 L1213.4 1903 L1214.3 1904.2 L1215.2 1901.8 L1216.1 1902.3 L1217 1903.4 L1217.9 1903.9 L1218.8 1902.8 L1219.7 1904.4 L1220.6 1902.6 L1221.5 1903.3 L1222.4 1902.9 L1223.3 1903 L1224.2 1901 L1225.1 1901 L1226 1902.4 L1226.9 1903.4 L1227.8 1900.8 L1228.7 1903 L1229.6 1901.6 L1230.5 1902.8 L1231.4 1902.3 L1232.3 1903.3 L1233.2 1902.3 L1234.1 1902.1 L1235 1901.9 L1235.9 1902.6 L1236.8 1902.6 L1237.7 1903.5 L1238.6 1903.3 L1239.5 1903.9 L1240.4 1902.2 L1241.3 1901.4 L1242.2 1903.6 L1243.1 1903.7 L1244 1903.8 L1244.9 1902.1 L1245.8 1901.8 L1246.7 1903.1 L1247.6 1903.5 L1248.5 1904.8 L1249.4 1903.2 L1250.3 1901.8 L1251.2 1904.6 L1252.1 1903 L1253 1901.5 L1253.9 1903.9 L1254.8 1904.8 L1255.7 1903.5 L1256.6 1903.3 L1257.5 1902.2 L1258.4 1904.8 L1259.3 1902.9 L1260.2 1906.4 L1261.1 1903.6 L1262 1904.4 L1262.9 1903.6 L1263.8 1902.5 L1264.7 1905.9 L1265.6 1902.6 L1266.5 1902.7 L1267.4 1901.1 L1268.3 1905.2 L1269.2 1902.8 L1270.1 1903.2 L1271 1904.4 L1271.9 1902.3 L1272.8 1902.4 L1273.7 1902.7 L1274.6 1902.6 L1275.5 1902.1 L1276.4 1904.4 L1277.3 1904.1 L1278.2 1901.7 L1279.1 1903.3 L1280 1904.3 L1280.9 1903.1 L1281.8 1901.5 L1282.7 1902.4 L1283.6 1902.9 L1284.5 1901.7 L1285.4 1901.7 L1286.3 1901.8 L1287.2 1901.2 L1288.1 1901.3 L1289 1902.6 L1289.9 1902.7 L1290.8 1901.4 L1291.7 1902.6 L1292.6 1901.7 L1293.5 1901.9 L1294.4 1902.5 L1295.3 1902.9 L1296.2 1902.4 L1297.1 1901.9 L1298 1902.3 L1298.9 1902 L1299.8 1901.9 L1300.7 1902.1 L1301.6 1902.9 L1302.5 1903 L1303.4 1902.6 L1304.3 1902.3 L1305.2 1904 L1306.1 1903.7 L1307 1902.9 L1307.9 1903.3 L1308.8 1902 L1309.7 1902.6 L1310.6 1902.7 L1311.5 1902.9 L1312.4 1902.5 L1313.3 1901.4 L1314.2 1899.9 L1315.1 1903 L1316 1901.8 L1316.9 1902.7 L1317.8 1902.7 L1318.7 1902 L1319.6 1904 L1320.5 1901.4 L1321.4 1900.2 L1322.3 1901 L1323.2 1900.1 L1324.1 1902.2 L1325 1899.7 L1325.9 1901.2 L1326.8 1902.4 L1327.7 1900.6 L1328.6 1902.3 L1329.5 1900.4 L1330.4 1901.7 L1331.3 1902 L1332.2 1902.6 L1333.1 1902.9 L1334 1904.2 L1334.9 1902 L1335.8 1903 L1336.7 1903.2 L1337.6 1904.6 L1338.5 1903.8 L1339.4 1903.3 L1340.3 1902.4 L1341.2 1902.9 L1342.1 1903.4 L1343 1900.7 L1343.9 1903.4 L1344.8 1904.2 L1345.7 1901.1 L1346.6 1902.2 L1347.5 1903.9 L1348.4 1902 L1349.3 1901.8 L1350.2 1901.4 L1351.1 1902.6 L1352 1900.5 L1352.9 1901.3 L1353.8 1900.6 L1354.7 1901.5 L1355.6 1903.4 L1356.5 1901.1 L1357.4 1902.8 L1358.3 1901.6 L1359.2 1902.3 L1360.1 1902.4 L1361 1901.4 L1361.9 1901.2 L1362.8 1904" fill="none" stroke="#bb66a4" stroke-width="7.0" stroke-linejoin="round" stroke-linecap="butt" />
<path d="M1364.3 1906 L1364.4 1573.5" fill="none" stroke="#bb66a4" stroke-width="3.0" stroke-linejoin="round" stroke-linecap="round" />
<path d="M1364.5 1573.5 L1364.8 1939.5" fill="none" stroke="#bb66a4" stroke-width="3.0" stroke-linejoin="round" stroke-linecap="round" />
<path d="M1365 1940.2 L1365.9 1934.8 L1366.8 1930.2 L1367.7 1926.5 L1368.6 1923.3 L1369.5 1920.7 L1370.4 1918.5 L1371.3 1916.6 L1372.2 1915 L1373.1 1913.7" fill="none" stroke="#bb66a4" stroke-width="4.0" stroke-linejoin="round" stroke-linecap="round" />
<path d="M1372.2 1915 L1373.1 1913.7 L1374 1912.6 L1374.9 1911.6 L1375.8 1910.7 L1376.7 1910 L1377.6 1909.4 L1378.5 1908.8 L1379.4 1908.4 L1380.3 1907.9 L1381.2 1907.6 L1382.1 1907.2" fill="none" stroke="#bb66a4" stroke-width="5.2" stroke-linejoin="round" stroke-linecap="round" />
<path d="M1381.2 1907.6 L1382.1 1907.2 L1383 1906.9 L1383.9 1906.7 L1384.8 1906.4 L1385.7 1906.2 L1386.6 1906 L1387.5 1905.8 L1388.4 1905.7 L1389.3 1905.5 L1390.2 1905.4 L1391.1 1905.2 L1392 1905.1 L1392.9 1905 L1393.8 1904.9 L1394.7 1904.8 L1395.6 1904.7 L1396.5 1904.6 L1397.4 1904.5 L1398.3 1904.5" fill="none" stroke="#bb66a4" stroke-width="6.4" stroke-linejoin="round" stroke-linecap="round" />
<path d="M1393.8 1902.8 L1394.7 1903.5 L1395.6 1902.5 L1396.5 1904.2 L1397.4 1904.9 L1398.3 1903 L1399.2 1903.5 L1400.1 1903.7 L1401 1902.8 L1401.9 1903.2 L1402.8 1903.4 L1403.7 1904 L1404.6 1901 L1405.5 1901.4 L1406.4 1903.4 L1407.3 1901.2 L1408.2 1902.7 L1409.1 1903.9 L1410 1902.7 L1410.9 1903.2 L1411.8 1905.2 L1412.7 1903.9 L1413.6 1902.3 L1414.5 1905.2 L1415.4 1905.4 L1416.3 1905.5 L1417.2 1903.3 L1418.1 1904.3 L1419 1903.2 L1419.9 1906.3 L1420.8 1905.1 L1421.7 1904.9 L1422.6 1904.7 L1423.5 1904 L1424.4 1905.8 L1425.3 1905.6 L1426.2 1903.4 L1427.1 1905.9 L1428 1905 L1428.9 1903.9 L1429.8 1902.9 L1430.7 1903.6 L1431.6 1903.8 L1432.5 1905.1 L1433.4 1902.2 L1434.3 1904.4 L1435.2 1903.3 L1436.1 1904.8 L1437 1902.4 L1437.9 1901.7 L1438.8 1901.2 L1439.7 1900.8 L1440.6 1900.5 L1441.5 1901.3 L1442.4 1902.1 L1443.3 1901.4 L1444.2 1903.3 L1445.1 1902.5 L1446 1900.8 L1446.9 1900.5 L1447.8 1900.6 L1448.7 1900.6 L1449.6 1900.5 L1450.5 1902.4 L1451.4 1902.2 L1452.3 1902.6 L1453.2 1900.2 L1454.1 1903.1 L1455 1904.3 L1455.9 1903.5 L1456.8 1903.4 L1457.7 1901.7 L1458.6 1901.1 L1459.5 1903.8 L1460.4 1904.3 L1461.3 1902.5 L1462.2 1903.6 L1463.1 1901.7 L1464 1904.3 L1464.9 1905.6 L1465.8 1904.7 L1466.7 1905.3 L1467.6 1905.1 L1468.5 1902.6 L1469.4 1903.8 L1470.3 1903.5 L1471.2 1904.1 L1472.1 1903.5 L1473 1903.4 L1473.9 1904 L1474.8 1903.3 L1475.7 1905 L1476.6 1902.5 L1477.5 1903.8 L1478.4 1903.6 L1479.3 1902.5 L1480.2 1901.9 L1481.1 1902.9 L1482 1902.4 L1482.9 1904.3 L1483.8 1904.5 L1484.7 1904.5 L1485.6 1903.3 L1486.5 1905.9 L1487.4 1904.8 L1488.3 1905.1 L1489.2 1905.1 L1490.1 1904.2 L1491 1904.9 L1491.9 1905.5 L1492.8 1904.8 L1493.7 1903.2 L1494.6 1903.2 L1495.5 1903.1 L1496.4 1905.1 L1497.3 1904.3 L1498.2 1902.5 L1499.1 1903.8 L1500 1903.9 L1500.9 1903.7 L1501.8 1902.4 L1502.7 1903.3 L1503.6 1904.4 L1504.5 1904.3 L1505.4 1902.8 L1506.3 1905.9 L1507.2 1902.6 L1508.1 1902.5 L1509 1900.9 L1509.9 1901.1 L1510.8 1901.8 L1511.7 1902.5 L1512.6 1903.1 L1513.5 1902.4 L1514.4 1902.5 L1515.3 1902.3 L1516.2 1902 L1517.1 1901.9 L1518 1903.7 L1518.9 1901.9 L1519.8 1902 L1520.7 1903.1 L1521.6 1903.6 L1522.5 1900.6 L1523.4 1900 L1524.3 1901.8 L1525.2 1901.9 L1526.1 1901.6 L1527 1903.9 L1527.9 1903.6 L1528.8 1901.3 L1529.7 1900.5 L1530.6 1901.6 L1531.5 1902.7 L1532.4 1902.6 L1533.3 1903.9 L1534.2 1902.5 L1535.1 1903.3 L1536 1902.6 L1536.9 1903.6 L1537.8 1903.1 L1538.7 1902.6 L1539.6 1903.4 L1540.5 1903.8 L1541.4 1901.6 L1542.3 1903.1 L1543.2 1904.3 L1544.1 1902.4 L1545 1902 L1545.9 1903 L1546.8 1902.3 L1547.7 1902.9 L1548.6 1901.5 L1549.5 1902.3 L1550.4 1903.1 L1551.3 1902.7 L1552.2 1903.2 L1553.1 1903.6 L1554 1903.4 L1554.9 1904.2 L1555.8 1902.2 L1556.7 1902.1 L1557.6 1904.9 L1558.5 1904.1 L1559.4 1903.6 L1560.3 1903.4 L1561.2 1902.9 L1562.1 1903.9 L1563 1905 L1563.9 1901.9 L1564.8 1903 L1565.7 1902.7 L1566.6 1902.4 L1567.5 1903.3 L1568.4 1903.4 L1569.3 1903.9 L1570.2 1904 L1571.1 1903 L1572 1901.6 L1572.9 1902.8 L1573.8 1904 L1574.7 1902.1 L1575.6 1902.5 L1576.5 1902 L1577.4 1901.5 L1578.3 1903.1 L1579.2 1901.6 L1580.1 1900.5 L1581 1901.4 L1581.9 1902.7 L1582.8 1903 L1583.7 1903.1 L1584.6 1903.6 L1585.5 1903.9 L1586.4 1904.6 L1587.3 1902.9 L1588.2 1903.5 L1589.1 1902.4 L1590 1902.7 L1590.9 1902.2 L1591.8 1904.2 L1592.7 1903.6 L1593.6 1905.1 L1594.5 1904.7 L1595.4 1903.3 L1596.3 1904.3" fill="none" stroke="#bb66a4" stroke-width="7.0" stroke-linejoin="round" stroke-linecap="butt" />
</svg>
</body></html>
